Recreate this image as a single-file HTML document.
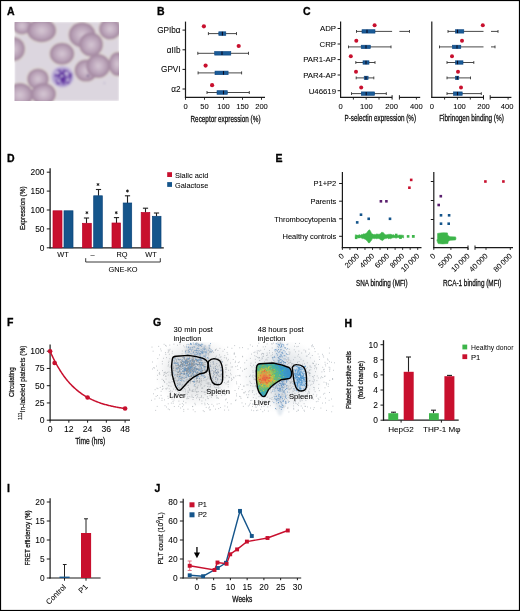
<!DOCTYPE html><html><head><meta charset="utf-8"><style>html,body{margin:0;padding:0;background:#fff;overflow:hidden}svg{display:block;will-change:transform}text{font-family:"Liberation Sans",sans-serif}</style></head><body>
<svg width="520" height="611" viewBox="0 0 520 611">
<rect x="0" y="0" width="520" height="611" fill="#fff"/>
<defs><filter id="bl" x="-10%" y="-10%" width="120%" height="120%"><feGaussianBlur stdDeviation="0.85"/></filter><filter id="bl2"><feGaussianBlur stdDeviation="0.5"/></filter><radialGradient id="rbc" cx="50%" cy="50%" r="50%"><stop offset="0" stop-color="#d4c6d3"/><stop offset="0.35" stop-color="#c6b2c5"/><stop offset="0.7" stop-color="#b39bb2"/><stop offset="0.92" stop-color="#a2869f"/><stop offset="1" stop-color="#aa90a8"/></radialGradient><radialGradient id="plt" cx="50%" cy="50%" r="50%"><stop offset="0" stop-color="#a98ec6"/><stop offset="0.8" stop-color="#9a7dbb"/><stop offset="1" stop-color="#b6a5cc"/></radialGradient><clipPath id="clipA"><rect x="14.5" y="22" width="104.5" height="79"/></clipPath><radialGradient id="heat" gradientUnits="userSpaceOnUse" cx="265" cy="378" r="24"><stop offset="0" stop-color="#e06a4a"/><stop offset="0.15" stop-color="#e0904a"/><stop offset="0.3" stop-color="#b8c050"/><stop offset="0.45" stop-color="#6cbc6c"/><stop offset="0.62" stop-color="#44b0a8"/><stop offset="0.8" stop-color="#3ea0c4"/><stop offset="1" stop-color="#3a90c8"/></radialGradient></defs>
<text x="7.00" y="14.50" font-size="10.5" text-anchor="start" font-weight="bold" fill="#000" stroke="#000" stroke-width="0.3">A</text>
<g clip-path="url(#clipA)"><g filter="url(#bl)">
<rect x="14.50" y="22.00" width="104.50" height="79.00" fill="#dcd6df"/>
<ellipse cx="22" cy="26" rx="10.5" ry="9.5" fill="#e2dbd2"/>
<ellipse cx="41.6" cy="30.5" rx="15.6" ry="12.8" fill="#e2dbd2"/>
<ellipse cx="13.5" cy="49" rx="12.5" ry="13" fill="#e2dbd2"/>
<ellipse cx="62" cy="53.8" rx="13.3" ry="12" fill="#e2dbd2"/>
<ellipse cx="38" cy="79" rx="11.8" ry="11.5" fill="#e2dbd2"/>
<ellipse cx="20" cy="95" rx="14" ry="13" fill="#e2dbd2"/>
<ellipse cx="43.5" cy="94" rx="13.5" ry="12" fill="#e2dbd2"/>
<ellipse cx="82.1" cy="34.8" rx="14.5" ry="13.5" fill="#e2dbd2"/>
<ellipse cx="91" cy="44.5" rx="13" ry="13" fill="#e2dbd2"/>
<ellipse cx="110" cy="29" rx="12" ry="11.5" fill="#e2dbd2"/>
<ellipse cx="86" cy="70.6" rx="12.5" ry="12" fill="#e2dbd2"/>
<ellipse cx="98.2" cy="66" rx="13" ry="13" fill="#e2dbd2"/>
<ellipse cx="117.5" cy="64" rx="10" ry="13" fill="#e2dbd2"/>
<ellipse cx="22" cy="26" rx="9.5" ry="8.5" fill="url(#rbc)" opacity="0.96"/>
<ellipse cx="41.6" cy="30.5" rx="14.6" ry="11.8" fill="url(#rbc)" opacity="0.96"/>
<ellipse cx="13.5" cy="49" rx="11.5" ry="12" fill="url(#rbc)" opacity="0.96"/>
<ellipse cx="62" cy="53.8" rx="12.3" ry="11" fill="url(#rbc)" opacity="0.96"/>
<ellipse cx="38" cy="79" rx="10.8" ry="10.5" fill="url(#rbc)" opacity="0.96"/>
<ellipse cx="20" cy="95" rx="13" ry="12" fill="url(#rbc)" opacity="0.96"/>
<ellipse cx="43.5" cy="94" rx="12.5" ry="11" fill="url(#rbc)" opacity="0.96"/>
<ellipse cx="82.1" cy="34.8" rx="13.5" ry="12.5" fill="url(#rbc)" opacity="0.96"/>
<ellipse cx="91" cy="44.5" rx="12" ry="12" fill="url(#rbc)" opacity="0.96"/>
<ellipse cx="110" cy="29" rx="11" ry="10.5" fill="url(#rbc)" opacity="0.96"/>
<ellipse cx="86" cy="70.6" rx="11.5" ry="11" fill="url(#rbc)" opacity="0.96"/>
<ellipse cx="98.2" cy="66" rx="12" ry="12" fill="url(#rbc)" opacity="0.96"/>
<ellipse cx="117.5" cy="64" rx="9" ry="12" fill="url(#rbc)" opacity="0.96"/>
<ellipse cx="62.5" cy="76.8" rx="11.2" ry="10.6" fill="#bcaed6"/>
<ellipse cx="62.8" cy="77.5" rx="9" ry="8.6" fill="#9a80c4" opacity="0.7"/>
<circle cx="62.0" cy="79.1" r="1.4" fill="#5d2f9e" opacity="0.65"/>
<circle cx="67.4" cy="79.7" r="1.1" fill="#5d2f9e" opacity="0.65"/>
<circle cx="67.4" cy="79.2" r="0.7" fill="#5d2f9e" opacity="0.65"/>
<circle cx="61.9" cy="77.9" r="0.8" fill="#5d2f9e" opacity="0.65"/>
<circle cx="56.3" cy="80.7" r="0.8" fill="#5d2f9e" opacity="0.65"/>
<circle cx="63.8" cy="83.0" r="1.6" fill="#5d2f9e" opacity="0.65"/>
<circle cx="59.2" cy="75.7" r="1.7" fill="#5d2f9e" opacity="0.65"/>
<circle cx="70.0" cy="79.6" r="1.0" fill="#5d2f9e" opacity="0.65"/>
<circle cx="63.7" cy="78.6" r="1.0" fill="#5d2f9e" opacity="0.65"/>
<circle cx="63.7" cy="75.6" r="1.3" fill="#5d2f9e" opacity="0.65"/>
<circle cx="60.3" cy="74.7" r="1.2" fill="#5d2f9e" opacity="0.65"/>
<circle cx="63.6" cy="77.8" r="0.9" fill="#5d2f9e" opacity="0.65"/>
<circle cx="61.0" cy="73.8" r="1.0" fill="#5d2f9e" opacity="0.65"/>
<circle cx="58.9" cy="75.3" r="1.0" fill="#5d2f9e" opacity="0.65"/>
<circle cx="64.6" cy="71.7" r="0.9" fill="#5d2f9e" opacity="0.65"/>
<circle cx="58.3" cy="75.3" r="1.6" fill="#5d2f9e" opacity="0.65"/>
<circle cx="62.4" cy="74.5" r="1.7" fill="#5d2f9e" opacity="0.65"/>
<circle cx="65.9" cy="80.2" r="1.5" fill="#5d2f9e" opacity="0.65"/>
<circle cx="65.6" cy="81.2" r="0.7" fill="#5d2f9e" opacity="0.65"/>
<circle cx="59.4" cy="71.8" r="1.3" fill="#5d2f9e" opacity="0.65"/>
<circle cx="65.2" cy="75.2" r="1.4" fill="#5d2f9e" opacity="0.65"/>
<circle cx="58.2" cy="74.6" r="1.2" fill="#5d2f9e" opacity="0.65"/>
<circle cx="67.1" cy="71.0" r="1.2" fill="#5d2f9e" opacity="0.65"/>
<circle cx="62.3" cy="76.8" r="1.4" fill="#5d2f9e" opacity="0.65"/>
<circle cx="57.7" cy="71.1" r="1.5" fill="#5d2f9e" opacity="0.65"/>
<circle cx="61.9" cy="81.2" r="1.4" fill="#5d2f9e" opacity="0.65"/>
<circle cx="67.3" cy="78.1" r="0.9" fill="#5d2f9e" opacity="0.65"/>
<circle cx="63.5" cy="78.1" r="1.5" fill="#5d2f9e" opacity="0.65"/>
<circle cx="64.7" cy="79.4" r="1.1" fill="#5d2f9e" opacity="0.65"/>
<circle cx="63.6" cy="76.7" r="1.1" fill="#5d2f9e" opacity="0.65"/>
<circle cx="55.5" cy="75.3" r="1.5" fill="#5d2f9e" opacity="0.65"/>
<circle cx="64.8" cy="75.3" r="1.1" fill="#5d2f9e" opacity="0.65"/>
<circle cx="57.9" cy="83.2" r="1.7" fill="#5d2f9e" opacity="0.65"/>
<circle cx="64.0" cy="79.1" r="0.9" fill="#5d2f9e" opacity="0.65"/>
<circle cx="63.3" cy="82.0" r="1.3" fill="#5d2f9e" opacity="0.65"/>
<circle cx="62.8" cy="77.6" r="1.1" fill="#5d2f9e" opacity="0.65"/>
<circle cx="59.1" cy="81.3" r="1.7" fill="#5d2f9e" opacity="0.65"/>
<circle cx="61.0" cy="73.1" r="1.3" fill="#5d2f9e" opacity="0.65"/>
<circle cx="62.4" cy="76.8" r="1.6" fill="#5d2f9e" opacity="0.65"/>
<circle cx="64.2" cy="70.4" r="1.5" fill="#5d2f9e" opacity="0.65"/>
<circle cx="59.6" cy="79.9" r="0.8" fill="#5d2f9e" opacity="0.65"/>
<circle cx="62.2" cy="76.8" r="0.8" fill="#5d2f9e" opacity="0.65"/>
<circle cx="63.3" cy="79.3" r="1.0" fill="#5d2f9e" opacity="0.65"/>
<circle cx="62.8" cy="77.5" r="0.9" fill="#5d2f9e" opacity="0.65"/>
<circle cx="65.8" cy="79.6" r="0.7" fill="#5d2f9e" opacity="0.65"/>
<circle cx="66.9" cy="73.6" r="0.8" fill="#5d2f9e" opacity="0.65"/>
<circle cx="62.7" cy="81.0" r="1.1" fill="#5d2f9e" opacity="0.65"/>
<circle cx="68.1" cy="82.4" r="1.7" fill="#5d2f9e" opacity="0.65"/>
<circle cx="58.2" cy="78.5" r="0.8" fill="#5d2f9e" opacity="0.65"/>
<circle cx="65.7" cy="79.6" r="1.0" fill="#5d2f9e" opacity="0.65"/>
<circle cx="63.7" cy="75.8" r="0.7" fill="#5d2f9e" opacity="0.65"/>
<circle cx="67.7" cy="76.0" r="0.8" fill="#5d2f9e" opacity="0.65"/>
<circle cx="62.3" cy="77.4" r="1.2" fill="#5d2f9e" opacity="0.65"/>
<circle cx="70.3" cy="76.5" r="1.4" fill="#5d2f9e" opacity="0.65"/>
<circle cx="62.5" cy="81.1" r="0.9" fill="#5d2f9e" opacity="0.65"/>
<circle cx="63.5" cy="72.7" r="1.5" fill="#5d2f9e" opacity="0.65"/>
<circle cx="61.6" cy="79.6" r="1.5" fill="#5d2f9e" opacity="0.65"/>
<circle cx="70.2" cy="76.8" r="1.5" fill="#5d2f9e" opacity="0.65"/>
<circle cx="65.6" cy="71.7" r="0.9" fill="#5d2f9e" opacity="0.65"/>
<circle cx="59.1" cy="77.1" r="0.7" fill="#5d2f9e" opacity="0.65"/>
<circle cx="65.8" cy="78.0" r="1.0" fill="#5d2f9e" opacity="0.65"/>
<circle cx="59.9" cy="70.2" r="1.1" fill="#5d2f9e" opacity="0.65"/>
<circle cx="70.6" cy="74.4" r="1.7" fill="#5d2f9e" opacity="0.65"/>
<circle cx="61.1" cy="79.3" r="0.9" fill="#5d2f9e" opacity="0.65"/>
<circle cx="63.6" cy="79.6" r="1.3" fill="#5d2f9e" opacity="0.65"/>
<circle cx="68.8" cy="73.4" r="1.2" fill="#5d2f9e" opacity="0.65"/>
<circle cx="58.7" cy="72.0" r="0.8" fill="#5d2f9e" opacity="0.65"/>
<circle cx="58.6" cy="71.2" r="1.5" fill="#5d2f9e" opacity="0.65"/>
<circle cx="62.8" cy="73.0" r="0.9" fill="#5d2f9e" opacity="0.65"/>
<circle cx="63.7" cy="74.3" r="1.5" fill="#5d2f9e" opacity="0.65"/>
<circle cx="57.5" cy="72.5" r="1.8" fill="#cbbfe0" opacity="0.85"/>
<circle cx="66.5" cy="73.5" r="2.0" fill="#cbbfe0" opacity="0.85"/>
<circle cx="59" cy="81" r="1.5" fill="#cbbfe0" opacity="0.85"/>
<circle cx="67.5" cy="80" r="1.6" fill="#cbbfe0" opacity="0.85"/>
<circle cx="62" cy="76" r="1.2" fill="#cbbfe0" opacity="0.85"/>
<circle cx="87.8" cy="75.7" r="0.9" fill="#3a2a70"/>
<circle cx="104.3" cy="83.1" r="0.5" fill="#7060a0"/>
</g></g>
<text x="157.00" y="14.50" font-size="10.5" text-anchor="start" font-weight="bold" fill="#000" stroke="#000" stroke-width="0.3">B</text>
<line x1="185.50" y1="21.60" x2="185.50" y2="97.80" stroke="#1a1a1a" stroke-width="1.2"/>
<line x1="184.90" y1="97.30" x2="265.00" y2="97.30" stroke="#1a1a1a" stroke-width="1.2"/>
<line x1="185.50" y1="97.30" x2="185.50" y2="99.80" stroke="#1a1a1a" stroke-width="0.9"/>
<text x="185.50" y="108.90" font-size="7.6" text-anchor="middle" stroke="#1a1a1a" stroke-width="0.06">0</text>
<line x1="204.50" y1="97.30" x2="204.50" y2="99.80" stroke="#1a1a1a" stroke-width="0.9"/>
<text x="204.50" y="108.90" font-size="7.6" text-anchor="middle" stroke="#1a1a1a" stroke-width="0.06">50</text>
<line x1="223.50" y1="97.30" x2="223.50" y2="99.80" stroke="#1a1a1a" stroke-width="0.9"/>
<text x="223.50" y="108.90" font-size="7.6" text-anchor="middle" stroke="#1a1a1a" stroke-width="0.06">100</text>
<line x1="242.50" y1="97.30" x2="242.50" y2="99.80" stroke="#1a1a1a" stroke-width="0.9"/>
<text x="242.50" y="108.90" font-size="7.6" text-anchor="middle" stroke="#1a1a1a" stroke-width="0.06">150</text>
<line x1="261.50" y1="97.30" x2="261.50" y2="99.80" stroke="#1a1a1a" stroke-width="0.9"/>
<text x="261.50" y="108.90" font-size="7.6" text-anchor="middle" stroke="#1a1a1a" stroke-width="0.06">200</text>
<text x="225.50" y="121.50" font-size="8.6" text-anchor="middle" textLength="70" lengthAdjust="spacingAndGlyphs" stroke="#1a1a1a" stroke-width="0.26">Receptor expression (%)</text>
<line x1="182.50" y1="30.10" x2="185.50" y2="30.10" stroke="#1a1a1a" stroke-width="1"/>
<text x="180.60" y="33.00" font-size="8.2" text-anchor="end" stroke="#1a1a1a" stroke-width="0.06">GPIb&#945;</text>
<circle cx="203.90" cy="26.30" r="2.1" fill="#c8102e"/>
<line x1="208.40" y1="33.60" x2="236.50" y2="33.60" stroke="#333" stroke-width="0.9"/>
<line x1="208.40" y1="32.10" x2="208.40" y2="35.10" stroke="#333" stroke-width="0.9"/>
<line x1="236.50" y1="32.10" x2="236.50" y2="35.10" stroke="#333" stroke-width="0.9"/>
<rect x="218.80" y="31.80" width="7.00" height="3.60" fill="#1a5b97" stroke="#0b4580" stroke-width="0.6"/>
<line x1="222.40" y1="31.80" x2="222.40" y2="35.40" stroke="#0a0a20" stroke-width="1.1"/>
<line x1="182.50" y1="49.80" x2="185.50" y2="49.80" stroke="#1a1a1a" stroke-width="1"/>
<text x="180.60" y="52.70" font-size="8.2" text-anchor="end" stroke="#1a1a1a" stroke-width="0.06">&#945;IIb</text>
<circle cx="238.70" cy="46.00" r="2.1" fill="#c8102e"/>
<line x1="197.80" y1="53.30" x2="248.50" y2="53.30" stroke="#333" stroke-width="0.9"/>
<line x1="197.80" y1="51.80" x2="197.80" y2="54.80" stroke="#333" stroke-width="0.9"/>
<line x1="248.50" y1="51.80" x2="248.50" y2="54.80" stroke="#333" stroke-width="0.9"/>
<rect x="214.70" y="51.50" width="16.10" height="3.60" fill="#1a5b97" stroke="#0b4580" stroke-width="0.6"/>
<line x1="222.00" y1="51.50" x2="222.00" y2="55.10" stroke="#0a0a20" stroke-width="1.1"/>
<line x1="182.50" y1="69.40" x2="185.50" y2="69.40" stroke="#1a1a1a" stroke-width="1"/>
<text x="180.60" y="72.30" font-size="8.2" text-anchor="end" stroke="#1a1a1a" stroke-width="0.06">GPVI</text>
<circle cx="205.60" cy="65.60" r="2.1" fill="#c8102e"/>
<line x1="198.10" y1="72.90" x2="241.60" y2="72.90" stroke="#333" stroke-width="0.9"/>
<line x1="198.10" y1="71.40" x2="198.10" y2="74.40" stroke="#333" stroke-width="0.9"/>
<line x1="241.60" y1="71.40" x2="241.60" y2="74.40" stroke="#333" stroke-width="0.9"/>
<rect x="215.00" y="71.10" width="13.10" height="3.60" fill="#1a5b97" stroke="#0b4580" stroke-width="0.6"/>
<line x1="223.50" y1="71.10" x2="223.50" y2="74.70" stroke="#0a0a20" stroke-width="1.1"/>
<line x1="182.50" y1="89.00" x2="185.50" y2="89.00" stroke="#1a1a1a" stroke-width="1"/>
<text x="180.60" y="91.90" font-size="8.2" text-anchor="end" stroke="#1a1a1a" stroke-width="0.06">&#945;2</text>
<circle cx="212.10" cy="85.20" r="2.1" fill="#c8102e"/>
<line x1="207.00" y1="92.50" x2="249.30" y2="92.50" stroke="#333" stroke-width="0.9"/>
<line x1="207.00" y1="91.00" x2="207.00" y2="94.00" stroke="#333" stroke-width="0.9"/>
<line x1="249.30" y1="91.00" x2="249.30" y2="94.00" stroke="#333" stroke-width="0.9"/>
<rect x="217.00" y="90.70" width="10.30" height="3.60" fill="#1a5b97" stroke="#0b4580" stroke-width="0.6"/>
<line x1="223.50" y1="90.70" x2="223.50" y2="94.30" stroke="#0a0a20" stroke-width="1.1"/>
<text x="303.00" y="14.50" font-size="10.5" text-anchor="start" font-weight="bold" fill="#000" stroke="#000" stroke-width="0.3">C</text>
<line x1="340.60" y1="21.60" x2="340.60" y2="97.80" stroke="#1a1a1a" stroke-width="1.2"/>
<line x1="340.00" y1="97.40" x2="392.10" y2="97.40" stroke="#1a1a1a" stroke-width="1.2"/>
<line x1="392.10" y1="95.20" x2="392.10" y2="99.60" stroke="#1a1a1a" stroke-width="1"/>
<line x1="399.40" y1="95.20" x2="399.40" y2="99.60" stroke="#1a1a1a" stroke-width="1"/>
<line x1="399.40" y1="97.40" x2="420.20" y2="97.40" stroke="#1a1a1a" stroke-width="1.2"/>
<line x1="353.40" y1="97.40" x2="353.40" y2="99.60" stroke="#1a1a1a" stroke-width="0.9"/>
<line x1="366.20" y1="97.40" x2="366.20" y2="99.60" stroke="#1a1a1a" stroke-width="0.9"/>
<line x1="379.00" y1="97.40" x2="379.00" y2="99.60" stroke="#1a1a1a" stroke-width="0.9"/>
<line x1="416.40" y1="97.40" x2="416.40" y2="99.60" stroke="#1a1a1a" stroke-width="0.9"/>
<text x="340.70" y="108.50" font-size="7.6" text-anchor="middle" stroke="#1a1a1a" stroke-width="0.06">0</text>
<text x="366.30" y="108.50" font-size="7.6" text-anchor="middle" stroke="#1a1a1a" stroke-width="0.06">100</text>
<text x="391.60" y="108.50" font-size="7.6" text-anchor="middle" stroke="#1a1a1a" stroke-width="0.06">200</text>
<text x="416.40" y="108.50" font-size="7.6" text-anchor="middle" stroke="#1a1a1a" stroke-width="0.06">400</text>
<text x="380.30" y="121.40" font-size="8.6" text-anchor="middle" textLength="71.5" lengthAdjust="spacingAndGlyphs" stroke="#1a1a1a" stroke-width="0.26">P-selectin expression (%)</text>
<line x1="337.60" y1="28.50" x2="340.60" y2="28.50" stroke="#1a1a1a" stroke-width="1"/>
<text x="336.00" y="31.30" font-size="7.8" text-anchor="end" stroke="#1a1a1a" stroke-width="0.06">ADP</text>
<circle cx="374.60" cy="25.20" r="2.0" fill="#c8102e"/>
<line x1="356.50" y1="31.40" x2="392.10" y2="31.40" stroke="#333" stroke-width="0.9"/>
<line x1="356.50" y1="30.00" x2="356.50" y2="32.80" stroke="#333" stroke-width="0.9"/>
<line x1="399.40" y1="31.40" x2="409.50" y2="31.40" stroke="#333" stroke-width="0.9"/>
<line x1="409.50" y1="30.00" x2="409.50" y2="32.80" stroke="#333" stroke-width="0.9"/>
<rect x="362.00" y="29.70" width="13.00" height="3.40" fill="#1a5b97" stroke="#0b4580" stroke-width="0.6"/>
<line x1="367.00" y1="29.70" x2="367.00" y2="33.10" stroke="#0a0a20" stroke-width="1.1"/>
<line x1="337.60" y1="44.00" x2="340.60" y2="44.00" stroke="#1a1a1a" stroke-width="1"/>
<text x="336.00" y="46.80" font-size="7.8" text-anchor="end" stroke="#1a1a1a" stroke-width="0.06">CRP</text>
<circle cx="356.30" cy="40.70" r="2.0" fill="#c8102e"/>
<line x1="348.50" y1="46.90" x2="391.00" y2="46.90" stroke="#333" stroke-width="0.9"/>
<line x1="348.50" y1="45.50" x2="348.50" y2="48.30" stroke="#333" stroke-width="0.9"/>
<line x1="391.00" y1="45.50" x2="391.00" y2="48.30" stroke="#333" stroke-width="0.9"/>
<rect x="361.20" y="45.20" width="9.10" height="3.40" fill="#1a5b97" stroke="#0b4580" stroke-width="0.6"/>
<line x1="366.00" y1="45.20" x2="366.00" y2="48.60" stroke="#0a0a20" stroke-width="1.1"/>
<line x1="337.60" y1="59.60" x2="340.60" y2="59.60" stroke="#1a1a1a" stroke-width="1"/>
<text x="336.00" y="62.40" font-size="7.8" text-anchor="end" stroke="#1a1a1a" stroke-width="0.06">PAR1-AP</text>
<circle cx="350.80" cy="56.30" r="2.0" fill="#c8102e"/>
<line x1="355.80" y1="62.50" x2="375.00" y2="62.50" stroke="#333" stroke-width="0.9"/>
<line x1="355.80" y1="61.10" x2="355.80" y2="63.90" stroke="#333" stroke-width="0.9"/>
<line x1="375.00" y1="61.10" x2="375.00" y2="63.90" stroke="#333" stroke-width="0.9"/>
<rect x="363.00" y="60.80" width="6.00" height="3.40" fill="#1a5b97" stroke="#0b4580" stroke-width="0.6"/>
<line x1="366.00" y1="60.80" x2="366.00" y2="64.20" stroke="#0a0a20" stroke-width="1.1"/>
<line x1="337.60" y1="75.00" x2="340.60" y2="75.00" stroke="#1a1a1a" stroke-width="1"/>
<text x="336.00" y="77.80" font-size="7.8" text-anchor="end" stroke="#1a1a1a" stroke-width="0.06">PAR4-AP</text>
<circle cx="356.00" cy="71.70" r="2.0" fill="#c8102e"/>
<line x1="356.20" y1="77.90" x2="373.80" y2="77.90" stroke="#333" stroke-width="0.9"/>
<line x1="356.20" y1="76.50" x2="356.20" y2="79.30" stroke="#333" stroke-width="0.9"/>
<line x1="373.80" y1="76.50" x2="373.80" y2="79.30" stroke="#333" stroke-width="0.9"/>
<rect x="364.20" y="76.20" width="3.90" height="3.40" fill="#1a5b97" stroke="#0b4580" stroke-width="0.6"/>
<line x1="366.00" y1="76.20" x2="366.00" y2="79.60" stroke="#0a0a20" stroke-width="1.1"/>
<line x1="337.60" y1="90.70" x2="340.60" y2="90.70" stroke="#1a1a1a" stroke-width="1"/>
<text x="336.00" y="93.50" font-size="7.8" text-anchor="end" stroke="#1a1a1a" stroke-width="0.06">U46619</text>
<circle cx="361.20" cy="87.40" r="2.0" fill="#c8102e"/>
<line x1="351.50" y1="93.60" x2="386.30" y2="93.60" stroke="#333" stroke-width="0.9"/>
<line x1="351.50" y1="92.20" x2="351.50" y2="95.00" stroke="#333" stroke-width="0.9"/>
<line x1="386.30" y1="92.20" x2="386.30" y2="95.00" stroke="#333" stroke-width="0.9"/>
<rect x="361.30" y="91.90" width="13.30" height="3.40" fill="#1a5b97" stroke="#0b4580" stroke-width="0.6"/>
<line x1="366.20" y1="91.90" x2="366.20" y2="95.30" stroke="#0a0a20" stroke-width="1.1"/>
<line x1="431.80" y1="21.60" x2="431.80" y2="97.80" stroke="#1a1a1a" stroke-width="1.2"/>
<line x1="431.20" y1="97.40" x2="483.50" y2="97.40" stroke="#1a1a1a" stroke-width="1.2"/>
<line x1="483.50" y1="95.20" x2="483.50" y2="99.60" stroke="#1a1a1a" stroke-width="1"/>
<line x1="490.20" y1="95.20" x2="490.20" y2="99.60" stroke="#1a1a1a" stroke-width="1"/>
<line x1="490.20" y1="97.40" x2="511.40" y2="97.40" stroke="#1a1a1a" stroke-width="1.2"/>
<line x1="444.60" y1="97.40" x2="444.60" y2="99.60" stroke="#1a1a1a" stroke-width="0.9"/>
<line x1="457.40" y1="97.40" x2="457.40" y2="99.60" stroke="#1a1a1a" stroke-width="0.9"/>
<line x1="470.30" y1="97.40" x2="470.30" y2="99.60" stroke="#1a1a1a" stroke-width="0.9"/>
<line x1="508.10" y1="97.40" x2="508.10" y2="99.60" stroke="#1a1a1a" stroke-width="0.9"/>
<text x="431.80" y="108.50" font-size="7.6" text-anchor="middle" stroke="#1a1a1a" stroke-width="0.06">0</text>
<text x="459.50" y="108.50" font-size="7.6" text-anchor="middle" stroke="#1a1a1a" stroke-width="0.06">100</text>
<text x="483.50" y="108.50" font-size="7.6" text-anchor="middle" stroke="#1a1a1a" stroke-width="0.06">200</text>
<text x="507.20" y="108.50" font-size="7.6" text-anchor="middle" stroke="#1a1a1a" stroke-width="0.06">400</text>
<text x="471.50" y="121.10" font-size="8.6" text-anchor="middle" textLength="64.7" lengthAdjust="spacingAndGlyphs" stroke="#1a1a1a" stroke-width="0.26">Fibrinogen binding (%)</text>
<circle cx="482.80" cy="25.20" r="2.0" fill="#c8102e"/>
<line x1="448.00" y1="31.40" x2="483.50" y2="31.40" stroke="#333" stroke-width="0.9"/>
<line x1="448.00" y1="30.00" x2="448.00" y2="32.80" stroke="#333" stroke-width="0.9"/>
<line x1="491.00" y1="31.40" x2="498.00" y2="31.40" stroke="#333" stroke-width="0.9"/>
<line x1="498.00" y1="30.00" x2="498.00" y2="32.80" stroke="#333" stroke-width="0.9"/>
<rect x="455.50" y="29.70" width="8.30" height="3.40" fill="#1a5b97" stroke="#0b4580" stroke-width="0.6"/>
<line x1="457.50" y1="29.70" x2="457.50" y2="33.10" stroke="#0a0a20" stroke-width="1.1"/>
<circle cx="462.00" cy="40.70" r="2.0" fill="#c8102e"/>
<line x1="439.50" y1="46.90" x2="483.50" y2="46.90" stroke="#333" stroke-width="0.9"/>
<line x1="439.50" y1="45.50" x2="439.50" y2="48.30" stroke="#333" stroke-width="0.9"/>
<line x1="491.00" y1="46.90" x2="495.00" y2="46.90" stroke="#333" stroke-width="0.9"/>
<line x1="495.00" y1="45.50" x2="495.00" y2="48.30" stroke="#333" stroke-width="0.9"/>
<rect x="452.50" y="45.20" width="8.30" height="3.40" fill="#1a5b97" stroke="#0b4580" stroke-width="0.6"/>
<line x1="457.00" y1="45.20" x2="457.00" y2="48.60" stroke="#0a0a20" stroke-width="1.1"/>
<circle cx="452.00" cy="56.30" r="2.0" fill="#c8102e"/>
<line x1="447.00" y1="62.50" x2="473.80" y2="62.50" stroke="#333" stroke-width="0.9"/>
<line x1="447.00" y1="61.10" x2="447.00" y2="63.90" stroke="#333" stroke-width="0.9"/>
<line x1="473.80" y1="61.10" x2="473.80" y2="63.90" stroke="#333" stroke-width="0.9"/>
<rect x="455.50" y="60.80" width="7.50" height="3.40" fill="#1a5b97" stroke="#0b4580" stroke-width="0.6"/>
<line x1="457.50" y1="60.80" x2="457.50" y2="64.20" stroke="#0a0a20" stroke-width="1.1"/>
<circle cx="458.00" cy="71.70" r="2.0" fill="#c8102e"/>
<line x1="447.00" y1="77.90" x2="470.50" y2="77.90" stroke="#333" stroke-width="0.9"/>
<line x1="447.00" y1="76.50" x2="447.00" y2="79.30" stroke="#333" stroke-width="0.9"/>
<line x1="470.50" y1="76.50" x2="470.50" y2="79.30" stroke="#333" stroke-width="0.9"/>
<rect x="455.50" y="76.20" width="3.30" height="3.40" fill="#1a5b97" stroke="#0b4580" stroke-width="0.6"/>
<line x1="457.30" y1="76.20" x2="457.30" y2="79.60" stroke="#0a0a20" stroke-width="1.1"/>
<circle cx="461.00" cy="87.40" r="2.0" fill="#c8102e"/>
<line x1="447.00" y1="93.60" x2="481.30" y2="93.60" stroke="#333" stroke-width="0.9"/>
<line x1="447.00" y1="92.20" x2="447.00" y2="95.00" stroke="#333" stroke-width="0.9"/>
<line x1="481.30" y1="92.20" x2="481.30" y2="95.00" stroke="#333" stroke-width="0.9"/>
<rect x="453.50" y="91.90" width="8.70" height="3.40" fill="#1a5b97" stroke="#0b4580" stroke-width="0.6"/>
<line x1="457.50" y1="91.90" x2="457.50" y2="95.30" stroke="#0a0a20" stroke-width="1.1"/>
<text x="7.00" y="162.00" font-size="10.5" text-anchor="start" font-weight="bold" fill="#000" stroke="#000" stroke-width="0.3">D</text>
<line x1="50.10" y1="168.20" x2="50.10" y2="248.30" stroke="#1a1a1a" stroke-width="1.3"/>
<line x1="49.50" y1="247.80" x2="163.80" y2="247.80" stroke="#1a1a1a" stroke-width="1.2"/>
<line x1="46.80" y1="247.80" x2="50.10" y2="247.80" stroke="#1a1a1a" stroke-width="1"/>
<text x="44.50" y="250.80" font-size="8.4" text-anchor="end" stroke="#1a1a1a" stroke-width="0.06">0</text>
<line x1="46.80" y1="228.90" x2="50.10" y2="228.90" stroke="#1a1a1a" stroke-width="1"/>
<text x="44.50" y="231.90" font-size="8.4" text-anchor="end" stroke="#1a1a1a" stroke-width="0.06">50</text>
<line x1="46.80" y1="210.00" x2="50.10" y2="210.00" stroke="#1a1a1a" stroke-width="1"/>
<text x="44.50" y="213.00" font-size="8.4" text-anchor="end" stroke="#1a1a1a" stroke-width="0.06">100</text>
<line x1="46.80" y1="191.10" x2="50.10" y2="191.10" stroke="#1a1a1a" stroke-width="1"/>
<text x="44.50" y="194.10" font-size="8.4" text-anchor="end" stroke="#1a1a1a" stroke-width="0.06">150</text>
<line x1="46.80" y1="172.20" x2="50.10" y2="172.20" stroke="#1a1a1a" stroke-width="1"/>
<text x="44.50" y="175.20" font-size="8.4" text-anchor="end" stroke="#1a1a1a" stroke-width="0.06">200</text>
<text x="24.80" y="208.20" font-size="7.6" text-anchor="middle" textLength="43.5" lengthAdjust="spacingAndGlyphs" stroke="#1a1a1a" stroke-width="0.26" transform="rotate(-90 24.80 208.20)">Expression (%)</text>
<rect x="53.00" y="210.80" width="9.00" height="37.00" fill="#c8102e" stroke="#b8002a" stroke-width="0.7"/>
<rect x="64.00" y="210.80" width="9.00" height="37.00" fill="#15558b" stroke="#0a437a" stroke-width="0.7"/>
<line x1="86.50" y1="223.30" x2="86.50" y2="218.00" stroke="#222" stroke-width="1.1"/>
<line x1="83.90" y1="218.00" x2="89.10" y2="218.00" stroke="#222" stroke-width="1.1"/>
<rect x="82.50" y="223.30" width="8.80" height="24.50" fill="#c8102e" stroke="#b8002a" stroke-width="0.7"/>
<path d="M86.90 211.20V214.20M85.60 211.95L88.20 213.45M85.60 213.45L88.20 211.95" stroke="#1a1a1a" stroke-width="0.9"/>
<line x1="98.50" y1="195.80" x2="98.50" y2="189.50" stroke="#222" stroke-width="1.1"/>
<line x1="95.90" y1="189.50" x2="101.10" y2="189.50" stroke="#222" stroke-width="1.1"/>
<rect x="93.70" y="195.80" width="8.60" height="52.00" fill="#15558b" stroke="#0a437a" stroke-width="0.7"/>
<path d="M98.00 183.00V186.00M96.70 183.75L99.30 185.25M96.70 185.25L99.30 183.75" stroke="#1a1a1a" stroke-width="0.9"/>
<line x1="116.50" y1="223.00" x2="116.50" y2="217.60" stroke="#222" stroke-width="1.1"/>
<line x1="113.90" y1="217.60" x2="119.10" y2="217.60" stroke="#222" stroke-width="1.1"/>
<rect x="112.00" y="223.00" width="8.50" height="24.80" fill="#c8102e" stroke="#b8002a" stroke-width="0.7"/>
<path d="M116.25 211.20V214.20M114.95 211.95L117.55 213.45M114.95 213.45L117.55 211.95" stroke="#1a1a1a" stroke-width="0.9"/>
<line x1="127.50" y1="203.00" x2="127.50" y2="195.80" stroke="#222" stroke-width="1.1"/>
<line x1="124.90" y1="195.80" x2="130.10" y2="195.80" stroke="#222" stroke-width="1.1"/>
<rect x="123.20" y="203.00" width="8.50" height="44.80" fill="#15558b" stroke="#0a437a" stroke-width="0.7"/>
<path d="M127.45 189.50V192.50M126.15 190.25L128.75 191.75M126.15 191.75L128.75 190.25" stroke="#1a1a1a" stroke-width="0.9"/>
<line x1="145.50" y1="212.50" x2="145.50" y2="208.20" stroke="#222" stroke-width="1.1"/>
<line x1="142.90" y1="208.20" x2="148.10" y2="208.20" stroke="#222" stroke-width="1.1"/>
<rect x="141.20" y="212.50" width="8.60" height="35.30" fill="#c8102e" stroke="#b8002a" stroke-width="0.7"/>
<line x1="156.50" y1="216.30" x2="156.50" y2="213.00" stroke="#222" stroke-width="1.1"/>
<line x1="153.90" y1="213.00" x2="159.10" y2="213.00" stroke="#222" stroke-width="1.1"/>
<rect x="152.40" y="216.30" width="8.60" height="31.50" fill="#15558b" stroke="#0a437a" stroke-width="0.7"/>
<text x="63.00" y="257.20" font-size="7.4" text-anchor="middle" stroke="#1a1a1a" stroke-width="0.06">WT</text>
<text x="92.50" y="257.20" font-size="7.4" text-anchor="middle" stroke="#1a1a1a" stroke-width="0.06">&#8211;</text>
<text x="122.00" y="257.20" font-size="7.4" text-anchor="middle" stroke="#1a1a1a" stroke-width="0.06">RQ</text>
<text x="151.00" y="257.20" font-size="7.4" text-anchor="middle" stroke="#1a1a1a" stroke-width="0.06">WT</text>
<path d="M85.7 258.2 V262 H160.3 V258.2" fill="none" stroke="#222" stroke-width="0.9"/>
<text x="123.00" y="272.00" font-size="7.4" text-anchor="middle" stroke="#1a1a1a" stroke-width="0.06">GNE-KO</text>
<rect x="167.20" y="172.20" width="4.80" height="4.80" fill="#c8102e"/>
<rect x="167.20" y="182.10" width="4.80" height="4.80" fill="#15558b"/>
<text x="175.00" y="177.50" font-size="7.4" text-anchor="start" stroke="#1a1a1a" stroke-width="0.06">Sialic acid</text>
<text x="175.00" y="187.50" font-size="7.4" text-anchor="start" stroke="#1a1a1a" stroke-width="0.06">Galactose</text>
<text x="275.50" y="162.00" font-size="10.5" text-anchor="start" font-weight="bold" fill="#000" stroke="#000" stroke-width="0.3">E</text>
<line x1="342.40" y1="172.10" x2="342.40" y2="248.20" stroke="#1a1a1a" stroke-width="1.2"/>
<line x1="341.80" y1="247.70" x2="421.50" y2="247.70" stroke="#1a1a1a" stroke-width="1.2"/>
<line x1="342.40" y1="247.70" x2="342.40" y2="249.90" stroke="#1a1a1a" stroke-width="0.9"/>
<line x1="349.93" y1="247.70" x2="349.93" y2="249.90" stroke="#1a1a1a" stroke-width="0.9"/>
<line x1="357.46" y1="247.70" x2="357.46" y2="249.90" stroke="#1a1a1a" stroke-width="0.9"/>
<line x1="364.99" y1="247.70" x2="364.99" y2="249.90" stroke="#1a1a1a" stroke-width="0.9"/>
<line x1="372.52" y1="247.70" x2="372.52" y2="249.90" stroke="#1a1a1a" stroke-width="0.9"/>
<line x1="380.05" y1="247.70" x2="380.05" y2="249.90" stroke="#1a1a1a" stroke-width="0.9"/>
<line x1="387.58" y1="247.70" x2="387.58" y2="249.90" stroke="#1a1a1a" stroke-width="0.9"/>
<line x1="395.11" y1="247.70" x2="395.11" y2="249.90" stroke="#1a1a1a" stroke-width="0.9"/>
<line x1="402.64" y1="247.70" x2="402.64" y2="249.90" stroke="#1a1a1a" stroke-width="0.9"/>
<line x1="410.17" y1="247.70" x2="410.17" y2="249.90" stroke="#1a1a1a" stroke-width="0.9"/>
<line x1="417.70" y1="247.70" x2="417.70" y2="249.90" stroke="#1a1a1a" stroke-width="0.9"/>
<line x1="339.10" y1="183.50" x2="342.40" y2="183.50" stroke="#1a1a1a" stroke-width="1"/>
<text x="336.30" y="186.20" font-size="7.5" text-anchor="end" stroke="#1a1a1a" stroke-width="0.06">P1+P2</text>
<line x1="339.10" y1="201.20" x2="342.40" y2="201.20" stroke="#1a1a1a" stroke-width="1"/>
<text x="336.30" y="203.90" font-size="7.5" text-anchor="end" stroke="#1a1a1a" stroke-width="0.06">Parents</text>
<line x1="339.10" y1="218.80" x2="342.40" y2="218.80" stroke="#1a1a1a" stroke-width="1"/>
<text x="336.30" y="221.50" font-size="7.5" text-anchor="end" stroke="#1a1a1a" stroke-width="0.06">Thrombocytopenia</text>
<line x1="339.10" y1="236.30" x2="342.40" y2="236.30" stroke="#1a1a1a" stroke-width="1"/>
<text x="336.30" y="239.00" font-size="7.5" text-anchor="end" stroke="#1a1a1a" stroke-width="0.06">Healthy controls</text>
<text x="344.60" y="256.50" font-size="7.6" text-anchor="end" stroke="#1a1a1a" stroke-width="0.06" transform="rotate(-45 344.60 256.50)">0</text>
<text x="359.66" y="256.50" font-size="7.6" text-anchor="end" stroke="#1a1a1a" stroke-width="0.06" transform="rotate(-45 359.66 256.50)">2000</text>
<text x="374.72" y="256.50" font-size="7.6" text-anchor="end" stroke="#1a1a1a" stroke-width="0.06" transform="rotate(-45 374.72 256.50)">4000</text>
<text x="389.78" y="256.50" font-size="7.6" text-anchor="end" stroke="#1a1a1a" stroke-width="0.06" transform="rotate(-45 389.78 256.50)">6000</text>
<text x="404.84" y="256.50" font-size="7.6" text-anchor="end" stroke="#1a1a1a" stroke-width="0.06" transform="rotate(-45 404.84 256.50)">8000</text>
<text x="419.90" y="256.50" font-size="7.6" text-anchor="end" stroke="#1a1a1a" stroke-width="0.06" transform="rotate(-45 419.90 256.50)">10&#8201;000</text>
<text x="381.90" y="285.60" font-size="8.6" text-anchor="middle" textLength="51.6" lengthAdjust="spacingAndGlyphs" stroke="#1a1a1a" stroke-width="0.26">SNA binding (MFI)</text>
<rect x="409.90" y="178.60" width="2.60" height="2.60" fill="#c8102e"/>
<rect x="408.10" y="186.40" width="2.60" height="2.60" fill="#c8102e"/>
<rect x="379.60" y="200.00" width="2.60" height="2.60" fill="#5a1f6e"/>
<rect x="385.10" y="200.00" width="2.60" height="2.60" fill="#5a1f6e"/>
<rect x="355.90" y="221.10" width="2.60" height="2.60" fill="#15558b"/>
<rect x="359.70" y="213.40" width="2.60" height="2.60" fill="#15558b"/>
<rect x="367.40" y="217.50" width="2.60" height="2.60" fill="#15558b"/>
<rect x="388.70" y="217.50" width="2.60" height="2.60" fill="#15558b"/>
<path d="M355.3 234.7 L356.0 235.1 L356.7 234.9 L357.4 235.3 L358.1 234.7 L358.8 235.3 L359.5 234.6 L360.2 235.1 L360.9 235.2 L361.6 234.3 L362.3 234.5 L363.0 234.3 L363.7 233.7 L364.4 233.9 L365.1 233.7 L365.8 233.4 L366.5 233.1 L367.2 232.2 L367.9 231.1 L368.6 230.3 L369.3 229.8 L370.0 230.2 L370.7 231.4 L371.4 233.0 L372.1 233.9 L372.8 234.1 L373.5 234.6 L374.2 234.3 L374.9 234.6 L375.6 234.4 L376.3 233.9 L377.0 234.2 L377.7 234.0 L378.4 234.2 L379.1 234.2 L379.8 233.9 L380.5 233.4 L381.2 232.7 L381.9 232.1 L382.6 232.4 L383.3 232.5 L384.0 233.6 L384.7 234.2 L385.4 234.7 L386.1 234.4 L386.8 234.9 L387.5 234.5 L388.2 234.2 L388.9 234.6 L389.6 234.3 L390.3 233.9 L391.0 234.6 L391.7 234.5 L392.4 234.9 L393.1 234.6 L393.8 234.8 L394.5 235.4 L395.2 234.9 L395.9 235.4 L396.6 234.8 L397.3 235.4 L398.0 235.4 L398.7 235.2 L399.4 235.1 L400.1 234.8 L400.8 235.3 L401.5 235.0 L402.2 235.4 L402.9 234.9 L403.6 235.4 L403.6 238.1 L402.9 237.7 L402.2 237.4 L401.5 237.9 L400.8 238.1 L400.1 237.6 L399.4 238.1 L398.7 237.5 L398.0 238.0 L397.3 237.6 L396.6 238.1 L395.9 238.2 L395.2 237.8 L394.5 237.7 L393.8 237.9 L393.1 237.6 L392.4 238.0 L391.7 238.2 L391.0 238.4 L390.3 238.8 L389.6 238.5 L388.9 238.8 L388.2 238.7 L387.5 237.9 L386.8 238.3 L386.1 238.5 L385.4 238.6 L384.7 238.7 L384.0 239.4 L383.3 239.7 L382.6 240.7 L381.9 240.1 L381.2 240.3 L380.5 239.8 L379.8 239.0 L379.1 238.8 L378.4 238.5 L377.7 238.5 L377.0 238.8 L376.3 238.7 L375.6 238.5 L374.9 238.6 L374.2 238.7 L373.5 238.4 L372.8 238.6 L372.1 239.1 L371.4 240.4 L370.7 241.2 L370.0 242.2 L369.3 243.0 L368.6 242.9 L367.9 242.0 L367.2 240.7 L366.5 240.4 L365.8 239.6 L365.1 239.4 L364.4 238.9 L363.7 238.6 L363.0 238.8 L362.3 238.6 L361.6 238.2 L360.9 237.6 L360.2 237.9 L359.5 237.9 L358.8 238.0 L358.1 238.0 L357.4 237.5 L356.7 237.5 L356.0 238.1 L355.3 237.7 Z" fill="#3db54a" stroke="#3db54a" stroke-width="0.5" stroke-linejoin="round"/>
<rect x="354.90" y="236.50" width="2.60" height="2.60" fill="#3db54a"/>
<rect x="399.20" y="236.30" width="2.60" height="2.60" fill="#3db54a"/>
<rect x="394.90" y="233.70" width="2.60" height="2.60" fill="#3db54a"/>
<rect x="406.80" y="235.10" width="2.60" height="2.60" fill="#3db54a"/>
<rect x="411.90" y="235.00" width="2.80" height="2.80" fill="#3db54a"/>
<line x1="433.80" y1="172.10" x2="433.80" y2="248.20" stroke="#1a1a1a" stroke-width="1.2"/>
<line x1="433.20" y1="247.70" x2="468.00" y2="247.70" stroke="#1a1a1a" stroke-width="1.2"/>
<line x1="468.00" y1="245.50" x2="468.00" y2="249.80" stroke="#1a1a1a" stroke-width="1"/>
<line x1="475.00" y1="245.50" x2="475.00" y2="249.80" stroke="#1a1a1a" stroke-width="1"/>
<line x1="475.00" y1="247.70" x2="513.00" y2="247.70" stroke="#1a1a1a" stroke-width="1.2"/>
<line x1="433.80" y1="247.70" x2="433.80" y2="249.90" stroke="#1a1a1a" stroke-width="0.9"/>
<line x1="450.90" y1="247.70" x2="450.90" y2="249.90" stroke="#1a1a1a" stroke-width="0.9"/>
<line x1="468.00" y1="247.70" x2="468.00" y2="249.90" stroke="#1a1a1a" stroke-width="0.9"/>
<line x1="486.00" y1="247.70" x2="486.00" y2="249.90" stroke="#1a1a1a" stroke-width="0.9"/>
<line x1="510.30" y1="247.70" x2="510.30" y2="249.90" stroke="#1a1a1a" stroke-width="0.9"/>
<line x1="430.80" y1="181.50" x2="433.80" y2="181.50" stroke="#1a1a1a" stroke-width="1"/>
<line x1="430.80" y1="200.50" x2="433.80" y2="200.50" stroke="#1a1a1a" stroke-width="1"/>
<line x1="430.80" y1="219.50" x2="433.80" y2="219.50" stroke="#1a1a1a" stroke-width="1"/>
<line x1="430.80" y1="238.30" x2="433.80" y2="238.30" stroke="#1a1a1a" stroke-width="1"/>
<text x="436.00" y="256.50" font-size="7.6" text-anchor="end" stroke="#1a1a1a" stroke-width="0.06" transform="rotate(-45 436.00 256.50)">0</text>
<text x="453.10" y="256.50" font-size="7.6" text-anchor="end" stroke="#1a1a1a" stroke-width="0.06" transform="rotate(-45 453.10 256.50)">5000</text>
<text x="470.20" y="256.50" font-size="7.6" text-anchor="end" stroke="#1a1a1a" stroke-width="0.06" transform="rotate(-45 470.20 256.50)">10&#8201;000</text>
<text x="488.20" y="256.50" font-size="7.6" text-anchor="end" stroke="#1a1a1a" stroke-width="0.06" transform="rotate(-45 488.20 256.50)">40&#8201;000</text>
<text x="512.50" y="256.50" font-size="7.6" text-anchor="end" stroke="#1a1a1a" stroke-width="0.06" transform="rotate(-45 512.50 256.50)">80&#8201;000</text>
<text x="472.20" y="285.60" font-size="8.6" text-anchor="middle" textLength="58.5" lengthAdjust="spacingAndGlyphs" stroke="#1a1a1a" stroke-width="0.26">RCA-1 binding (MFI)</text>
<rect x="484.10" y="180.20" width="2.60" height="2.60" fill="#c8102e"/>
<rect x="502.10" y="180.20" width="2.60" height="2.60" fill="#c8102e"/>
<rect x="439.50" y="194.90" width="2.60" height="2.60" fill="#5a1f6e"/>
<rect x="437.40" y="203.70" width="2.60" height="2.60" fill="#5a1f6e"/>
<rect x="439.70" y="214.00" width="2.60" height="2.60" fill="#15558b"/>
<rect x="447.80" y="214.00" width="2.60" height="2.60" fill="#15558b"/>
<rect x="439.70" y="222.40" width="2.60" height="2.60" fill="#15558b"/>
<rect x="447.40" y="222.40" width="2.60" height="2.60" fill="#15558b"/>
<path d="M437.6 233.4 Q442 232.4 447.4 232.9 L447.9 235.4 L450 236.7 L455.6 236.9 Q456.3 238.4 455.6 239.9 L450 240.3 L448.2 241.4 L447.9 243.5 Q443 244.2 438.2 243.6 L437.4 241.8 L436.9 240.2 L437.6 238.5 Z" fill="#3db54a" stroke="#3db54a" stroke-width="0.6" stroke-linejoin="round"/>
<text x="7.00" y="326.00" font-size="10.5" text-anchor="start" font-weight="bold" fill="#000" stroke="#000" stroke-width="0.3">F</text>
<line x1="50.10" y1="344.50" x2="50.10" y2="420.70" stroke="#1a1a1a" stroke-width="1.2"/>
<line x1="49.50" y1="420.20" x2="130.00" y2="420.20" stroke="#1a1a1a" stroke-width="1.2"/>
<line x1="46.80" y1="420.20" x2="50.10" y2="420.20" stroke="#1a1a1a" stroke-width="1"/>
<text x="44.60" y="423.20" font-size="8.6" text-anchor="end" stroke="#1a1a1a" stroke-width="0.06">0</text>
<line x1="46.80" y1="402.95" x2="50.10" y2="402.95" stroke="#1a1a1a" stroke-width="1"/>
<text x="44.60" y="405.95" font-size="8.6" text-anchor="end" stroke="#1a1a1a" stroke-width="0.06">25</text>
<line x1="46.80" y1="385.70" x2="50.10" y2="385.70" stroke="#1a1a1a" stroke-width="1"/>
<text x="44.60" y="388.70" font-size="8.6" text-anchor="end" stroke="#1a1a1a" stroke-width="0.06">50</text>
<line x1="46.80" y1="368.45" x2="50.10" y2="368.45" stroke="#1a1a1a" stroke-width="1"/>
<text x="44.60" y="371.45" font-size="8.6" text-anchor="end" stroke="#1a1a1a" stroke-width="0.06">75</text>
<line x1="46.80" y1="351.20" x2="50.10" y2="351.20" stroke="#1a1a1a" stroke-width="1"/>
<text x="44.60" y="354.20" font-size="8.6" text-anchor="end" stroke="#1a1a1a" stroke-width="0.06">100</text>
<line x1="50.10" y1="420.20" x2="50.10" y2="422.70" stroke="#1a1a1a" stroke-width="1"/>
<text x="50.10" y="432.00" font-size="8.7" text-anchor="middle" stroke="#1a1a1a" stroke-width="0.06">0</text>
<line x1="68.85" y1="420.20" x2="68.85" y2="422.70" stroke="#1a1a1a" stroke-width="1"/>
<text x="68.85" y="432.00" font-size="8.7" text-anchor="middle" stroke="#1a1a1a" stroke-width="0.06">12</text>
<line x1="87.60" y1="420.20" x2="87.60" y2="422.70" stroke="#1a1a1a" stroke-width="1"/>
<text x="87.60" y="432.00" font-size="8.7" text-anchor="middle" stroke="#1a1a1a" stroke-width="0.06">24</text>
<line x1="106.35" y1="420.20" x2="106.35" y2="422.70" stroke="#1a1a1a" stroke-width="1"/>
<text x="106.35" y="432.00" font-size="8.7" text-anchor="middle" stroke="#1a1a1a" stroke-width="0.06">36</text>
<line x1="125.10" y1="420.20" x2="125.10" y2="422.70" stroke="#1a1a1a" stroke-width="1"/>
<text x="125.10" y="432.00" font-size="8.7" text-anchor="middle" stroke="#1a1a1a" stroke-width="0.06">48</text>
<text x="90.20" y="443.60" font-size="8.4" text-anchor="middle" textLength="30" lengthAdjust="spacingAndGlyphs" stroke="#1a1a1a" stroke-width="0.26">Time (hrs)</text>
<text x="13.60" y="382.10" font-size="7.8" text-anchor="middle" textLength="30" lengthAdjust="spacingAndGlyphs" stroke="#1a1a1a" stroke-width="0.26" transform="rotate(-90 13.60 382.10)">Circulating</text>
<text x="25.2" y="382.8" font-size="8" text-anchor="middle" transform="rotate(-90 25.2 382.8)" textLength="74.5" lengthAdjust="spacingAndGlyphs" stroke="#1a1a1a" stroke-width="0.2"><tspan font-size="6.2" dy="-2.9">111</tspan><tspan dy="2.9">In-labeled platelets (%)</tspan></text>
<polyline points="50.10,351.20 50.88,352.99 51.66,354.72 52.44,356.40 53.23,358.03 54.01,359.62 54.79,361.16 55.57,362.65 56.35,364.10 57.13,365.50 57.91,366.87 58.69,368.19 59.48,369.48 60.26,370.73 61.04,371.94 61.82,373.12 62.60,374.26 63.38,375.36 64.16,376.44 64.94,377.48 65.72,378.50 66.51,379.48 67.29,380.43 68.07,381.36 68.85,382.26 69.63,383.13 70.41,383.98 71.19,384.80 71.97,385.60 72.76,386.37 73.54,387.12 74.32,387.85 75.10,388.56 75.88,389.25 76.66,389.91 77.44,390.56 78.22,391.19 79.01,391.80 79.79,392.39 80.57,392.96 81.35,393.52 82.13,394.06 82.91,394.59 83.69,395.10 84.47,395.59 85.26,396.07 86.04,396.54 86.82,396.99 87.60,397.43 88.38,397.86 89.16,398.27 89.94,398.67 90.72,399.06 91.51,399.44 92.29,399.81 93.07,400.16 93.85,400.51 94.63,400.84 95.41,401.17 96.19,401.49 96.97,401.79 97.76,402.09 98.54,402.38 99.32,402.66 100.10,402.93 100.88,403.20 101.66,403.45 102.44,403.70 103.22,403.94 104.01,404.18 104.79,404.41 105.57,404.63 106.35,404.84 107.13,405.05 107.91,405.25 108.69,405.45 109.47,405.64 110.26,405.82 111.04,406.00 111.82,406.18 112.60,406.35 113.38,406.51 114.16,406.67 114.94,406.82 115.72,406.97 116.51,407.12 117.29,407.26 118.07,407.40 118.85,407.53 119.63,407.66 120.41,407.78 121.19,407.91 121.97,408.02 122.76,408.14 123.54,408.25 124.32,408.36 125.10,408.46" fill="none" stroke="#c8102e" stroke-width="1.5"/>
<circle cx="50.10" cy="351.20" r="2.3" fill="#c8102e"/>
<circle cx="54.63" cy="362.93" r="2.3" fill="#c8102e"/>
<circle cx="87.60" cy="397.43" r="2.3" fill="#c8102e"/>
<circle cx="125.10" cy="408.47" r="2.3" fill="#c8102e"/>
<text x="153.00" y="326.00" font-size="10.5" text-anchor="start" font-weight="bold" fill="#000" stroke="#000" stroke-width="0.3">G</text>
<text x="173.60" y="331.50" font-size="7.6" text-anchor="start" stroke="#1a1a1a" stroke-width="0.06">30 min post</text>
<text x="173.60" y="340.80" font-size="7.6" text-anchor="start" stroke="#1a1a1a" stroke-width="0.06">injection</text>
<text x="257.70" y="331.50" font-size="7.6" text-anchor="start" stroke="#1a1a1a" stroke-width="0.06">48 hours post</text>
<text x="257.70" y="340.80" font-size="7.6" text-anchor="start" stroke="#1a1a1a" stroke-width="0.06">injection</text>
<defs><radialGradient id="cl1" gradientUnits="userSpaceOnUse" cx="196" cy="372" r="42" gradientTransform="translate(196 372) scale(1 0.85) translate(-196 -372)"><stop offset="0" stop-color="#c4c8cc" stop-opacity="0.75"/><stop offset="0.6" stop-color="#cfd2d5" stop-opacity="0.45"/><stop offset="1" stop-color="#e0e2e4" stop-opacity="0"/></radialGradient><radialGradient id="cl2" gradientUnits="userSpaceOnUse" cx="282" cy="376" r="44" gradientTransform="translate(282 376) scale(1 0.85) translate(-282 -376)"><stop offset="0" stop-color="#c0c8d0" stop-opacity="0.7"/><stop offset="0.6" stop-color="#ccd3d9" stop-opacity="0.4"/><stop offset="1" stop-color="#e0e3e6" stop-opacity="0"/></radialGradient></defs>
<rect x="150" y="342" width="98" height="70" fill="url(#cl1)"/>
<rect x="240" y="342" width="96" height="70" fill="url(#cl2)"/>
<ellipse cx="280" cy="378" rx="6.5" ry="38" fill="#b4c6d8" opacity="0.35" filter="url(#bl)"/>
<path d="M172.3 359.5 Q172.5 356.5 176 356.3 L188.5 355.4 Q197 356.5 203 358.3 Q207.5 360 208 364 L207.6 369 Q207.2 372.5 204 373 L200 373.7 Q193 377 188.5 381.3 L181.5 389 Q179.5 391.5 177.5 389.5 Q175 386 174.5 383 Q171.5 375 171.5 366 Z" fill="#d3d7db"/>
<path d="M208.3 361.5 Q211 358.6 214 358.6 Q218 358.8 220 361 Q222.5 365 222.7 372 L222.6 380 Q222 384.8 218.3 384.8 Q214.5 385 212.5 382.5 Q210.5 379 210 375 Q209 369 208.3 365 Z" fill="#dadde0"/>
<ellipse cx="198" cy="351" rx="13" ry="7" fill="#c4cad0" opacity="0.6" filter="url(#bl)"/>
<path d="M165.0 345.4h0.8M240.3 396.8h0.8M243.3 392.8h0.8M173.3 380.7h0.8M194.5 386.5h0.8M177.1 372.3h0.8M207.9 383.3h0.8M212.6 379.6h0.8M187.6 392.4h0.8M197.3 356.8h0.8M179.7 375.0h0.8M193.2 378.5h0.8M196.0 378.9h0.8M192.5 347.3h0.8M207.0 398.2h0.8M207.3 370.8h0.8M207.6 353.8h0.8M171.8 391.3h0.8M169.0 409.7h0.8M186.1 344.9h0.8M176.2 386.5h0.8M208.9 378.9h0.8M234.6 390.5h0.8M195.5 388.1h0.8M239.0 396.4h0.8M222.6 351.2h0.8M192.1 391.1h0.8M188.3 398.5h0.8M211.5 395.0h0.8M228.2 370.3h0.8M187.1 394.2h0.8M221.5 375.1h0.8M165.7 379.1h0.8M205.3 399.9h0.8M216.4 375.5h0.8M218.2 386.9h0.8M201.4 376.2h0.8M189.7 390.1h0.8M168.6 361.2h0.8M178.2 387.5h0.8M210.7 373.8h0.8M190.0 343.8h0.8M243.5 386.4h0.8M224.4 355.6h0.8M216.3 395.6h0.8M179.6 344.1h0.8M196.8 380.5h0.8M212.5 390.4h0.8M235.1 400.6h0.8M161.9 363.9h0.8M168.4 351.3h0.8M193.9 375.1h0.8M163.8 374.5h0.8M190.8 368.2h0.8M194.4 358.3h0.8M214.2 382.8h0.8M193.7 360.2h0.8M170.5 375.8h0.8M156.9 379.4h0.8M199.8 344.7h0.8M189.5 368.1h0.8M208.0 388.5h0.8M195.1 356.3h0.8M192.2 373.6h0.8M215.1 381.5h0.8M177.2 345.2h0.8M186.3 358.7h0.8M167.1 372.4h0.8M183.2 377.3h0.8M209.6 365.9h0.8M224.6 377.7h0.8M176.5 380.4h0.8M204.4 403.2h0.8M215.9 395.8h0.8M209.3 371.6h0.8M209.2 351.3h0.8M226.7 352.6h0.8M190.2 375.4h0.8M226.2 375.6h0.8M175.0 380.7h0.8M211.1 390.6h0.8M239.3 375.4h0.8M203.0 365.6h0.8M232.8 359.5h0.8M213.5 364.4h0.8M178.0 390.8h0.8M230.7 374.8h0.8M178.4 392.9h0.8M194.7 381.8h0.8M235.6 399.9h0.8M196.1 392.3h0.8M179.2 374.0h0.8M231.5 348.3h0.8M226.6 364.9h0.8M194.4 368.1h0.8M192.8 351.1h0.8M196.6 343.4h0.8M194.1 381.8h0.8M208.2 369.9h0.8M172.5 378.5h0.8M183.4 409.4h0.8M216.0 372.5h0.8M183.8 359.5h0.8M171.6 367.2h0.8M203.7 386.3h0.8M177.7 375.3h0.8M182.4 378.7h0.8M200.0 384.0h0.8M189.8 383.1h0.8M197.4 392.0h0.8M195.9 352.3h0.8M168.8 388.8h0.8M179.1 389.0h0.8M215.4 381.7h0.8M209.2 372.7h0.8M159.4 374.3h0.8M207.8 363.4h0.8M193.4 391.5h0.8M173.2 389.1h0.8M244.4 362.8h0.8M199.8 371.7h0.8M236.0 382.0h0.8M219.3 359.8h0.8M195.6 374.8h0.8M215.4 372.1h0.8M207.7 383.1h0.8M157.0 370.3h0.8M234.8 362.4h0.8M169.4 345.1h0.8M164.3 382.4h0.8M240.0 384.4h0.8M182.5 360.2h0.8M209.7 387.1h0.8M169.6 349.3h0.8M203.6 380.4h0.8M162.0 370.6h0.8M181.9 385.1h0.8M193.0 373.1h0.8M186.8 398.2h0.8M232.2 366.9h0.8M218.0 358.3h0.8M197.9 391.5h0.8M235.4 366.6h0.8M194.1 379.3h0.8M157.0 375.3h0.8M178.4 383.2h0.8M197.0 380.7h0.8M181.7 394.6h0.8M188.9 361.7h0.8M178.4 374.5h0.8M218.1 371.4h0.8M204.0 360.6h0.8M203.8 411.6h0.8M179.3 375.4h0.8M200.5 397.5h0.8M211.8 392.5h0.8M201.3 380.6h0.8M220.2 383.1h0.8M239.3 347.8h0.8M217.1 366.8h0.8M195.8 369.4h0.8M183.0 356.6h0.8M179.6 389.1h0.8M197.0 376.5h0.8M191.5 395.1h0.8M208.8 371.9h0.8M213.3 371.7h0.8M166.0 407.0h0.8M208.1 353.9h0.8M224.0 382.6h0.8M155.3 410.4h0.8M204.7 394.6h0.8M201.1 371.7h0.8M155.7 396.4h0.8M196.8 368.7h0.8M205.1 376.7h0.8M213.6 366.8h0.8M185.0 389.9h0.8M230.8 367.0h0.8M192.8 409.8h0.8M187.5 391.1h0.8M239.6 375.9h0.8M227.9 359.4h0.8M201.4 373.3h0.8M199.0 399.9h0.8M181.0 385.9h0.8M168.6 385.9h0.8M210.9 368.9h0.8M177.9 362.8h0.8M185.6 393.9h0.8M198.1 366.3h0.8M210.1 409.8h0.8M196.2 383.0h0.8M228.2 380.9h0.8M195.0 384.2h0.8M221.1 389.7h0.8M188.9 351.8h0.8M198.7 397.7h0.8M167.7 352.4h0.8M189.2 365.4h0.8M207.7 359.6h0.8M173.1 366.3h0.8M194.7 360.4h0.8M196.3 391.5h0.8M175.6 365.8h0.8M177.2 374.3h0.8M209.6 345.1h0.8M208.1 374.4h0.8M217.0 379.6h0.8M208.3 384.7h0.8M229.9 370.1h0.8M218.7 366.0h0.8M214.9 357.1h0.8M207.6 371.5h0.8M166.2 357.6h0.8M201.0 395.7h0.8M207.1 386.5h0.8M194.9 404.7h0.8M185.8 362.9h0.8M219.1 376.4h0.8M188.8 362.3h0.8M189.3 388.7h0.8M205.2 348.4h0.8M207.1 378.9h0.8M170.0 392.0h0.8M188.7 367.6h0.8M216.7 404.1h0.8M178.1 384.6h0.8M183.2 401.3h0.8M179.2 392.8h0.8M184.7 386.0h0.8M193.6 360.3h0.8M153.2 393.8h0.8M151.2 400.3h0.8M181.0 378.2h0.8M228.8 377.6h0.8M226.7 391.3h0.8M174.8 393.9h0.8M208.9 389.2h0.8M219.4 391.1h0.8M200.4 385.8h0.8M187.4 375.8h0.8M219.0 365.2h0.8M225.8 357.7h0.8M202.9 363.4h0.8M200.1 359.8h0.8M154.5 399.0h0.8M203.9 362.7h0.8M201.2 396.8h0.8M170.6 372.6h0.8M210.0 386.6h0.8M228.3 382.2h0.8M196.3 368.9h0.8M202.8 365.6h0.8M169.4 358.7h0.8M180.5 361.5h0.8M165.9 389.0h0.8M161.9 389.5h0.8M169.6 382.8h0.8M231.7 379.5h0.8M177.0 376.1h0.8M180.2 378.6h0.8M183.8 376.8h0.8M215.1 391.9h0.8M219.5 387.9h0.8M188.5 374.6h0.8M188.9 368.1h0.8M187.3 374.5h0.8M170.7 374.5h0.8M209.4 371.4h0.8M209.5 368.3h0.8M218.2 383.2h0.8M196.6 362.1h0.8M212.6 364.3h0.8M201.8 363.8h0.8M201.3 391.6h0.8M173.2 374.3h0.8M212.0 378.2h0.8M218.3 408.6h0.8M220.0 392.9h0.8M179.9 359.3h0.8M219.1 354.9h0.8M178.2 359.0h0.8M202.0 358.5h0.8M230.1 373.3h0.8M167.8 403.8h0.8M180.8 379.9h0.8M195.7 368.1h0.8M204.4 359.8h0.8M163.1 358.3h0.8M195.4 376.2h0.8M210.5 377.6h0.8M175.4 359.4h0.8M208.6 386.7h0.8M192.8 371.2h0.8M220.3 375.3h0.8M215.2 387.8h0.8M201.5 403.7h0.8M181.1 367.1h0.8M175.0 357.5h0.8M196.6 387.5h0.8M226.6 392.8h0.8M227.3 347.2h0.8M179.4 385.0h0.8M233.3 377.3h0.8M173.7 367.2h0.8M178.8 356.1h0.8M235.0 361.2h0.8M226.8 382.4h0.8M180.1 384.0h0.8M238.2 388.7h0.8M228.8 377.2h0.8M209.4 370.6h0.8M207.1 403.6h0.8M158.8 373.6h0.8M202.2 362.4h0.8M188.0 392.3h0.8M195.1 350.4h0.8M194.5 350.9h0.8M197.8 385.3h0.8M196.8 381.2h0.8M173.9 406.5h0.8M191.1 358.2h0.8M169.7 367.2h0.8M203.6 349.0h0.8M192.4 406.4h0.8M213.8 371.7h0.8M199.3 372.4h0.8M194.8 391.1h0.8M195.4 355.4h0.8M212.9 361.6h0.8M168.8 350.3h0.8M157.5 388.6h0.8M175.8 366.9h0.8M204.6 404.8h0.8M199.7 379.1h0.8M242.9 406.4h0.8M187.9 385.1h0.8M203.5 376.2h0.8M183.0 345.8h0.8M227.8 386.8h0.8M164.6 405.7h0.8M243.9 392.8h0.8M209.8 384.3h0.8M201.2 378.8h0.8M163.7 344.3h0.8M181.5 361.7h0.8M205.6 380.9h0.8M196.8 360.1h0.8M184.5 396.0h0.8M215.9 377.2h0.8M187.6 409.2h0.8M180.6 389.3h0.8M226.0 369.2h0.8M217.5 350.5h0.8M222.3 379.4h0.8M154.7 389.7h0.8M172.8 403.2h0.8M178.3 371.4h0.8M203.4 367.7h0.8M202.7 362.8h0.8M213.5 375.1h0.8M226.2 375.7h0.8M208.1 398.6h0.8M167.8 409.0h0.8M192.2 390.0h0.8M186.5 350.5h0.8M224.5 394.9h0.8M236.0 393.9h0.8M179.1 360.1h0.8M174.8 387.8h0.8M204.5 369.1h0.8M200.5 371.8h0.8M201.5 391.5h0.8M220.9 359.9h0.8M156.8 406.4h0.8M199.0 399.3h0.8M153.3 367.7h0.8M196.7 343.3h0.8M182.6 390.9h0.8M224.0 410.1h0.8M173.5 344.2h0.8M209.5 395.7h0.8M201.0 346.4h0.8M216.3 392.4h0.8M210.4 364.3h0.8M203.9 392.4h0.8M204.5 385.6h0.8M196.4 394.6h0.8M180.7 373.2h0.8M188.1 387.6h0.8M237.5 369.5h0.8M216.6 387.9h0.8M242.0 371.0h0.8M193.1 351.6h0.8M208.3 404.6h0.8M209.8 384.3h0.8M190.8 378.7h0.8M158.9 398.1h0.8M185.3 350.7h0.8M176.5 356.9h0.8M218.2 398.3h0.8M160.7 395.4h0.8M219.1 362.3h0.8M157.4 358.6h0.8M179.5 382.5h0.8M219.5 348.4h0.8M178.0 356.2h0.8M181.9 403.6h0.8M218.2 388.2h0.8M182.5 362.9h0.8M170.6 386.2h0.8M176.7 359.4h0.8M211.5 404.3h0.8M200.5 353.5h0.8M227.6 381.5h0.8M220.1 407.5h0.8M225.3 365.3h0.8M223.4 392.1h0.8M156.0 366.1h0.8M159.0 372.6h0.8M211.0 351.5h0.8M205.8 407.4h0.8M161.6 398.3h0.8M190.5 380.9h0.8M192.0 397.0h0.8M223.0 376.9h0.8M160.7 391.3h0.8M183.8 388.8h0.8M202.8 410.7h0.8M225.6 365.1h0.8M182.0 384.5h0.8M227.0 402.7h0.8M209.5 346.0h0.8M163.2 380.4h0.8M173.6 400.0h0.8M174.7 378.7h0.8M183.2 371.6h0.8M208.2 357.2h0.8M208.1 361.0h0.8M181.8 386.8h0.8M181.1 381.3h0.8M237.6 375.6h0.8M192.2 391.2h0.8M186.5 398.8h0.8M162.6 388.6h0.8M182.7 357.4h0.8M242.0 356.3h0.8M241.7 389.5h0.8M233.8 353.5h0.8M227.2 407.0h0.8M193.0 372.2h0.8M185.0 361.1h0.8M207.6 382.3h0.8M187.5 385.4h0.8M233.9 352.9h0.8M160.8 350.9h0.8M209.0 407.0h0.8M154.0 368.0h0.8M176.8 369.2h0.8M197.4 387.0h0.8M187.0 375.3h0.8M181.8 377.5h0.8M165.5 376.4h0.8M245.8 376.8h0.8M163.2 380.7h0.8M176.9 391.2h0.8M206.0 372.9h0.8M171.9 351.3h0.8M231.1 380.4h0.8M166.1 373.3h0.8M201.5 371.5h0.8M188.8 344.8h0.8M176.3 393.6h0.8M152.0 369.0h0.8M202.8 397.8h0.8M166.8 388.1h0.8M206.0 358.8h0.8M208.4 355.2h0.8M175.3 374.6h0.8M184.9 391.8h0.8M185.5 402.8h0.8M165.9 346.1h0.8M236.3 383.8h0.8M220.6 356.8h0.8M216.9 380.7h0.8M212.9 375.6h0.8M227.4 360.7h0.8M226.2 358.8h0.8M168.9 354.3h0.8M184.4 347.0h0.8M188.4 361.2h0.8M181.7 353.9h0.8M197.0 364.9h0.8M199.0 380.5h0.8M182.1 357.5h0.8M177.4 368.5h0.8M187.3 396.8h0.8M184.5 396.2h0.8M227.7 384.6h0.8M208.7 377.7h0.8M208.6 348.3h0.8M220.7 363.3h0.8M221.6 376.9h0.8M225.3 372.0h0.8M185.7 380.3h0.8M184.9 363.0h0.8M198.7 378.2h0.8M235.4 376.0h0.8M240.6 398.4h0.8M199.4 378.0h0.8M192.3 358.9h0.8M194.3 360.9h0.8M238.6 386.8h0.8M194.6 365.8h0.8M167.8 350.0h0.8M195.2 371.7h0.8M233.5 377.9h0.8M200.4 366.8h0.8M180.3 408.0h0.8M186.9 375.7h0.8M173.1 396.3h0.8M159.8 387.4h0.8M224.5 406.0h0.8M171.6 399.0h0.8M177.4 358.3h0.8M161.6 400.4h0.8M238.9 361.9h0.8M176.3 367.5h0.8M178.5 401.1h0.8M244.6 369.1h0.8M178.0 363.8h0.8M167.8 398.4h0.8M151.6 347.1h0.8M203.5 358.2h0.8M216.3 375.2h0.8M165.5 388.7h0.8M243.5 385.9h0.8M177.3 367.3h0.8M189.7 382.6h0.8M152.2 362.0h0.8M209.3 409.9h0.8M213.3 368.3h0.8M165.4 354.4h0.8M178.7 378.2h0.8M194.7 411.7h0.8M203.5 351.4h0.8M236.2 395.9h0.8M198.6 359.1h0.8M219.7 357.3h0.8M161.7 379.3h0.8M202.3 388.3h0.8M213.0 406.0h0.8M174.2 396.5h0.8M170.3 390.3h0.8M200.7 380.4h0.8M221.2 374.6h0.8M224.9 394.3h0.8M199.5 362.5h0.8M176.4 363.4h0.8M190.7 374.5h0.8M216.0 356.1h0.8M177.5 368.0h0.8M201.0 352.2h0.8M237.9 362.6h0.8M195.8 381.1h0.8M201.0 388.2h0.8M203.3 378.6h0.8M204.0 370.7h0.8M174.6 362.2h0.8M194.5 403.3h0.8M183.4 355.8h0.8M181.5 379.1h0.8M197.3 381.1h0.8M195.1 395.5h0.8M242.2 347.6h0.8M200.2 369.2h0.8M209.7 379.2h0.8M186.3 358.4h0.8M159.2 354.9h0.8M214.1 387.0h0.8M195.4 386.3h0.8M180.3 376.6h0.8M197.0 387.2h0.8M194.2 371.9h0.8M192.5 360.8h0.8M214.1 393.4h0.8M245.0 403.9h0.8M216.0 349.1h0.8M173.4 380.9h0.8M209.1 352.5h0.8M186.0 366.2h0.8M197.6 382.4h0.8M188.5 347.8h0.8M228.3 410.1h0.8M193.2 397.5h0.8M207.5 389.5h0.8M208.5 358.2h0.8M210.9 397.2h0.8M187.2 361.8h0.8M174.9 377.6h0.8M195.1 389.7h0.8M213.6 385.5h0.8M203.1 370.4h0.8M192.8 356.9h0.8M200.6 374.5h0.8M204.3 356.2h0.8M197.0 376.1h0.8M211.7 351.6h0.8M206.9 396.6h0.8M211.5 366.9h0.8M183.2 369.8h0.8M215.0 409.2h0.8M191.9 360.9h0.8M205.8 379.5h0.8M172.4 358.8h0.8M193.4 389.8h0.8M165.0 352.6h0.8M209.0 348.1h0.8M198.8 382.7h0.8M193.1 352.6h0.8M194.4 367.7h0.8M204.7 356.5h0.8M191.4 375.2h0.8M221.0 361.6h0.8M210.2 362.5h0.8M185.6 384.7h0.8M171.9 396.4h0.8M227.5 375.8h0.8M166.5 383.9h0.8M225.9 399.0h0.8M178.3 406.3h0.8M164.1 399.9h0.8M244.9 391.8h0.8M225.1 367.7h0.8M164.1 372.7h0.8M190.8 374.0h0.8M214.1 371.8h0.8M201.0 384.3h0.8M207.5 376.9h0.8M190.6 361.2h0.8M231.0 378.3h0.8M168.0 362.6h0.8M192.4 365.2h0.8M224.2 349.4h0.8M208.8 378.2h0.8M165.4 376.0h0.8M193.5 386.0h0.8M184.3 381.7h0.8M152.7 351.2h0.8M216.4 397.9h0.8M195.7 361.8h0.8M175.2 389.8h0.8M213.0 352.3h0.8M200.0 355.3h0.8M197.4 394.8h0.8M225.6 383.8h0.8M196.1 398.0h0.8M179.4 359.5h0.8M186.3 373.4h0.8M167.9 385.7h0.8M210.1 376.6h0.8M240.2 367.8h0.8M230.0 363.0h0.8M201.1 371.1h0.8M183.1 361.6h0.8M187.0 359.2h0.8M181.7 363.5h0.8M168.5 372.0h0.8M216.4 369.5h0.8M183.2 404.9h0.8M221.4 395.3h0.8M226.0 367.8h0.8M192.6 399.5h0.8M181.6 372.4h0.8M205.8 383.2h0.8M188.8 396.6h0.8M191.4 391.0h0.8M223.8 389.5h0.8M215.1 349.5h0.8M161.9 361.4h0.8M208.4 408.0h0.8M164.2 381.7h0.8M173.8 358.9h0.8M188.8 390.2h0.8M201.5 401.0h0.8M170.4 394.6h0.8M220.2 376.5h0.8M208.4 362.6h0.8M167.7 366.1h0.8M183.4 411.3h0.8M201.3 381.9h0.8M215.3 357.9h0.8M219.8 383.3h0.8M156.6 388.2h0.8M210.4 385.0h0.8M237.2 365.9h0.8M209.3 391.5h0.8M172.6 401.4h0.8M158.3 346.4h0.8M209.6 351.0h0.8M197.8 350.1h0.8M207.7 369.1h0.8M197.7 373.5h0.8M199.4 345.9h0.8M171.7 365.0h0.8M176.2 361.6h0.8M168.5 382.2h0.8M192.4 356.9h0.8M170.4 392.8h0.8M178.9 387.9h0.8M167.8 375.1h0.8M204.9 392.2h0.8M216.9 397.8h0.8M186.3 370.4h0.8M216.2 365.6h0.8M213.0 371.2h0.8M204.1 375.5h0.8M168.0 364.8h0.8M235.3 356.8h0.8M164.8 372.1h0.8M185.8 354.9h0.8M174.1 398.1h0.8M181.9 351.0h0.8M216.5 387.4h0.8M168.9 391.5h0.8M225.3 369.4h0.8M162.1 386.3h0.8M219.8 374.5h0.8M206.9 391.9h0.8M244.2 369.4h0.8M183.5 374.2h0.8M227.4 354.3h0.8M216.7 360.1h0.8M207.9 390.1h0.8M165.3 373.1h0.8M202.3 387.9h0.8M171.8 353.2h0.8M191.0 370.1h0.8M157.1 395.5h0.8M182.1 406.6h0.8M218.1 375.5h0.8M214.9 350.5h0.8M187.5 362.3h0.8M163.0 375.4h0.8M192.2 406.6h0.8M172.1 364.8h0.8M207.0 383.9h0.8M196.7 364.6h0.8M208.9 382.9h0.8M160.3 349.0h0.8M199.8 376.3h0.8M199.0 355.7h0.8M190.8 354.9h0.8M205.9 390.2h0.8M241.6 402.9h0.8M175.1 364.9h0.8M171.6 381.7h0.8M162.4 386.3h0.8M196.0 381.6h0.8M242.3 356.8h0.8M204.9 357.9h0.8M197.1 396.8h0.8M192.4 359.7h0.8M196.7 388.6h0.8M185.5 386.0h0.8M217.2 371.8h0.8M184.1 370.9h0.8M170.9 370.4h0.8M188.1 379.6h0.8M230.7 403.8h0.8M184.4 388.3h0.8M203.7 391.8h0.8M196.6 380.8h0.8M183.8 357.7h0.8M218.7 403.6h0.8M213.2 384.6h0.8M202.9 365.1h0.8M201.2 362.8h0.8M170.9 403.1h0.8M177.3 374.5h0.8M182.8 378.4h0.8M190.5 358.5h0.8M223.9 357.7h0.8M182.8 387.2h0.8M182.0 365.4h0.8M205.3 366.9h0.8M163.6 372.8h0.8M167.5 396.3h0.8M175.6 367.2h0.8M187.5 381.0h0.8M179.5 404.3h0.8M221.9 392.9h0.8M176.3 394.8h0.8M193.2 382.8h0.8M189.0 389.6h0.8M225.0 399.9h0.8M190.7 396.9h0.8M233.8 354.4h0.8M234.3 345.6h0.8" stroke="#a8adb2" stroke-width="0.8" opacity="1" fill="none"/>
<path d="M193.9 371.2h0.9M202.3 369.0h0.9M184.7 361.4h0.9M177.7 372.4h0.9M186.9 362.0h0.9M193.8 361.6h0.9M185.1 363.8h0.9M203.9 377.2h0.9M191.5 367.5h0.9M192.1 371.0h0.9M186.1 373.5h0.9M196.5 368.5h0.9M185.3 363.6h0.9M195.2 359.3h0.9M187.6 361.8h0.9M176.5 371.2h0.9M188.8 367.3h0.9M188.4 369.0h0.9M196.5 359.4h0.9M195.4 368.5h0.9M201.2 375.0h0.9M193.9 382.0h0.9M189.0 364.0h0.9M185.9 360.4h0.9M188.2 370.0h0.9M197.9 364.6h0.9M201.5 362.4h0.9M182.1 361.5h0.9M202.1 370.6h0.9M179.3 370.6h0.9M193.2 365.4h0.9M189.2 364.9h0.9M188.2 375.8h0.9M201.6 365.1h0.9M182.4 365.6h0.9M196.9 369.4h0.9M183.9 369.5h0.9M187.2 370.5h0.9M189.5 372.2h0.9M179.3 366.3h0.9M196.7 364.4h0.9M183.3 380.9h0.9M196.3 374.0h0.9M180.7 378.1h0.9M174.5 363.5h0.9M195.5 376.1h0.9M180.9 362.5h0.9M194.6 370.8h0.9M185.1 370.7h0.9M195.8 369.1h0.9M193.6 377.3h0.9M184.8 368.1h0.9M184.4 374.0h0.9M185.4 370.2h0.9M190.2 367.5h0.9M204.0 366.4h0.9M201.4 372.6h0.9M200.5 365.9h0.9M197.1 372.1h0.9M183.7 368.8h0.9M187.9 366.8h0.9M200.3 362.1h0.9M185.1 362.6h0.9M189.1 370.8h0.9M204.3 369.1h0.9M193.0 362.0h0.9M194.0 376.2h0.9M196.7 377.7h0.9M186.3 371.0h0.9M192.6 361.5h0.9M181.3 373.5h0.9M177.4 376.7h0.9M189.2 369.0h0.9M177.4 363.0h0.9M195.0 357.1h0.9M206.9 357.5h0.9M178.4 367.3h0.9M193.2 371.9h0.9M185.8 365.6h0.9M187.0 363.1h0.9M191.2 368.1h0.9M183.6 368.7h0.9M188.9 366.5h0.9M191.2 359.8h0.9M186.3 377.1h0.9M179.6 366.3h0.9M183.9 373.4h0.9M193.4 364.6h0.9M186.2 374.3h0.9M181.3 364.5h0.9M190.3 369.8h0.9M184.5 374.0h0.9M201.2 364.7h0.9M190.2 364.7h0.9M183.5 358.4h0.9M185.6 375.7h0.9M198.9 364.7h0.9M184.4 362.3h0.9M178.6 379.1h0.9M194.7 367.8h0.9M184.8 360.1h0.9M200.4 372.2h0.9M180.8 373.6h0.9M179.4 371.3h0.9M180.7 364.2h0.9M193.3 369.9h0.9M197.7 361.4h0.9M202.6 376.0h0.9M188.9 370.1h0.9M182.3 366.0h0.9M177.6 367.6h0.9M190.7 376.0h0.9M197.2 372.5h0.9M185.9 365.5h0.9M186.1 368.5h0.9M172.3 372.2h0.9M175.5 363.5h0.9M189.2 363.5h0.9M203.4 366.3h0.9M202.6 374.9h0.9M184.7 369.7h0.9M200.2 364.8h0.9M189.8 363.2h0.9M189.5 364.6h0.9M189.7 373.7h0.9M201.0 367.9h0.9M190.7 372.8h0.9M186.5 359.9h0.9M198.6 360.7h0.9M197.0 360.5h0.9M204.8 360.0h0.9M196.3 377.1h0.9M180.7 377.0h0.9M195.2 371.7h0.9M188.5 364.9h0.9M185.7 365.1h0.9M173.5 363.2h0.9M204.6 377.4h0.9M185.9 362.2h0.9M192.4 374.1h0.9M195.2 359.1h0.9M190.4 367.9h0.9M201.4 375.0h0.9M193.5 375.2h0.9M185.6 377.3h0.9M185.3 369.7h0.9M196.9 360.9h0.9M190.4 366.6h0.9M186.2 370.3h0.9M189.8 365.2h0.9M195.9 378.8h0.9M185.1 360.7h0.9M183.8 367.6h0.9M194.1 361.2h0.9M197.6 360.1h0.9M196.1 369.9h0.9M193.0 381.5h0.9M186.7 365.9h0.9M193.1 372.8h0.9M177.4 368.8h0.9M182.6 371.2h0.9M200.8 367.3h0.9M188.1 368.2h0.9M193.8 368.1h0.9M185.6 362.1h0.9M187.5 375.2h0.9M188.1 376.1h0.9M191.4 366.9h0.9M174.7 362.5h0.9M199.8 358.3h0.9M180.4 359.6h0.9M184.2 371.3h0.9M201.6 363.0h0.9M183.9 378.2h0.9M188.3 358.7h0.9M183.5 362.1h0.9M180.3 364.8h0.9M196.6 369.4h0.9M177.1 385.7h0.9M180.4 367.8h0.9M189.3 372.1h0.9M186.2 370.1h0.9M179.6 369.2h0.9M182.1 364.5h0.9M190.6 369.3h0.9M186.5 372.7h0.9M187.3 358.2h0.9M196.6 364.6h0.9M199.5 362.6h0.9M193.9 369.1h0.9M179.3 376.5h0.9M172.7 373.1h0.9M198.4 370.3h0.9M194.8 363.7h0.9M188.9 368.5h0.9M192.6 371.8h0.9M187.2 362.3h0.9M184.1 369.8h0.9M174.6 358.6h0.9M185.4 363.3h0.9M186.1 365.3h0.9M186.4 370.2h0.9M193.2 375.0h0.9M198.1 359.9h0.9M194.5 364.7h0.9M182.1 377.3h0.9M183.6 361.3h0.9M185.5 361.3h0.9M197.7 369.6h0.9M201.1 369.8h0.9M183.7 374.0h0.9M183.3 363.9h0.9M187.5 367.3h0.9M199.3 362.9h0.9M192.0 366.8h0.9M178.1 359.6h0.9M187.1 369.7h0.9M191.8 370.2h0.9M189.4 364.0h0.9M192.7 360.2h0.9M177.4 364.8h0.9M176.6 363.5h0.9M182.5 363.3h0.9M188.6 361.6h0.9M190.3 361.1h0.9M182.0 368.6h0.9M189.8 367.7h0.9M176.0 368.5h0.9M190.3 360.4h0.9M195.5 366.7h0.9M189.2 364.0h0.9M193.8 367.7h0.9M198.9 370.1h0.9M183.6 365.5h0.9M197.0 364.5h0.9M192.3 370.5h0.9M190.1 368.4h0.9M190.2 361.9h0.9M199.5 366.1h0.9M183.6 362.1h0.9M192.1 359.6h0.9M180.3 380.5h0.9M200.4 374.1h0.9M200.9 371.0h0.9M174.3 375.1h0.9M199.8 370.3h0.9M200.9 363.7h0.9M190.1 372.3h0.9M188.3 374.4h0.9M189.7 371.7h0.9M191.4 375.9h0.9M198.9 378.6h0.9M193.8 363.0h0.9M187.4 373.2h0.9M196.2 376.0h0.9M180.9 362.6h0.9M172.6 360.1h0.9M193.7 381.1h0.9M179.0 376.4h0.9M192.7 363.6h0.9M188.4 368.5h0.9M197.6 376.3h0.9M193.5 369.4h0.9M187.4 364.2h0.9M178.3 380.3h0.9M191.3 366.8h0.9M190.5 379.3h0.9M188.1 365.2h0.9M182.5 366.8h0.9M185.2 368.4h0.9M181.5 380.1h0.9M196.6 372.6h0.9M195.3 372.6h0.9M194.9 376.6h0.9M197.8 376.2h0.9M184.6 367.0h0.9M182.6 373.5h0.9M196.3 363.8h0.9M194.1 384.9h0.9M199.8 359.4h0.9M188.2 371.3h0.9M188.7 369.6h0.9M199.3 369.2h0.9M179.4 371.9h0.9M188.1 367.8h0.9M184.0 357.6h0.9M178.1 364.6h0.9M199.1 359.1h0.9M182.6 370.6h0.9M182.3 371.5h0.9M184.8 369.1h0.9M189.9 367.0h0.9M188.6 376.6h0.9M184.2 370.6h0.9M190.4 370.3h0.9M191.4 365.8h0.9M186.3 361.2h0.9M182.1 360.0h0.9M179.4 384.1h0.9M203.9 367.1h0.9" stroke="#5a8cbc" stroke-width="0.9" opacity="0.9" fill="none"/>
<path d="M195.5 360.3h0.9M190.2 376.8h0.9M188.6 360.2h0.9M186.9 360.2h0.9M176.8 365.4h0.9M185.5 361.5h0.9M181.2 360.7h0.9M191.1 376.5h0.9M187.2 382.3h0.9M174.8 368.9h0.9M178.9 365.9h0.9M189.9 370.8h0.9M198.9 363.2h0.9M178.1 365.7h0.9M191.6 362.2h0.9M196.8 378.5h0.9M176.5 369.5h0.9M190.8 365.5h0.9M176.5 376.0h0.9M190.9 363.7h0.9M192.9 371.4h0.9M195.7 371.0h0.9M192.6 359.0h0.9M185.3 367.9h0.9M185.7 359.8h0.9M173.0 368.7h0.9M189.3 363.0h0.9M185.3 360.9h0.9M182.4 366.3h0.9M183.4 371.6h0.9M187.7 367.9h0.9M192.6 375.7h0.9M194.3 368.6h0.9M187.6 361.5h0.9M186.0 371.7h0.9M191.0 364.4h0.9M191.8 374.0h0.9M192.3 357.6h0.9M187.1 368.5h0.9M180.9 369.4h0.9M187.2 361.3h0.9M178.1 372.5h0.9M192.1 360.9h0.9M180.1 373.1h0.9M194.2 364.9h0.9M203.0 365.0h0.9M179.7 374.4h0.9M187.3 369.4h0.9M189.3 360.2h0.9M178.6 365.7h0.9M201.3 360.2h0.9M200.9 368.5h0.9M179.3 368.8h0.9M194.0 360.9h0.9M179.3 370.0h0.9M172.3 366.0h0.9M186.9 368.2h0.9M184.1 359.0h0.9M193.7 370.3h0.9M203.7 373.0h0.9M192.1 368.8h0.9M189.2 358.0h0.9M201.8 370.6h0.9M186.5 359.2h0.9M202.0 370.6h0.9M178.6 371.6h0.9M205.6 366.8h0.9M192.5 364.2h0.9M183.5 374.3h0.9M187.9 372.4h0.9M186.3 372.0h0.9M196.2 360.1h0.9M179.6 366.5h0.9M196.3 368.9h0.9M199.8 357.6h0.9M193.3 362.8h0.9M189.9 369.2h0.9M180.5 365.4h0.9M178.8 368.8h0.9M181.6 363.6h0.9M190.9 362.6h0.9M199.0 362.7h0.9M196.4 368.9h0.9M180.0 365.5h0.9M181.7 364.5h0.9M186.6 379.3h0.9M185.3 377.6h0.9M192.9 358.1h0.9M198.0 369.6h0.9M187.2 365.3h0.9M191.3 364.9h0.9M184.3 364.5h0.9M199.2 362.8h0.9M192.3 359.2h0.9M182.8 357.7h0.9M187.3 371.6h0.9M191.7 363.7h0.9M194.3 364.6h0.9M192.2 368.9h0.9M177.7 372.2h0.9M188.1 382.2h0.9M187.0 363.3h0.9M202.0 370.8h0.9M205.5 370.5h0.9M187.2 371.9h0.9M182.1 364.0h0.9M184.2 365.5h0.9M195.8 363.7h0.9M191.8 363.6h0.9M187.2 368.1h0.9M179.6 373.9h0.9M190.9 375.7h0.9M197.4 371.3h0.9M187.7 359.6h0.9M187.1 363.9h0.9M191.2 363.9h0.9M199.2 363.8h0.9M186.9 373.3h0.9M189.0 358.8h0.9M192.6 365.7h0.9M179.8 362.0h0.9M193.2 369.0h0.9M186.5 381.7h0.9M192.6 362.9h0.9M191.1 366.2h0.9M176.9 381.0h0.9M187.4 365.1h0.9M184.1 373.6h0.9M189.2 378.5h0.9M195.8 378.1h0.9M188.0 369.5h0.9M185.2 365.9h0.9M174.0 363.1h0.9M180.7 362.6h0.9M199.6 368.8h0.9M199.6 372.8h0.9M197.0 373.8h0.9M183.7 372.4h0.9M186.2 363.4h0.9M199.4 381.6h0.9M180.5 378.7h0.9M196.2 361.3h0.9M191.4 369.5h0.9M192.3 364.6h0.9M177.9 367.2h0.9M196.5 372.3h0.9M194.7 374.4h0.9M180.4 366.7h0.9M192.0 373.7h0.9M190.4 370.5h0.9M190.2 381.2h0.9M173.1 367.9h0.9M176.6 362.4h0.9M190.9 378.6h0.9M193.0 371.5h0.9M197.8 368.4h0.9M181.6 366.3h0.9M191.9 365.1h0.9M183.2 364.6h0.9M176.0 360.1h0.9M188.2 364.6h0.9M189.3 376.5h0.9M191.6 366.8h0.9M178.8 359.7h0.9M192.3 361.1h0.9M192.7 359.8h0.9M190.2 366.5h0.9M197.6 364.4h0.9M185.8 368.7h0.9M189.5 378.4h0.9M186.8 363.4h0.9M186.2 370.2h0.9M191.0 371.7h0.9M177.0 383.7h0.9M204.9 366.8h0.9M178.5 368.0h0.9M189.1 357.0h0.9M193.0 376.3h0.9M201.0 373.1h0.9M185.9 370.4h0.9M202.1 364.8h0.9M188.9 363.2h0.9M201.3 360.5h0.9M180.9 363.0h0.9M194.2 362.7h0.9M199.8 364.9h0.9M193.2 365.8h0.9M204.5 364.6h0.9M188.8 380.4h0.9M189.7 371.6h0.9M182.6 368.3h0.9M176.7 374.7h0.9M204.7 362.3h0.9M185.8 368.7h0.9M182.5 375.0h0.9M199.4 367.2h0.9M193.3 367.3h0.9M192.6 360.3h0.9M181.1 362.3h0.9M185.8 371.2h0.9M178.5 377.7h0.9M183.5 363.0h0.9M195.1 369.9h0.9M186.1 359.8h0.9M198.9 374.3h0.9M205.2 370.4h0.9M191.9 372.1h0.9M197.2 365.3h0.9M192.1 381.5h0.9M174.3 357.5h0.9M180.7 372.1h0.9M199.3 364.7h0.9M194.8 366.7h0.9M191.6 363.4h0.9M188.8 367.0h0.9M198.8 382.0h0.9M173.3 370.6h0.9M189.0 373.5h0.9M198.2 372.3h0.9M196.0 360.6h0.9M174.2 378.3h0.9M199.5 360.6h0.9M200.2 371.5h0.9M180.4 374.9h0.9M183.1 362.0h0.9M175.6 365.5h0.9M197.8 362.5h0.9M172.9 381.5h0.9M205.0 371.7h0.9M184.3 358.8h0.9M174.8 370.8h0.9M200.3 359.9h0.9M189.0 365.1h0.9M186.8 370.4h0.9M196.4 374.3h0.9M186.5 366.0h0.9M177.4 374.3h0.9M184.4 362.6h0.9M189.6 361.2h0.9M180.0 365.0h0.9M201.9 365.6h0.9M193.6 357.1h0.9M172.1 379.3h0.9M188.1 371.1h0.9M174.0 361.0h0.9M191.3 360.8h0.9M195.9 373.5h0.9M192.8 364.1h0.9M188.6 362.7h0.9M187.9 369.1h0.9" stroke="#8a9096" stroke-width="0.9" opacity="0.9" fill="none"/>
<path d="M196.0 354.7h0.9M200.3 354.0h0.9M202.4 348.9h0.9M194.8 354.8h0.9M202.2 352.4h0.9M192.6 353.0h0.9M203.4 349.1h0.9M185.3 352.9h0.9M190.1 343.4h0.9M196.4 352.6h0.9M198.4 344.4h0.9M188.3 347.3h0.9M198.1 346.0h0.9M187.8 358.5h0.9M192.3 349.2h0.9M194.3 347.2h0.9M198.3 348.6h0.9M202.2 344.3h0.9M187.9 359.4h0.9M197.5 353.7h0.9M206.0 352.7h0.9M187.2 354.7h0.9M202.6 352.8h0.9M190.8 344.3h0.9M199.1 345.1h0.9M208.7 347.0h0.9M194.2 354.2h0.9M200.2 345.6h0.9M203.6 359.3h0.9M189.7 348.8h0.9M202.3 353.4h0.9M204.6 352.1h0.9M193.5 344.3h0.9M190.5 353.7h0.9M196.0 359.5h0.9M204.1 356.1h0.9M198.2 344.1h0.9M210.0 343.6h0.9M205.4 355.7h0.9M195.2 343.4h0.9M197.6 351.8h0.9M187.6 344.4h0.9M197.3 353.4h0.9M198.5 352.2h0.9M200.1 345.5h0.9M197.2 348.2h0.9M201.3 346.2h0.9M207.9 350.2h0.9M201.6 353.1h0.9M205.1 352.0h0.9M186.0 346.9h0.9M210.7 352.3h0.9M201.8 352.3h0.9M193.6 346.7h0.9M193.6 355.7h0.9M200.5 358.7h0.9M201.4 359.2h0.9M201.1 344.2h0.9M209.9 351.7h0.9M206.2 351.1h0.9M195.8 350.8h0.9M190.3 344.1h0.9M191.9 347.4h0.9M188.7 349.5h0.9M200.1 359.9h0.9M210.6 349.8h0.9M204.1 348.9h0.9M200.7 349.8h0.9M194.3 350.4h0.9M187.8 352.2h0.9M196.0 344.7h0.9M195.5 352.7h0.9M193.3 352.3h0.9M201.9 357.7h0.9M190.5 349.5h0.9M201.5 357.4h0.9M199.8 353.7h0.9M187.9 347.1h0.9M209.4 348.6h0.9M202.4 351.3h0.9M211.9 350.8h0.9M196.3 343.1h0.9M197.4 354.7h0.9M203.1 356.1h0.9M204.0 349.8h0.9M202.2 350.9h0.9M188.8 358.4h0.9M200.6 344.8h0.9M200.7 351.4h0.9M204.9 357.1h0.9M208.6 345.3h0.9M185.1 351.4h0.9M200.3 351.7h0.9M190.3 347.7h0.9M199.3 353.7h0.9M205.4 349.3h0.9M197.2 345.1h0.9M198.8 350.6h0.9M200.1 356.5h0.9M197.3 350.5h0.9M196.0 350.3h0.9M204.6 346.0h0.9M203.6 351.9h0.9M188.0 350.7h0.9M199.4 353.6h0.9M203.7 347.3h0.9M205.4 354.1h0.9M201.3 352.4h0.9M189.1 351.8h0.9M190.8 344.1h0.9M195.6 350.7h0.9M197.6 348.4h0.9M191.0 350.9h0.9M192.8 343.0h0.9M198.6 357.2h0.9M195.2 344.7h0.9M207.6 358.5h0.9M196.0 349.0h0.9M198.9 354.9h0.9M190.3 343.9h0.9" stroke="#6a94c0" stroke-width="0.9" opacity="0.9" fill="none"/>
<path d="M216.7 372.7h0.8M216.2 372.5h0.8M216.1 382.3h0.8M220.2 367.8h0.8M217.7 369.3h0.8M215.4 373.1h0.8M215.1 368.7h0.8M221.2 370.2h0.8M217.8 383.7h0.8M217.5 379.2h0.8M220.5 379.6h0.8M221.9 362.0h0.8M209.4 371.8h0.8M209.1 365.0h0.8M216.2 373.1h0.8M211.8 370.4h0.8M214.6 372.5h0.8M215.0 370.5h0.8M213.0 372.9h0.8M213.4 368.1h0.8M213.3 373.5h0.8M220.0 370.7h0.8M213.9 374.5h0.8M216.1 369.4h0.8M212.7 376.4h0.8M215.2 368.1h0.8M215.1 371.2h0.8M216.8 373.6h0.8M213.1 363.2h0.8M210.6 371.0h0.8M210.4 377.3h0.8M221.5 365.1h0.8M214.8 370.3h0.8M209.2 375.9h0.8M214.9 377.9h0.8M212.9 377.0h0.8M218.6 376.2h0.8M220.8 370.8h0.8M221.2 367.1h0.8M215.1 366.4h0.8M215.0 379.2h0.8M217.9 372.7h0.8M221.8 361.7h0.8M211.7 382.6h0.8M216.4 363.7h0.8M220.9 380.0h0.8M212.8 381.1h0.8M211.7 378.4h0.8M217.3 371.1h0.8M209.3 370.0h0.8M217.3 374.6h0.8M218.1 372.5h0.8M216.9 378.7h0.8M212.6 362.1h0.8M215.0 377.4h0.8M221.0 373.9h0.8M215.8 377.2h0.8M220.6 369.8h0.8M210.1 366.5h0.8M210.0 365.8h0.8" stroke="#7a8ea8" stroke-width="0.8" opacity="0.9" fill="none"/>
<path d="M278.6 385.5h0.8M286.4 379.5h0.8M272.0 387.3h0.8M306.8 394.7h0.8M323.9 371.6h0.8M287.6 387.1h0.8M272.6 399.3h0.8M270.7 355.8h0.8M280.3 368.3h0.8M305.4 369.7h0.8M285.5 373.2h0.8M291.5 364.1h0.8M312.9 346.7h0.8M271.2 362.4h0.8M300.1 378.9h0.8M295.6 370.7h0.8M261.9 353.4h0.8M272.6 366.2h0.8M289.8 385.8h0.8M309.4 375.7h0.8M261.0 354.7h0.8M283.7 385.9h0.8M252.6 404.6h0.8M313.8 407.6h0.8M281.7 399.0h0.8M268.5 376.5h0.8M276.0 399.0h0.8M283.9 362.4h0.8M288.8 392.5h0.8M262.1 392.0h0.8M262.1 358.7h0.8M288.2 372.8h0.8M282.7 383.3h0.8M269.1 382.1h0.8M293.7 384.1h0.8M264.8 379.7h0.8M285.6 401.5h0.8M289.7 383.6h0.8M261.7 397.0h0.8M314.8 367.1h0.8M299.9 384.8h0.8M280.7 349.7h0.8M290.5 369.7h0.8M314.0 368.7h0.8M283.1 391.4h0.8M294.8 366.6h0.8M301.1 386.6h0.8M309.7 366.8h0.8M280.7 369.4h0.8M258.6 383.6h0.8M293.4 409.2h0.8M272.9 386.5h0.8M313.9 375.5h0.8M283.8 380.9h0.8M262.7 356.3h0.8M313.2 381.8h0.8M279.9 350.7h0.8M285.3 403.7h0.8M249.9 358.4h0.8M313.0 409.4h0.8M325.3 365.9h0.8M298.7 361.5h0.8M296.5 370.0h0.8M287.5 407.4h0.8M291.4 372.7h0.8M283.6 383.8h0.8M267.7 382.5h0.8M247.5 397.2h0.8M285.4 402.9h0.8M267.8 367.4h0.8M291.5 365.2h0.8M312.9 377.9h0.8M269.5 398.2h0.8M259.0 405.3h0.8M308.8 381.1h0.8M320.3 378.0h0.8M280.5 402.2h0.8M295.5 390.4h0.8M291.0 387.6h0.8M289.3 373.1h0.8M283.7 391.3h0.8M255.6 365.6h0.8M303.4 373.3h0.8M308.8 370.0h0.8M286.2 380.5h0.8M276.3 395.6h0.8M251.9 391.0h0.8M311.5 345.5h0.8M262.9 356.3h0.8M297.6 389.0h0.8M261.7 353.5h0.8M299.8 374.6h0.8M266.0 372.0h0.8M274.3 362.2h0.8M284.3 398.9h0.8M323.2 394.1h0.8M259.5 360.5h0.8M258.4 343.2h0.8M313.7 379.5h0.8M262.8 346.9h0.8M271.4 366.9h0.8M329.5 368.0h0.8M285.2 401.2h0.8M300.4 374.1h0.8M298.5 368.6h0.8M279.6 357.3h0.8M257.2 345.9h0.8M295.8 389.2h0.8M286.8 394.9h0.8M296.8 380.6h0.8M257.7 390.8h0.8M314.7 391.7h0.8M316.3 367.8h0.8M255.1 405.1h0.8M265.9 383.3h0.8M276.8 378.5h0.8M274.6 366.4h0.8M257.1 353.7h0.8M275.2 394.1h0.8M298.5 351.1h0.8M266.2 370.3h0.8M316.5 380.6h0.8M278.6 360.7h0.8M284.5 378.9h0.8M302.0 408.1h0.8M302.2 378.4h0.8M287.5 377.7h0.8M331.3 411.8h0.8M297.6 375.7h0.8M264.6 401.0h0.8M269.6 398.7h0.8M260.5 380.3h0.8M293.0 381.1h0.8M288.4 386.2h0.8M251.2 354.1h0.8M278.6 358.1h0.8M263.9 378.7h0.8M314.4 365.8h0.8M297.4 382.0h0.8M272.3 357.7h0.8M277.8 362.5h0.8M312.9 394.3h0.8M297.8 410.2h0.8M283.5 387.7h0.8M263.3 353.7h0.8M293.8 389.0h0.8M270.4 372.8h0.8M268.1 365.8h0.8M280.4 401.1h0.8M326.1 384.8h0.8M286.2 395.9h0.8M254.6 352.0h0.8M288.8 396.2h0.8M270.6 363.4h0.8M293.0 391.2h0.8M288.6 359.8h0.8M264.1 410.2h0.8M318.1 388.3h0.8M289.5 381.7h0.8M266.0 376.9h0.8M263.9 381.5h0.8M306.3 395.9h0.8M255.7 375.2h0.8M274.8 351.6h0.8M284.1 367.7h0.8M307.1 387.3h0.8M260.7 379.7h0.8M272.3 364.4h0.8M268.7 400.8h0.8M260.9 395.3h0.8M272.3 371.0h0.8M280.6 384.0h0.8M303.6 395.8h0.8M264.7 365.3h0.8M324.4 393.3h0.8M285.9 354.6h0.8M306.1 389.3h0.8M303.9 383.7h0.8M283.7 366.2h0.8M290.4 383.2h0.8M299.8 401.2h0.8M290.5 366.4h0.8M304.0 411.2h0.8M259.3 387.0h0.8M296.9 389.5h0.8M295.7 376.1h0.8M329.2 348.0h0.8M263.7 367.0h0.8M280.5 366.5h0.8M322.1 403.1h0.8M270.8 392.1h0.8M281.0 402.7h0.8M297.9 377.3h0.8M297.0 362.7h0.8M303.6 410.2h0.8M272.2 389.9h0.8M305.9 356.2h0.8M329.4 380.4h0.8M305.8 372.2h0.8M312.0 344.9h0.8M279.3 398.9h0.8M263.6 392.5h0.8M272.2 385.4h0.8M248.3 394.7h0.8M317.7 354.0h0.8M290.3 362.5h0.8M266.7 360.1h0.8M290.0 368.0h0.8M257.4 373.2h0.8M293.1 359.7h0.8M293.1 369.7h0.8M324.8 364.3h0.8M264.0 349.3h0.8M252.5 370.8h0.8M256.0 410.6h0.8M287.7 397.6h0.8M282.1 388.1h0.8M279.0 382.5h0.8M287.8 362.9h0.8M291.5 381.5h0.8M281.0 363.4h0.8M254.4 383.3h0.8M267.4 406.9h0.8M306.9 362.8h0.8M318.8 356.9h0.8M270.1 373.4h0.8M250.0 375.1h0.8M272.3 365.0h0.8M264.7 393.9h0.8M323.8 369.3h0.8M318.5 384.4h0.8M270.9 382.2h0.8M288.4 358.0h0.8M288.3 363.3h0.8M257.0 386.7h0.8M289.1 395.8h0.8M260.3 409.4h0.8M295.6 403.5h0.8M317.9 378.0h0.8M287.0 364.6h0.8M312.0 363.1h0.8M283.6 382.6h0.8M267.5 373.5h0.8M247.7 348.9h0.8M248.3 391.8h0.8M280.7 395.7h0.8M252.5 390.7h0.8M269.9 379.9h0.8M307.5 378.7h0.8M283.7 394.8h0.8M264.7 376.6h0.8M293.0 405.9h0.8M271.6 344.3h0.8M290.2 374.7h0.8M310.4 369.8h0.8M291.1 382.3h0.8M294.2 346.3h0.8M301.5 397.0h0.8M257.4 410.2h0.8M282.6 392.6h0.8M297.2 397.2h0.8M264.5 365.4h0.8M292.3 391.1h0.8M297.8 385.3h0.8M268.7 401.9h0.8M295.0 401.0h0.8M263.7 380.6h0.8M268.9 371.3h0.8M287.3 385.5h0.8M260.5 389.7h0.8M258.7 387.3h0.8M271.8 357.6h0.8M279.1 376.9h0.8M308.5 349.2h0.8M257.9 402.6h0.8M306.9 367.3h0.8M260.5 385.6h0.8M298.3 394.6h0.8M311.5 346.7h0.8M246.4 360.3h0.8M254.9 371.2h0.8M287.7 387.9h0.8M322.2 354.3h0.8M306.4 381.3h0.8M249.5 381.3h0.8M261.7 399.9h0.8M318.1 364.5h0.8M257.1 380.9h0.8M252.9 397.6h0.8M286.9 361.3h0.8M263.0 393.8h0.8M260.2 373.7h0.8M304.9 406.5h0.8M300.2 380.0h0.8M329.2 392.5h0.8M294.2 390.6h0.8M302.5 384.1h0.8M277.4 343.1h0.8M265.2 383.8h0.8M272.7 384.4h0.8M314.7 351.6h0.8M291.2 379.8h0.8M286.2 381.2h0.8M271.8 348.0h0.8M294.7 386.5h0.8M298.1 405.4h0.8M256.4 386.8h0.8M281.6 394.0h0.8M277.2 364.9h0.8M288.9 389.4h0.8M254.9 407.0h0.8M314.1 387.8h0.8M278.9 372.8h0.8M254.7 367.0h0.8M309.9 357.8h0.8M267.4 396.9h0.8M334.0 362.8h0.8M312.9 363.6h0.8M292.9 388.6h0.8M250.1 400.6h0.8M332.4 379.1h0.8M289.5 352.2h0.8M332.1 379.4h0.8M246.3 394.8h0.8M263.7 365.3h0.8M266.2 390.2h0.8M322.8 355.8h0.8M324.7 376.1h0.8M262.4 411.7h0.8M279.0 408.1h0.8M259.6 379.2h0.8M292.3 373.7h0.8M324.6 362.3h0.8M310.1 408.0h0.8M256.7 366.0h0.8M292.9 374.2h0.8M284.2 367.9h0.8M279.7 388.7h0.8M302.9 360.8h0.8M278.8 361.2h0.8M277.0 346.4h0.8M308.7 392.8h0.8M278.6 363.0h0.8M269.2 363.4h0.8M249.3 390.7h0.8M299.0 343.4h0.8M268.1 379.9h0.8M281.9 365.7h0.8M278.0 371.4h0.8M316.8 376.0h0.8M281.1 366.4h0.8M264.2 361.8h0.8M313.2 383.2h0.8M328.7 400.3h0.8M287.8 374.4h0.8M251.3 383.5h0.8M273.2 343.1h0.8M288.0 389.0h0.8M287.6 367.8h0.8M294.9 401.8h0.8M273.4 389.3h0.8M310.7 367.4h0.8M286.7 361.7h0.8M298.9 369.9h0.8M314.1 361.2h0.8M329.3 371.2h0.8M258.5 358.1h0.8M300.6 359.2h0.8M332.5 406.2h0.8M296.5 346.7h0.8M281.3 362.0h0.8M304.7 406.2h0.8M255.1 370.5h0.8M289.5 388.4h0.8M249.9 382.8h0.8M279.0 398.9h0.8M267.9 371.0h0.8M302.2 364.2h0.8M305.5 400.4h0.8M309.0 373.5h0.8M258.8 372.4h0.8M300.6 380.7h0.8M298.3 390.6h0.8M257.3 357.4h0.8M322.4 367.3h0.8M258.7 357.5h0.8M309.1 353.1h0.8M257.6 401.1h0.8M285.6 379.2h0.8M264.0 373.1h0.8M268.0 377.5h0.8M303.6 350.0h0.8M324.1 376.4h0.8M281.6 376.7h0.8M310.1 385.1h0.8M305.8 374.3h0.8M278.6 376.8h0.8M300.8 379.2h0.8M257.4 376.1h0.8M309.9 373.3h0.8M278.6 370.2h0.8M317.6 401.3h0.8M280.0 390.3h0.8M254.9 402.4h0.8M321.1 376.8h0.8M272.5 367.3h0.8M276.7 350.5h0.8M281.5 390.2h0.8M290.7 388.5h0.8M299.7 400.0h0.8M250.0 365.3h0.8M252.1 392.4h0.8M291.6 378.7h0.8M263.8 385.6h0.8M282.9 361.6h0.8M291.3 363.4h0.8M308.7 391.8h0.8M262.7 390.9h0.8M283.9 362.5h0.8M250.3 385.6h0.8M315.8 364.2h0.8M286.5 385.6h0.8M303.9 387.7h0.8M316.4 394.9h0.8M260.7 386.7h0.8M282.6 390.7h0.8M273.6 396.3h0.8M319.0 359.5h0.8M266.8 383.7h0.8M295.7 381.2h0.8M305.3 352.0h0.8M303.7 403.7h0.8M313.1 387.4h0.8M275.3 386.8h0.8M279.9 343.1h0.8M265.1 377.1h0.8M267.6 357.5h0.8M275.5 369.8h0.8M283.9 376.9h0.8M286.8 399.9h0.8M285.8 386.9h0.8M270.8 392.9h0.8M272.5 364.3h0.8M247.3 397.6h0.8M267.2 383.4h0.8M313.7 389.8h0.8M308.8 393.3h0.8M263.7 379.0h0.8M266.2 355.5h0.8M290.4 361.0h0.8M329.0 361.7h0.8M266.8 380.0h0.8M267.5 379.2h0.8M265.0 346.7h0.8M324.6 387.8h0.8M286.3 367.8h0.8M277.9 384.6h0.8M257.1 405.7h0.8M252.4 403.8h0.8M279.8 378.7h0.8M319.8 397.2h0.8M308.3 354.5h0.8M279.1 367.4h0.8M251.4 400.4h0.8M290.2 378.1h0.8M306.5 377.6h0.8M323.3 357.1h0.8M306.7 356.0h0.8M321.5 371.9h0.8M316.2 368.9h0.8M293.2 403.1h0.8M256.7 380.1h0.8M258.5 396.7h0.8M265.1 369.8h0.8M276.3 403.6h0.8M252.8 377.4h0.8M272.8 365.9h0.8M260.0 374.5h0.8M287.5 344.0h0.8M288.5 351.9h0.8M254.9 376.5h0.8M274.9 399.6h0.8M289.1 401.5h0.8M267.0 392.7h0.8M252.2 406.5h0.8M280.0 363.1h0.8M258.3 350.7h0.8M253.6 352.6h0.8M280.6 385.7h0.8M277.4 382.3h0.8M315.2 371.7h0.8M288.8 363.0h0.8M275.0 387.0h0.8M295.0 343.5h0.8M255.2 379.6h0.8M278.0 403.2h0.8M254.8 386.6h0.8M288.7 389.8h0.8M297.1 362.2h0.8M265.6 384.3h0.8M285.9 356.9h0.8M326.2 410.4h0.8M255.8 386.2h0.8M264.2 368.5h0.8M309.6 380.8h0.8M279.0 380.3h0.8M249.2 404.9h0.8M261.0 406.8h0.8M269.2 368.0h0.8M323.6 382.2h0.8M264.1 366.2h0.8M299.2 369.3h0.8M250.6 363.2h0.8M278.7 383.4h0.8M263.6 406.2h0.8M255.2 362.3h0.8M295.9 388.6h0.8M271.1 399.2h0.8M283.5 407.2h0.8M276.4 382.3h0.8M307.8 385.2h0.8M287.4 408.5h0.8M255.6 371.5h0.8M286.0 368.2h0.8M308.2 391.2h0.8M282.4 379.4h0.8M292.2 383.3h0.8M261.7 395.2h0.8M258.9 377.1h0.8M272.0 352.7h0.8M298.9 376.5h0.8M249.4 376.3h0.8M266.1 393.5h0.8M254.9 359.3h0.8M279.5 387.0h0.8M307.8 372.1h0.8M312.8 399.2h0.8M257.6 374.1h0.8M266.6 397.4h0.8M307.5 372.4h0.8M268.4 385.6h0.8M260.4 350.3h0.8M255.0 385.4h0.8M249.8 403.3h0.8M301.4 380.8h0.8M323.1 369.8h0.8M267.2 355.0h0.8M263.7 380.5h0.8M300.8 406.0h0.8M274.5 362.0h0.8M272.7 368.6h0.8M269.0 369.2h0.8M257.7 376.9h0.8M267.7 374.3h0.8M297.9 392.2h0.8M266.7 353.1h0.8M264.1 371.2h0.8M261.9 396.1h0.8M333.1 370.3h0.8M274.4 369.4h0.8M276.4 374.3h0.8M279.0 360.8h0.8M291.9 366.7h0.8M298.0 354.4h0.8M269.0 352.9h0.8M294.2 366.7h0.8M302.5 366.1h0.8M307.0 381.2h0.8M291.9 381.4h0.8M271.9 370.1h0.8M294.5 393.4h0.8M328.9 353.1h0.8M312.1 376.5h0.8M288.5 360.9h0.8M327.7 360.1h0.8M279.7 362.3h0.8M292.1 368.7h0.8M272.2 354.7h0.8M288.9 354.3h0.8M292.3 363.5h0.8M272.5 357.2h0.8M285.2 393.2h0.8M307.7 372.0h0.8M249.0 376.4h0.8M328.2 384.1h0.8M270.0 389.8h0.8M255.9 407.2h0.8M266.4 359.2h0.8M266.0 376.0h0.8M309.6 365.8h0.8M296.4 411.4h0.8M251.0 410.1h0.8M300.7 387.9h0.8M260.8 359.0h0.8M255.7 398.2h0.8M288.0 401.1h0.8M332.1 378.5h0.8M246.0 368.4h0.8M271.8 369.9h0.8M286.0 360.0h0.8M314.0 348.7h0.8M299.3 373.8h0.8M305.3 391.4h0.8M266.1 377.2h0.8M269.9 386.1h0.8M297.0 404.4h0.8M293.7 401.2h0.8M252.7 372.4h0.8M284.5 383.8h0.8M286.0 349.6h0.8M262.9 374.4h0.8M286.6 359.5h0.8M279.1 362.3h0.8M259.8 396.2h0.8M318.9 390.6h0.8M276.2 366.2h0.8M325.1 402.9h0.8M288.2 372.8h0.8M282.1 387.2h0.8M281.8 387.3h0.8M260.8 379.1h0.8M272.4 401.3h0.8M247.9 406.0h0.8M279.6 367.3h0.8M282.6 380.8h0.8M275.6 387.2h0.8M301.2 377.6h0.8M327.8 386.4h0.8M263.1 389.9h0.8M251.9 376.2h0.8M297.5 356.1h0.8M294.5 398.2h0.8M304.2 363.8h0.8M263.0 354.1h0.8M246.5 384.9h0.8M283.1 406.1h0.8M289.5 371.3h0.8M286.5 377.5h0.8M254.4 355.7h0.8M299.4 357.3h0.8M298.1 391.6h0.8M271.5 343.5h0.8M293.3 408.3h0.8M259.3 351.2h0.8M311.9 381.3h0.8M264.9 404.4h0.8M274.4 387.9h0.8M271.0 362.1h0.8M288.0 359.8h0.8M315.9 401.7h0.8M326.4 383.6h0.8M270.0 388.2h0.8M255.9 393.9h0.8M269.7 383.7h0.8M258.6 375.3h0.8M308.9 373.6h0.8M263.5 384.3h0.8M306.2 374.2h0.8M249.9 344.9h0.8M279.6 388.4h0.8M311.5 384.3h0.8M295.2 367.4h0.8M279.4 390.5h0.8M252.7 375.2h0.8M284.7 406.1h0.8M275.6 380.9h0.8M269.9 405.6h0.8M279.5 370.3h0.8M294.0 373.1h0.8M267.9 411.1h0.8M309.0 380.6h0.8M304.2 395.8h0.8M297.9 379.2h0.8M284.0 386.9h0.8M297.5 385.8h0.8M266.9 376.7h0.8M294.6 357.4h0.8M281.8 394.3h0.8M286.6 372.2h0.8M281.4 368.0h0.8M309.0 370.3h0.8M290.2 382.7h0.8M269.1 350.5h0.8M277.9 360.5h0.8M264.0 378.3h0.8M261.0 384.9h0.8M261.7 368.5h0.8M275.8 409.2h0.8M325.2 398.2h0.8M261.8 378.4h0.8M307.1 395.3h0.8M261.7 394.2h0.8M299.5 367.0h0.8M267.6 368.4h0.8M322.4 377.5h0.8M295.1 351.8h0.8M331.0 399.0h0.8M291.8 393.2h0.8M268.3 368.4h0.8M315.9 396.3h0.8M307.2 393.3h0.8M256.8 350.9h0.8M299.6 381.8h0.8M309.0 372.6h0.8M257.8 387.7h0.8M266.7 343.9h0.8M265.3 359.9h0.8M251.5 366.8h0.8M329.4 369.6h0.8M313.3 376.8h0.8M293.0 364.2h0.8M280.0 343.2h0.8M331.1 362.3h0.8M298.0 366.1h0.8M289.4 353.7h0.8M271.7 397.5h0.8M305.3 350.9h0.8M289.8 389.2h0.8M264.4 371.7h0.8M275.3 386.8h0.8M307.1 406.9h0.8M274.8 394.4h0.8M278.6 380.1h0.8M256.8 386.5h0.8M281.4 378.5h0.8M301.5 374.1h0.8M281.9 382.9h0.8M317.7 398.3h0.8M253.1 365.2h0.8M282.6 396.1h0.8M308.5 374.0h0.8M320.5 408.1h0.8M325.7 382.6h0.8M297.8 346.4h0.8M301.7 400.6h0.8M279.2 400.1h0.8M297.8 410.2h0.8M255.8 356.5h0.8M327.2 359.0h0.8M259.3 370.0h0.8M306.2 368.7h0.8M302.2 389.9h0.8M256.8 352.3h0.8M326.9 363.4h0.8M252.6 386.2h0.8M283.5 358.8h0.8M312.0 397.5h0.8M289.7 362.5h0.8M292.5 386.5h0.8M256.8 378.9h0.8M270.3 368.0h0.8M299.1 375.6h0.8M309.3 389.1h0.8M313.9 380.8h0.8M288.9 349.3h0.8M283.8 396.7h0.8M254.0 379.2h0.8M261.7 357.3h0.8M265.1 405.0h0.8M300.8 377.7h0.8M279.8 380.9h0.8M289.9 382.1h0.8M301.3 353.0h0.8M278.1 376.3h0.8M265.8 389.5h0.8M274.5 372.4h0.8M255.8 372.4h0.8M253.5 379.1h0.8M318.4 399.4h0.8M293.8 349.8h0.8M310.3 397.8h0.8M282.5 371.3h0.8M311.9 355.5h0.8M282.6 406.9h0.8M265.0 390.7h0.8M284.7 347.6h0.8M264.8 402.0h0.8M314.6 365.6h0.8M313.0 363.3h0.8M288.8 377.7h0.8M247.6 384.9h0.8M259.2 360.5h0.8M259.0 357.7h0.8M306.5 379.7h0.8M289.0 372.6h0.8M283.8 372.7h0.8M252.0 346.3h0.8M284.1 399.5h0.8M288.5 412.0h0.8M265.0 404.0h0.8M328.7 367.2h0.8M302.1 373.1h0.8M254.5 375.8h0.8M253.3 410.7h0.8M298.3 403.1h0.8M304.1 380.0h0.8M253.8 394.7h0.8M291.2 374.5h0.8M274.2 389.2h0.8M297.9 391.9h0.8" stroke="#a8b0b8" stroke-width="0.8" opacity="1" fill="none"/>
<path d="M278.4 352.4h0.9M285.2 397.4h0.9M277.8 374.5h0.9M283.2 344.8h0.9M281.1 362.9h0.9M280.8 367.8h0.9M280.7 344.2h0.9M275.0 349.7h0.9M283.5 373.5h0.9M277.6 400.2h0.9M277.1 369.1h0.9M279.9 397.5h0.9M285.2 401.8h0.9M282.3 366.4h0.9M278.1 349.5h0.9M285.0 396.7h0.9M280.4 359.7h0.9M282.7 383.5h0.9M280.6 355.0h0.9M280.9 365.3h0.9M282.9 385.3h0.9M281.7 367.7h0.9M286.0 388.4h0.9M285.0 389.5h0.9M282.6 381.8h0.9M275.8 343.7h0.9M276.3 385.6h0.9M283.6 378.2h0.9M280.4 406.7h0.9M278.4 344.3h0.9M273.9 369.5h0.9M282.8 387.7h0.9M279.1 389.1h0.9M279.8 362.5h0.9M278.5 388.1h0.9M283.7 355.6h0.9M276.1 377.1h0.9M275.1 382.2h0.9M282.0 364.5h0.9M279.9 383.4h0.9M273.2 374.6h0.9M282.4 390.9h0.9M284.6 373.8h0.9M274.3 398.2h0.9M283.0 364.0h0.9M284.1 392.9h0.9M278.2 362.0h0.9M276.7 373.6h0.9M275.8 381.7h0.9M287.4 354.5h0.9M284.1 365.8h0.9M282.1 372.8h0.9M285.0 362.8h0.9M282.9 361.6h0.9M280.9 374.8h0.9M284.3 347.8h0.9M274.7 399.0h0.9M281.5 404.3h0.9M276.0 378.6h0.9M282.4 405.5h0.9M279.8 367.3h0.9M282.8 373.2h0.9M277.1 388.2h0.9M272.5 357.5h0.9M285.3 366.4h0.9M278.7 381.4h0.9M284.4 384.1h0.9M276.2 365.2h0.9M284.1 373.0h0.9M277.5 390.1h0.9M275.8 362.8h0.9M277.3 381.1h0.9M278.1 394.2h0.9M277.5 370.3h0.9M282.2 378.5h0.9M276.0 400.9h0.9M282.3 366.5h0.9M280.8 355.9h0.9M275.2 369.8h0.9M281.4 376.8h0.9M277.0 351.1h0.9M273.4 402.6h0.9M281.4 361.2h0.9M284.6 384.3h0.9M278.4 364.4h0.9M284.4 380.7h0.9M286.4 381.3h0.9M277.7 364.7h0.9M277.3 379.4h0.9M281.0 385.5h0.9M281.8 356.9h0.9M279.2 358.8h0.9M281.9 352.3h0.9M277.7 360.2h0.9M277.6 370.6h0.9M285.9 370.6h0.9M274.4 369.8h0.9M282.9 384.6h0.9M280.9 409.4h0.9M284.3 376.6h0.9M284.7 351.9h0.9M279.3 360.0h0.9M280.7 402.9h0.9M278.1 402.5h0.9M276.0 399.6h0.9M273.4 360.3h0.9M283.9 373.4h0.9M280.6 374.8h0.9M280.7 371.9h0.9M276.2 370.0h0.9M280.4 359.5h0.9M281.8 405.4h0.9M273.6 365.6h0.9M278.9 375.3h0.9M280.4 362.5h0.9M279.9 375.1h0.9M279.7 401.6h0.9M280.5 349.5h0.9M273.9 385.2h0.9M278.7 364.3h0.9M274.7 369.7h0.9M279.6 363.2h0.9M278.6 390.3h0.9M283.1 384.4h0.9M279.3 351.6h0.9M283.0 400.8h0.9M285.0 395.1h0.9M281.1 381.5h0.9M279.9 396.7h0.9M283.0 369.5h0.9M280.0 347.2h0.9M277.2 369.8h0.9M283.6 376.3h0.9M278.9 385.8h0.9M272.3 391.3h0.9M287.5 380.1h0.9M279.8 377.8h0.9M282.6 366.5h0.9M280.5 383.7h0.9M278.6 381.7h0.9M281.3 387.3h0.9M276.2 365.8h0.9M278.3 395.7h0.9M281.0 346.4h0.9M275.0 408.5h0.9M281.3 352.7h0.9M276.5 377.5h0.9M285.5 403.0h0.9M278.6 369.8h0.9M287.5 358.0h0.9M286.1 380.9h0.9M280.4 397.2h0.9M281.9 360.6h0.9M274.1 375.3h0.9M282.0 398.6h0.9M282.4 401.2h0.9M283.1 378.7h0.9M281.7 381.9h0.9M277.6 373.0h0.9M280.5 367.2h0.9M274.3 350.0h0.9M282.0 384.0h0.9M280.4 354.8h0.9M283.3 368.2h0.9M282.1 367.4h0.9M285.8 398.5h0.9M281.0 345.4h0.9M278.5 370.1h0.9M281.8 372.8h0.9M281.3 346.8h0.9M277.5 399.9h0.9M274.4 391.0h0.9M274.6 396.5h0.9M272.8 380.8h0.9M278.4 396.4h0.9M284.6 378.3h0.9M287.0 392.0h0.9M278.1 358.0h0.9M281.6 373.0h0.9M278.2 347.2h0.9M279.4 373.0h0.9M283.8 366.1h0.9M273.9 356.4h0.9M279.8 379.3h0.9M282.8 368.4h0.9M282.1 377.5h0.9M286.6 374.0h0.9M280.6 384.8h0.9M284.7 359.0h0.9M278.2 370.2h0.9M284.2 375.4h0.9M287.9 402.2h0.9M283.5 350.5h0.9M286.0 382.3h0.9M275.4 375.9h0.9M282.9 392.1h0.9M280.7 365.9h0.9M283.0 361.8h0.9M279.7 388.2h0.9M274.4 381.5h0.9M272.4 358.9h0.9M275.2 373.4h0.9M282.8 374.1h0.9M283.6 376.7h0.9M279.2 383.5h0.9M279.1 377.4h0.9M284.0 365.1h0.9M284.5 355.8h0.9M279.1 344.9h0.9M277.9 402.6h0.9M281.4 397.0h0.9M274.3 357.5h0.9M281.8 389.4h0.9M283.3 346.0h0.9M282.0 373.8h0.9M280.5 383.3h0.9M278.9 345.6h0.9M275.8 349.9h0.9M274.9 372.7h0.9M285.1 362.6h0.9M277.0 355.1h0.9M273.3 376.2h0.9M278.1 370.8h0.9M276.3 383.5h0.9M275.3 384.5h0.9M277.4 388.7h0.9M276.5 382.7h0.9M281.7 373.6h0.9M286.4 378.1h0.9M276.5 387.0h0.9M276.8 365.6h0.9M280.0 378.2h0.9M286.6 344.7h0.9M279.0 394.6h0.9M279.4 380.6h0.9M285.9 353.6h0.9M280.2 388.8h0.9M277.7 344.6h0.9M276.1 378.4h0.9M280.7 407.0h0.9M285.2 348.1h0.9M284.0 390.9h0.9M286.3 372.4h0.9M277.8 377.6h0.9M286.0 385.8h0.9M286.6 388.7h0.9M277.7 357.4h0.9M287.2 348.7h0.9M278.6 369.5h0.9M276.4 365.1h0.9M279.7 365.9h0.9M280.5 391.3h0.9M276.8 367.9h0.9M273.2 387.2h0.9M282.7 401.1h0.9M283.4 370.2h0.9M278.5 369.6h0.9M275.3 388.4h0.9M277.6 362.4h0.9M282.0 377.0h0.9M277.7 370.9h0.9M278.1 398.4h0.9M283.9 362.3h0.9M279.8 398.9h0.9M278.9 406.0h0.9M281.7 386.7h0.9M281.3 385.1h0.9M281.9 384.2h0.9M278.0 390.7h0.9M280.2 356.7h0.9M276.0 377.8h0.9M274.0 370.7h0.9M277.7 384.7h0.9M285.5 403.1h0.9M276.1 396.5h0.9M275.3 380.4h0.9M280.7 385.8h0.9M276.9 398.3h0.9M279.7 374.7h0.9M279.0 356.4h0.9M282.8 380.9h0.9M281.8 407.5h0.9M276.6 370.0h0.9M280.0 389.9h0.9M279.3 391.3h0.9M281.8 344.3h0.9M278.9 367.7h0.9M282.3 378.0h0.9M279.8 397.0h0.9M282.3 353.5h0.9M277.3 380.7h0.9M286.6 371.5h0.9M279.3 379.6h0.9M283.1 373.4h0.9M281.2 367.6h0.9M277.9 361.1h0.9M282.6 365.3h0.9M282.1 382.1h0.9M276.2 353.7h0.9M279.4 389.1h0.9" stroke="#5e90c4" stroke-width="0.9" opacity="0.9" fill="none"/>
<path d="M293.5 367 Q296 364.6 299 364.6 Q304 365 305.5 370 L306.5 386 Q306 391 301.5 391 Q297 391 295.5 386 Q293.8 380 293.5 374 Z" fill="#cddbe7"/>
<path d="M304.3 380.6h0.9M297.5 381.6h0.9M299.0 382.2h0.9M295.0 370.6h0.9M296.5 377.7h0.9M300.4 375.6h0.9M300.4 382.6h0.9M294.5 377.3h0.9M302.5 373.1h0.9M302.5 378.7h0.9M302.4 385.4h0.9M299.4 374.4h0.9M298.3 374.9h0.9M296.2 366.5h0.9M297.0 380.2h0.9M297.1 372.8h0.9M300.6 381.1h0.9M297.3 380.1h0.9M295.2 383.9h0.9M295.1 375.7h0.9M299.5 375.1h0.9M304.9 366.1h0.9M299.5 369.4h0.9M300.2 369.1h0.9M301.3 381.6h0.9M305.7 386.2h0.9M297.2 384.4h0.9M297.2 377.2h0.9M297.0 366.0h0.9M298.1 381.6h0.9M299.4 367.3h0.9M296.5 382.6h0.9M303.3 388.9h0.9M297.1 383.2h0.9M301.8 373.6h0.9M297.6 371.3h0.9M303.4 369.0h0.9M295.4 375.7h0.9M300.1 372.3h0.9M301.3 380.3h0.9M300.1 377.6h0.9M300.8 370.0h0.9M294.3 375.1h0.9M294.7 382.8h0.9M300.7 380.3h0.9M296.3 369.1h0.9M301.1 367.9h0.9M300.2 377.0h0.9M301.9 378.3h0.9M299.4 374.0h0.9M301.7 385.1h0.9M304.4 371.2h0.9M295.3 382.8h0.9M300.2 367.6h0.9M296.8 388.7h0.9M293.6 388.9h0.9M297.3 371.0h0.9M298.0 370.1h0.9M300.3 374.8h0.9M295.7 387.4h0.9M300.7 371.9h0.9M304.8 377.6h0.9M301.0 379.0h0.9M303.6 382.2h0.9M297.6 382.9h0.9M297.5 378.9h0.9M305.4 370.8h0.9M295.0 375.3h0.9M297.0 386.9h0.9M305.2 374.9h0.9M299.7 375.5h0.9M301.6 382.5h0.9M301.9 383.2h0.9M301.7 376.7h0.9M299.2 379.5h0.9M298.8 380.4h0.9M295.7 377.0h0.9M296.6 370.0h0.9M296.2 374.6h0.9M298.4 367.3h0.9M298.0 370.3h0.9M295.8 379.3h0.9M303.3 380.0h0.9M297.1 375.0h0.9M304.2 366.9h0.9M303.5 367.8h0.9M296.5 378.3h0.9M298.1 389.4h0.9M300.9 377.7h0.9M302.7 378.3h0.9M295.8 385.7h0.9M304.9 386.7h0.9M297.4 383.2h0.9M303.6 381.4h0.9M300.7 376.7h0.9M299.0 379.6h0.9M302.0 376.2h0.9M295.5 375.5h0.9M298.7 391.0h0.9M303.1 378.8h0.9M301.9 376.2h0.9M295.5 384.8h0.9M299.5 389.0h0.9M298.0 375.4h0.9M300.4 376.7h0.9M297.8 371.9h0.9M300.0 380.2h0.9M295.9 376.9h0.9M298.3 367.7h0.9M301.3 372.0h0.9M303.9 379.3h0.9M297.0 376.2h0.9M302.8 374.5h0.9M300.6 384.6h0.9M295.4 374.0h0.9M300.8 378.1h0.9M298.5 374.4h0.9M298.8 390.7h0.9M304.3 367.0h0.9M299.2 378.6h0.9M299.1 368.5h0.9M298.5 379.0h0.9M296.3 380.1h0.9M299.4 380.7h0.9M298.3 374.9h0.9M299.7 385.4h0.9M302.5 377.5h0.9M297.2 385.3h0.9M301.1 384.1h0.9M297.9 372.1h0.9M299.7 373.7h0.9M303.5 383.9h0.9M304.2 385.1h0.9M297.1 372.1h0.9M302.8 384.9h0.9M299.2 370.1h0.9M293.0 379.8h0.9M295.8 373.3h0.9M300.7 385.2h0.9M304.1 377.7h0.9M297.7 382.4h0.9M294.5 369.6h0.9M299.1 388.7h0.9M303.0 378.0h0.9M303.0 375.2h0.9M294.4 366.5h0.9M300.1 384.2h0.9M300.5 377.7h0.9M297.4 385.5h0.9M298.8 368.1h0.9M304.4 373.6h0.9M300.5 378.0h0.9M303.1 379.7h0.9M303.8 379.4h0.9M297.2 374.5h0.9M301.6 372.3h0.9M302.6 376.4h0.9M295.4 372.0h0.9M298.4 390.1h0.9M302.0 378.1h0.9M297.9 378.0h0.9M297.3 387.1h0.9M299.7 374.9h0.9M299.7 371.2h0.9M294.9 376.9h0.9M298.4 367.2h0.9M299.7 379.5h0.9M301.9 368.9h0.9M296.6 373.6h0.9M298.2 377.7h0.9M297.0 383.5h0.9M305.0 370.6h0.9M303.2 378.2h0.9M303.9 385.3h0.9M301.6 366.5h0.9M299.5 374.6h0.9M300.8 378.3h0.9M303.1 367.0h0.9M296.1 377.5h0.9M300.3 375.2h0.9M298.9 378.4h0.9M303.1 377.2h0.9M300.0 365.5h0.9M300.6 377.3h0.9M299.0 373.0h0.9M297.3 383.7h0.9M300.4 377.8h0.9M297.1 379.5h0.9M303.7 377.9h0.9M297.6 369.9h0.9M299.4 371.7h0.9M293.3 384.0h0.9M296.2 390.7h0.9M298.6 368.9h0.9M294.7 382.9h0.9M300.6 379.5h0.9M298.2 381.3h0.9M305.1 381.4h0.9M298.4 368.4h0.9M300.8 388.8h0.9M301.5 369.4h0.9M299.7 386.9h0.9M296.5 381.4h0.9M303.8 389.3h0.9M300.5 382.8h0.9M297.6 377.9h0.9M297.4 386.3h0.9M294.0 373.3h0.9M298.9 378.2h0.9M300.4 380.4h0.9M300.0 388.1h0.9M299.5 379.0h0.9M298.6 378.0h0.9M298.8 384.9h0.9M299.1 378.5h0.9M298.8 383.2h0.9M297.1 384.5h0.9M296.7 382.8h0.9M298.7 369.9h0.9M301.9 378.1h0.9M302.6 373.5h0.9M301.1 390.5h0.9M300.6 375.7h0.9M293.9 377.9h0.9M301.6 382.1h0.9M294.6 370.9h0.9M295.2 371.0h0.9M297.9 379.8h0.9M304.7 366.6h0.9M305.1 383.5h0.9M300.7 383.7h0.9M302.2 366.0h0.9M298.7 387.1h0.9M297.6 373.5h0.9M297.6 380.2h0.9M299.7 373.7h0.9M301.1 382.3h0.9M295.4 370.3h0.9M299.0 373.2h0.9M296.6 377.1h0.9M299.1 381.9h0.9M302.3 381.0h0.9M303.4 371.3h0.9M301.4 380.6h0.9M294.9 373.3h0.9M300.8 378.5h0.9M294.0 374.2h0.9M305.0 383.8h0.9M299.3 387.3h0.9M295.4 376.8h0.9M302.8 375.7h0.9M294.6 382.1h0.9M299.6 369.4h0.9M297.8 368.2h0.9M299.2 373.1h0.9M295.1 374.9h0.9M299.8 390.1h0.9M300.1 388.8h0.9M294.8 378.5h0.9M297.3 367.2h0.9" stroke="#4a92cc" stroke-width="0.9" opacity="0.9" fill="none"/>
<clipPath id="liv2"><path d="M256.5 367.5 Q257 364 260 363.8 L273 363 Q282 364.5 289 367.5 Q292 370 291.5 375 Q291 378.7 288 378.8 L281 379.8 Q273 384 268.5 389.6 L265.5 395.5 Q264 397.5 262 396 Q258.5 393 257.5 388 Q256 380 256.3 372 Z"/></clipPath>
<g clip-path="url(#liv2)">
<rect x="255" y="362" width="38" height="36" fill="url(#heat)"/>
<rect x="291.6" y="397.5" width="1" height="1" fill="#3a94cc"/>
<rect x="280.1" y="379.8" width="1" height="1" fill="#68c068"/>
<rect x="289.9" y="378.1" width="1" height="1" fill="#3a94cc"/>
<rect x="272.9" y="381.1" width="1" height="1" fill="#d0c840"/>
<rect x="267.1" y="366.2" width="1" height="1" fill="#68c068"/>
<rect x="262.2" y="378.0" width="1" height="1" fill="#e85a3c"/>
<rect x="268.5" y="380.0" width="1" height="1" fill="#e85a3c"/>
<rect x="260.8" y="363.1" width="1" height="1" fill="#40b0b0"/>
<rect x="276.1" y="396.5" width="1" height="1" fill="#3a94cc"/>
<rect x="267.5" y="388.5" width="1" height="1" fill="#40b0b0"/>
<rect x="273.8" y="390.4" width="1" height="1" fill="#3a94cc"/>
<rect x="263.4" y="375.4" width="1" height="1" fill="#e85a3c"/>
<rect x="270.4" y="376.0" width="1" height="1" fill="#d0c840"/>
<rect x="276.7" y="396.2" width="1" height="1" fill="#3a94cc"/>
<rect x="279.1" y="383.3" width="1" height="1" fill="#3a94cc"/>
<rect x="257.3" y="396.0" width="1" height="1" fill="#3a94cc"/>
<rect x="275.2" y="382.9" width="1" height="1" fill="#3a94cc"/>
<rect x="269.5" y="385.0" width="1" height="1" fill="#68c068"/>
<rect x="266.2" y="394.6" width="1" height="1" fill="#3a94cc"/>
<rect x="288.2" y="370.3" width="1" height="1" fill="#3a94cc"/>
<rect x="265.8" y="379.5" width="1" height="1" fill="#f0963c"/>
<rect x="263.6" y="390.4" width="1" height="1" fill="#40b0b0"/>
<rect x="258.7" y="377.0" width="1" height="1" fill="#d0c840"/>
<rect x="284.6" y="366.6" width="1" height="1" fill="#3a94cc"/>
<rect x="288.0" y="375.0" width="1" height="1" fill="#3a94cc"/>
<rect x="288.1" y="379.2" width="1" height="1" fill="#3a94cc"/>
<rect x="265.3" y="367.8" width="1" height="1" fill="#d0c840"/>
<rect x="261.9" y="393.1" width="1" height="1" fill="#3a94cc"/>
<rect x="276.7" y="392.7" width="1" height="1" fill="#3a94cc"/>
<rect x="272.9" y="366.3" width="1" height="1" fill="#3a94cc"/>
<rect x="265.5" y="394.8" width="1" height="1" fill="#3a94cc"/>
<rect x="277.9" y="392.6" width="1" height="1" fill="#3a94cc"/>
<rect x="290.3" y="383.3" width="1" height="1" fill="#3a94cc"/>
<rect x="261.9" y="370.9" width="1" height="1" fill="#d0c840"/>
<rect x="260.9" y="380.4" width="1" height="1" fill="#e85a3c"/>
<rect x="272.9" y="367.4" width="1" height="1" fill="#68c068"/>
<rect x="281.9" y="381.3" width="1" height="1" fill="#40b0b0"/>
<rect x="289.8" y="394.8" width="1" height="1" fill="#3a94cc"/>
<rect x="291.5" y="364.9" width="1" height="1" fill="#3a94cc"/>
<rect x="265.2" y="388.5" width="1" height="1" fill="#40b0b0"/>
<rect x="288.6" y="367.4" width="1" height="1" fill="#40b0b0"/>
<rect x="288.0" y="378.3" width="1" height="1" fill="#3a94cc"/>
<rect x="259.8" y="378.5" width="1" height="1" fill="#e85a3c"/>
<rect x="262.7" y="372.3" width="1" height="1" fill="#f0963c"/>
<rect x="291.4" y="362.9" width="1" height="1" fill="#3a94cc"/>
<rect x="283.0" y="377.3" width="1" height="1" fill="#40b0b0"/>
<rect x="289.3" y="370.3" width="1" height="1" fill="#3a94cc"/>
<rect x="257.7" y="365.5" width="1" height="1" fill="#68c068"/>
<rect x="258.7" y="376.1" width="1" height="1" fill="#d0c840"/>
<rect x="281.8" y="363.7" width="1" height="1" fill="#3a94cc"/>
<rect x="274.6" y="381.4" width="1" height="1" fill="#40b0b0"/>
<rect x="272.1" y="374.0" width="1" height="1" fill="#68c068"/>
<rect x="285.9" y="386.7" width="1" height="1" fill="#3a94cc"/>
<rect x="257.9" y="371.7" width="1" height="1" fill="#d0c840"/>
<rect x="278.9" y="396.4" width="1" height="1" fill="#3a94cc"/>
<rect x="260.5" y="390.2" width="1" height="1" fill="#40b0b0"/>
<rect x="283.4" y="379.0" width="1" height="1" fill="#3a94cc"/>
<rect x="260.3" y="370.1" width="1" height="1" fill="#d0c840"/>
<rect x="260.7" y="383.9" width="1" height="1" fill="#f0963c"/>
<rect x="256.4" y="362.8" width="1" height="1" fill="#68c068"/>
<rect x="291.0" y="371.7" width="1" height="1" fill="#3a94cc"/>
<rect x="260.0" y="390.3" width="1" height="1" fill="#3a94cc"/>
<rect x="288.3" y="382.2" width="1" height="1" fill="#3a94cc"/>
<rect x="277.8" y="384.0" width="1" height="1" fill="#40b0b0"/>
<rect x="283.8" y="380.6" width="1" height="1" fill="#3a94cc"/>
<rect x="279.5" y="365.3" width="1" height="1" fill="#3a94cc"/>
<rect x="259.8" y="371.3" width="1" height="1" fill="#d0c840"/>
<rect x="268.8" y="396.2" width="1" height="1" fill="#3a94cc"/>
<rect x="276.9" y="370.9" width="1" height="1" fill="#d0c840"/>
<rect x="269.3" y="377.7" width="1" height="1" fill="#e85a3c"/>
<rect x="276.8" y="397.1" width="1" height="1" fill="#3a94cc"/>
<rect x="277.0" y="373.7" width="1" height="1" fill="#68c068"/>
<rect x="273.0" y="387.5" width="1" height="1" fill="#3a94cc"/>
<rect x="267.3" y="383.5" width="1" height="1" fill="#d0c840"/>
<rect x="285.5" y="378.9" width="1" height="1" fill="#3a94cc"/>
<rect x="265.2" y="380.4" width="1" height="1" fill="#e85a3c"/>
<rect x="275.2" y="370.3" width="1" height="1" fill="#68c068"/>
<rect x="268.8" y="371.4" width="1" height="1" fill="#e85a3c"/>
<rect x="286.1" y="394.1" width="1" height="1" fill="#3a94cc"/>
<rect x="258.6" y="384.6" width="1" height="1" fill="#d0c840"/>
<rect x="256.9" y="392.5" width="1" height="1" fill="#3a94cc"/>
<rect x="271.9" y="386.4" width="1" height="1" fill="#d0c840"/>
<rect x="261.8" y="375.3" width="1" height="1" fill="#f0963c"/>
<rect x="277.1" y="366.1" width="1" height="1" fill="#68c068"/>
<rect x="263.8" y="371.5" width="1" height="1" fill="#68c068"/>
<rect x="276.6" y="394.8" width="1" height="1" fill="#3a94cc"/>
<rect x="276.0" y="394.6" width="1" height="1" fill="#3a94cc"/>
<rect x="266.1" y="378.7" width="1" height="1" fill="#e85a3c"/>
<rect x="289.7" y="379.6" width="1" height="1" fill="#3a94cc"/>
<rect x="263.1" y="384.3" width="1" height="1" fill="#d0c840"/>
<rect x="274.3" y="379.1" width="1" height="1" fill="#40b0b0"/>
<rect x="259.1" y="363.6" width="1" height="1" fill="#68c068"/>
<rect x="281.2" y="383.4" width="1" height="1" fill="#40b0b0"/>
<rect x="257.3" y="378.3" width="1" height="1" fill="#f0963c"/>
<rect x="286.1" y="383.6" width="1" height="1" fill="#3a94cc"/>
<rect x="288.6" y="381.6" width="1" height="1" fill="#3a94cc"/>
<rect x="261.9" y="387.2" width="1" height="1" fill="#3a94cc"/>
<rect x="279.2" y="390.8" width="1" height="1" fill="#3a94cc"/>
<rect x="259.2" y="378.7" width="1" height="1" fill="#d0c840"/>
<rect x="261.2" y="392.8" width="1" height="1" fill="#40b0b0"/>
<rect x="281.4" y="362.8" width="1" height="1" fill="#3a94cc"/>
<rect x="290.3" y="384.1" width="1" height="1" fill="#3a94cc"/>
<rect x="287.5" y="366.2" width="1" height="1" fill="#3a94cc"/>
<rect x="267.9" y="367.7" width="1" height="1" fill="#d0c840"/>
<rect x="272.7" y="364.1" width="1" height="1" fill="#68c068"/>
<rect x="288.6" y="389.4" width="1" height="1" fill="#3a94cc"/>
<rect x="258.7" y="392.9" width="1" height="1" fill="#68c068"/>
<rect x="273.7" y="365.3" width="1" height="1" fill="#68c068"/>
<rect x="281.3" y="368.6" width="1" height="1" fill="#3a94cc"/>
<rect x="288.5" y="379.7" width="1" height="1" fill="#3a94cc"/>
<rect x="267.8" y="385.7" width="1" height="1" fill="#d0c840"/>
<rect x="265.9" y="377.2" width="1" height="1" fill="#e85a3c"/>
<rect x="281.7" y="370.5" width="1" height="1" fill="#3a94cc"/>
<rect x="279.7" y="364.8" width="1" height="1" fill="#3a94cc"/>
<rect x="265.8" y="396.5" width="1" height="1" fill="#3a94cc"/>
<rect x="267.0" y="365.5" width="1" height="1" fill="#3a94cc"/>
<rect x="273.5" y="392.9" width="1" height="1" fill="#3a94cc"/>
<rect x="281.3" y="384.2" width="1" height="1" fill="#40b0b0"/>
<rect x="273.4" y="385.8" width="1" height="1" fill="#68c068"/>
<rect x="281.0" y="367.0" width="1" height="1" fill="#3a94cc"/>
<rect x="267.2" y="392.3" width="1" height="1" fill="#68c068"/>
<rect x="281.6" y="379.7" width="1" height="1" fill="#40b0b0"/>
<rect x="269.8" y="381.8" width="1" height="1" fill="#68c068"/>
<rect x="257.4" y="397.4" width="1" height="1" fill="#3a94cc"/>
<rect x="288.7" y="385.4" width="1" height="1" fill="#3a94cc"/>
<rect x="266.2" y="390.7" width="1" height="1" fill="#3a94cc"/>
<rect x="279.4" y="383.7" width="1" height="1" fill="#40b0b0"/>
<rect x="286.0" y="381.5" width="1" height="1" fill="#3a94cc"/>
<rect x="283.3" y="391.9" width="1" height="1" fill="#3a94cc"/>
<rect x="269.0" y="365.2" width="1" height="1" fill="#40b0b0"/>
<rect x="287.5" y="386.5" width="1" height="1" fill="#3a94cc"/>
<rect x="287.7" y="364.9" width="1" height="1" fill="#3a94cc"/>
<rect x="268.9" y="386.5" width="1" height="1" fill="#d0c840"/>
<rect x="265.3" y="370.3" width="1" height="1" fill="#f0963c"/>
<rect x="280.1" y="374.4" width="1" height="1" fill="#3a94cc"/>
<rect x="290.9" y="372.2" width="1" height="1" fill="#3a94cc"/>
<rect x="274.5" y="366.2" width="1" height="1" fill="#40b0b0"/>
<rect x="274.1" y="396.0" width="1" height="1" fill="#3a94cc"/>
<rect x="283.4" y="375.2" width="1" height="1" fill="#3a94cc"/>
<rect x="257.9" y="392.1" width="1" height="1" fill="#3a94cc"/>
<rect x="286.8" y="364.9" width="1" height="1" fill="#3a94cc"/>
<rect x="270.0" y="377.4" width="1" height="1" fill="#f0963c"/>
<rect x="277.9" y="380.9" width="1" height="1" fill="#3a94cc"/>
<rect x="267.8" y="362.8" width="1" height="1" fill="#68c068"/>
<rect x="284.0" y="385.2" width="1" height="1" fill="#3a94cc"/>
<rect x="258.7" y="394.0" width="1" height="1" fill="#3a94cc"/>
<rect x="269.1" y="379.0" width="1" height="1" fill="#d0c840"/>
<rect x="278.9" y="364.7" width="1" height="1" fill="#3a94cc"/>
<rect x="276.2" y="388.4" width="1" height="1" fill="#3a94cc"/>
<rect x="290.9" y="391.4" width="1" height="1" fill="#3a94cc"/>
<rect x="284.5" y="395.7" width="1" height="1" fill="#3a94cc"/>
<rect x="285.7" y="390.7" width="1" height="1" fill="#3a94cc"/>
<rect x="278.6" y="385.9" width="1" height="1" fill="#3a94cc"/>
<rect x="267.7" y="392.6" width="1" height="1" fill="#3a94cc"/>
<rect x="284.1" y="372.7" width="1" height="1" fill="#3a94cc"/>
<rect x="258.2" y="374.0" width="1" height="1" fill="#d0c840"/>
<rect x="258.8" y="395.7" width="1" height="1" fill="#3a94cc"/>
<rect x="286.8" y="381.2" width="1" height="1" fill="#3a94cc"/>
<rect x="278.7" y="377.9" width="1" height="1" fill="#f0963c"/>
<rect x="266.0" y="380.9" width="1" height="1" fill="#f0963c"/>
<rect x="273.2" y="367.4" width="1" height="1" fill="#40b0b0"/>
<rect x="284.8" y="377.6" width="1" height="1" fill="#3a94cc"/>
<rect x="258.1" y="395.2" width="1" height="1" fill="#3a94cc"/>
<rect x="257.6" y="385.2" width="1" height="1" fill="#40b0b0"/>
<rect x="261.3" y="371.6" width="1" height="1" fill="#e85a3c"/>
<rect x="271.7" y="377.1" width="1" height="1" fill="#d0c840"/>
<rect x="270.5" y="380.7" width="1" height="1" fill="#f0963c"/>
<rect x="262.9" y="367.1" width="1" height="1" fill="#3a94cc"/>
<rect x="275.7" y="374.8" width="1" height="1" fill="#68c068"/>
<rect x="280.4" y="375.3" width="1" height="1" fill="#40b0b0"/>
<rect x="289.4" y="373.0" width="1" height="1" fill="#3a94cc"/>
<rect x="275.2" y="372.3" width="1" height="1" fill="#68c068"/>
<rect x="280.1" y="376.9" width="1" height="1" fill="#40b0b0"/>
<rect x="272.4" y="382.0" width="1" height="1" fill="#f0963c"/>
<rect x="281.9" y="385.3" width="1" height="1" fill="#3a94cc"/>
<rect x="260.0" y="367.6" width="1" height="1" fill="#68c068"/>
<rect x="262.6" y="368.9" width="1" height="1" fill="#d0c840"/>
<rect x="288.7" y="370.7" width="1" height="1" fill="#3a94cc"/>
<rect x="264.8" y="368.9" width="1" height="1" fill="#68c068"/>
<rect x="276.8" y="371.3" width="1" height="1" fill="#3a94cc"/>
<rect x="285.2" y="386.1" width="1" height="1" fill="#3a94cc"/>
<rect x="279.6" y="377.9" width="1" height="1" fill="#40b0b0"/>
<rect x="259.3" y="375.3" width="1" height="1" fill="#d0c840"/>
<rect x="279.0" y="365.6" width="1" height="1" fill="#3a94cc"/>
<rect x="283.9" y="392.7" width="1" height="1" fill="#3a94cc"/>
<rect x="274.5" y="371.3" width="1" height="1" fill="#68c068"/>
<rect x="263.6" y="367.0" width="1" height="1" fill="#d0c840"/>
<rect x="290.4" y="396.2" width="1" height="1" fill="#3a94cc"/>
<rect x="287.5" y="395.6" width="1" height="1" fill="#3a94cc"/>
<rect x="260.7" y="396.7" width="1" height="1" fill="#3a94cc"/>
<rect x="287.5" y="384.1" width="1" height="1" fill="#3a94cc"/>
<rect x="271.3" y="367.6" width="1" height="1" fill="#d0c840"/>
<rect x="275.7" y="372.1" width="1" height="1" fill="#40b0b0"/>
<rect x="276.7" y="393.2" width="1" height="1" fill="#3a94cc"/>
<rect x="266.6" y="382.7" width="1" height="1" fill="#f0963c"/>
<rect x="263.5" y="385.2" width="1" height="1" fill="#40b0b0"/>
<rect x="276.0" y="373.9" width="1" height="1" fill="#40b0b0"/>
<rect x="274.8" y="391.1" width="1" height="1" fill="#3a94cc"/>
<rect x="263.3" y="369.0" width="1" height="1" fill="#f0963c"/>
<rect x="264.4" y="384.7" width="1" height="1" fill="#40b0b0"/>
<rect x="257.2" y="365.4" width="1" height="1" fill="#40b0b0"/>
<rect x="260.1" y="379.1" width="1" height="1" fill="#e85a3c"/>
<rect x="289.9" y="376.2" width="1" height="1" fill="#3a94cc"/>
<rect x="274.2" y="364.0" width="1" height="1" fill="#40b0b0"/>
<rect x="287.8" y="382.8" width="1" height="1" fill="#3a94cc"/>
<rect x="262.7" y="395.2" width="1" height="1" fill="#3a94cc"/>
<rect x="286.3" y="375.7" width="1" height="1" fill="#3a94cc"/>
<rect x="263.2" y="363.7" width="1" height="1" fill="#68c068"/>
<rect x="282.5" y="368.2" width="1" height="1" fill="#3a94cc"/>
<rect x="256.8" y="368.2" width="1" height="1" fill="#68c068"/>
<rect x="279.5" y="383.9" width="1" height="1" fill="#3a94cc"/>
<rect x="274.8" y="363.0" width="1" height="1" fill="#3a94cc"/>
<rect x="290.5" y="379.6" width="1" height="1" fill="#3a94cc"/>
<rect x="286.1" y="379.2" width="1" height="1" fill="#3a94cc"/>
<rect x="263.8" y="376.7" width="1" height="1" fill="#f0963c"/>
<rect x="263.9" y="387.1" width="1" height="1" fill="#68c068"/>
<rect x="262.3" y="386.6" width="1" height="1" fill="#d0c840"/>
<rect x="290.2" y="372.8" width="1" height="1" fill="#3a94cc"/>
<rect x="280.6" y="376.4" width="1" height="1" fill="#3a94cc"/>
<rect x="283.5" y="383.5" width="1" height="1" fill="#40b0b0"/>
<rect x="265.4" y="394.3" width="1" height="1" fill="#3a94cc"/>
<rect x="268.2" y="391.3" width="1" height="1" fill="#40b0b0"/>
<rect x="280.4" y="391.9" width="1" height="1" fill="#3a94cc"/>
<rect x="270.2" y="390.3" width="1" height="1" fill="#68c068"/>
<rect x="279.6" y="381.4" width="1" height="1" fill="#40b0b0"/>
<rect x="256.5" y="378.8" width="1" height="1" fill="#d0c840"/>
<rect x="259.5" y="392.0" width="1" height="1" fill="#3a94cc"/>
<rect x="264.1" y="367.2" width="1" height="1" fill="#40b0b0"/>
<rect x="283.1" y="386.2" width="1" height="1" fill="#40b0b0"/>
<rect x="275.9" y="395.7" width="1" height="1" fill="#3a94cc"/>
<rect x="274.3" y="381.4" width="1" height="1" fill="#d0c840"/>
<rect x="280.8" y="366.4" width="1" height="1" fill="#3a94cc"/>
<rect x="280.9" y="395.0" width="1" height="1" fill="#3a94cc"/>
<rect x="268.7" y="365.9" width="1" height="1" fill="#d0c840"/>
<rect x="259.3" y="381.4" width="1" height="1" fill="#68c068"/>
<rect x="262.6" y="388.7" width="1" height="1" fill="#d0c840"/>
<rect x="285.1" y="379.3" width="1" height="1" fill="#3a94cc"/>
<rect x="268.1" y="380.5" width="1" height="1" fill="#e85a3c"/>
<rect x="282.2" y="378.2" width="1" height="1" fill="#40b0b0"/>
<rect x="270.1" y="377.2" width="1" height="1" fill="#68c068"/>
<rect x="264.1" y="379.4" width="1" height="1" fill="#e85a3c"/>
<rect x="279.8" y="379.8" width="1" height="1" fill="#68c068"/>
<rect x="256.4" y="396.2" width="1" height="1" fill="#3a94cc"/>
<rect x="290.5" y="369.7" width="1" height="1" fill="#3a94cc"/>
<rect x="258.3" y="369.7" width="1" height="1" fill="#40b0b0"/>
<rect x="274.6" y="364.0" width="1" height="1" fill="#3a94cc"/>
<rect x="265.8" y="380.4" width="1" height="1" fill="#f0963c"/>
<rect x="288.6" y="378.1" width="1" height="1" fill="#3a94cc"/>
<rect x="264.4" y="383.4" width="1" height="1" fill="#d0c840"/>
<rect x="279.3" y="365.6" width="1" height="1" fill="#3a94cc"/>
<rect x="275.7" y="373.3" width="1" height="1" fill="#68c068"/>
<rect x="288.7" y="383.8" width="1" height="1" fill="#3a94cc"/>
<rect x="262.6" y="369.0" width="1" height="1" fill="#d0c840"/>
<rect x="258.3" y="377.1" width="1" height="1" fill="#e85a3c"/>
<rect x="266.2" y="378.9" width="1" height="1" fill="#f0963c"/>
<rect x="282.8" y="389.3" width="1" height="1" fill="#3a94cc"/>
<rect x="266.0" y="384.2" width="1" height="1" fill="#f0963c"/>
<rect x="275.1" y="385.8" width="1" height="1" fill="#40b0b0"/>
<rect x="262.1" y="391.8" width="1" height="1" fill="#3a94cc"/>
<rect x="286.6" y="397.0" width="1" height="1" fill="#3a94cc"/>
<rect x="269.2" y="395.8" width="1" height="1" fill="#3a94cc"/>
<rect x="263.2" y="363.7" width="1" height="1" fill="#40b0b0"/>
<rect x="283.4" y="368.1" width="1" height="1" fill="#3a94cc"/>
<rect x="260.5" y="375.0" width="1" height="1" fill="#f0963c"/>
<rect x="259.0" y="379.0" width="1" height="1" fill="#e85a3c"/>
<rect x="273.7" y="396.3" width="1" height="1" fill="#3a94cc"/>
<rect x="286.4" y="368.5" width="1" height="1" fill="#3a94cc"/>
<rect x="276.3" y="380.9" width="1" height="1" fill="#d0c840"/>
<rect x="262.1" y="373.7" width="1" height="1" fill="#f0963c"/>
<rect x="278.1" y="373.9" width="1" height="1" fill="#40b0b0"/>
<rect x="283.6" y="382.6" width="1" height="1" fill="#3a94cc"/>
<rect x="286.5" y="380.3" width="1" height="1" fill="#3a94cc"/>
<rect x="278.8" y="370.8" width="1" height="1" fill="#40b0b0"/>
<rect x="282.0" y="382.9" width="1" height="1" fill="#40b0b0"/>
<rect x="261.0" y="373.0" width="1" height="1" fill="#f0963c"/>
<rect x="278.7" y="381.6" width="1" height="1" fill="#40b0b0"/>
<rect x="281.7" y="374.0" width="1" height="1" fill="#68c068"/>
<rect x="283.0" y="365.1" width="1" height="1" fill="#3a94cc"/>
<rect x="274.4" y="371.6" width="1" height="1" fill="#d0c840"/>
<rect x="263.4" y="370.6" width="1" height="1" fill="#f0963c"/>
<rect x="288.2" y="375.2" width="1" height="1" fill="#3a94cc"/>
<rect x="265.7" y="381.9" width="1" height="1" fill="#e85a3c"/>
<rect x="256.3" y="395.2" width="1" height="1" fill="#3a94cc"/>
<rect x="274.7" y="379.8" width="1" height="1" fill="#d0c840"/>
<rect x="280.1" y="372.6" width="1" height="1" fill="#3a94cc"/>
<rect x="258.6" y="391.2" width="1" height="1" fill="#40b0b0"/>
<rect x="287.8" y="373.2" width="1" height="1" fill="#3a94cc"/>
<rect x="287.7" y="365.0" width="1" height="1" fill="#3a94cc"/>
<rect x="286.1" y="371.2" width="1" height="1" fill="#3a94cc"/>
<rect x="272.8" y="394.1" width="1" height="1" fill="#40b0b0"/>
<rect x="284.9" y="397.3" width="1" height="1" fill="#3a94cc"/>
<rect x="282.5" y="386.0" width="1" height="1" fill="#3a94cc"/>
<rect x="270.4" y="380.0" width="1" height="1" fill="#f0963c"/>
<rect x="265.4" y="392.1" width="1" height="1" fill="#40b0b0"/>
<rect x="286.5" y="386.9" width="1" height="1" fill="#3a94cc"/>
<rect x="276.6" y="385.8" width="1" height="1" fill="#68c068"/>
<rect x="256.3" y="378.0" width="1" height="1" fill="#68c068"/>
<rect x="272.8" y="365.2" width="1" height="1" fill="#40b0b0"/>
<rect x="265.2" y="391.3" width="1" height="1" fill="#3a94cc"/>
<rect x="284.7" y="392.9" width="1" height="1" fill="#3a94cc"/>
<rect x="265.3" y="395.1" width="1" height="1" fill="#3a94cc"/>
<rect x="290.2" y="381.6" width="1" height="1" fill="#3a94cc"/>
<rect x="280.5" y="366.4" width="1" height="1" fill="#3a94cc"/>
<rect x="259.8" y="391.3" width="1" height="1" fill="#40b0b0"/>
<rect x="265.0" y="396.0" width="1" height="1" fill="#3a94cc"/>
<rect x="281.6" y="373.6" width="1" height="1" fill="#40b0b0"/>
<rect x="275.0" y="365.2" width="1" height="1" fill="#3a94cc"/>
<rect x="276.9" y="386.7" width="1" height="1" fill="#68c068"/>
<rect x="268.2" y="367.0" width="1" height="1" fill="#d0c840"/>
<rect x="276.3" y="367.2" width="1" height="1" fill="#3a94cc"/>
<rect x="264.7" y="379.1" width="1" height="1" fill="#e85a3c"/>
<rect x="272.2" y="367.2" width="1" height="1" fill="#68c068"/>
<rect x="288.0" y="367.0" width="1" height="1" fill="#3a94cc"/>
<rect x="267.4" y="381.5" width="1" height="1" fill="#e85a3c"/>
<rect x="291.7" y="384.1" width="1" height="1" fill="#3a94cc"/>
<rect x="265.3" y="395.9" width="1" height="1" fill="#3a94cc"/>
<rect x="267.2" y="377.3" width="1" height="1" fill="#e85a3c"/>
<rect x="287.8" y="386.6" width="1" height="1" fill="#3a94cc"/>
<rect x="262.6" y="397.2" width="1" height="1" fill="#3a94cc"/>
<rect x="286.6" y="366.3" width="1" height="1" fill="#3a94cc"/>
<rect x="277.5" y="390.0" width="1" height="1" fill="#3a94cc"/>
<rect x="258.3" y="379.2" width="1" height="1" fill="#e85a3c"/>
<rect x="265.7" y="383.8" width="1" height="1" fill="#f0963c"/>
<rect x="275.4" y="383.1" width="1" height="1" fill="#40b0b0"/>
<rect x="288.1" y="372.4" width="1" height="1" fill="#3a94cc"/>
<rect x="260.1" y="392.2" width="1" height="1" fill="#3a94cc"/>
<rect x="289.1" y="366.9" width="1" height="1" fill="#3a94cc"/>
<rect x="287.1" y="396.7" width="1" height="1" fill="#3a94cc"/>
<rect x="291.7" y="373.1" width="1" height="1" fill="#3a94cc"/>
<rect x="274.1" y="363.0" width="1" height="1" fill="#3a94cc"/>
<rect x="265.1" y="379.1" width="1" height="1" fill="#e85a3c"/>
<rect x="260.4" y="374.1" width="1" height="1" fill="#f0963c"/>
<rect x="259.3" y="366.8" width="1" height="1" fill="#3a94cc"/>
<rect x="287.7" y="364.0" width="1" height="1" fill="#3a94cc"/>
<rect x="285.0" y="392.0" width="1" height="1" fill="#3a94cc"/>
<rect x="285.5" y="365.3" width="1" height="1" fill="#3a94cc"/>
<rect x="257.7" y="395.9" width="1" height="1" fill="#3a94cc"/>
<rect x="283.1" y="364.1" width="1" height="1" fill="#3a94cc"/>
<rect x="259.4" y="385.1" width="1" height="1" fill="#68c068"/>
<rect x="280.2" y="370.6" width="1" height="1" fill="#3a94cc"/>
<rect x="273.2" y="369.9" width="1" height="1" fill="#40b0b0"/>
<rect x="280.9" y="384.3" width="1" height="1" fill="#40b0b0"/>
<rect x="258.2" y="393.5" width="1" height="1" fill="#3a94cc"/>
<rect x="277.3" y="379.7" width="1" height="1" fill="#d0c840"/>
<rect x="283.2" y="381.2" width="1" height="1" fill="#3a94cc"/>
<rect x="263.7" y="362.7" width="1" height="1" fill="#3a94cc"/>
<rect x="274.7" y="393.0" width="1" height="1" fill="#3a94cc"/>
<rect x="274.3" y="382.9" width="1" height="1" fill="#d0c840"/>
<rect x="276.9" y="378.6" width="1" height="1" fill="#f0963c"/>
<rect x="287.7" y="380.5" width="1" height="1" fill="#3a94cc"/>
<rect x="284.2" y="386.3" width="1" height="1" fill="#3a94cc"/>
<rect x="267.3" y="374.9" width="1" height="1" fill="#f0963c"/>
<rect x="273.7" y="372.8" width="1" height="1" fill="#40b0b0"/>
<rect x="269.4" y="387.0" width="1" height="1" fill="#68c068"/>
<rect x="289.3" y="368.1" width="1" height="1" fill="#3a94cc"/>
<rect x="269.5" y="393.2" width="1" height="1" fill="#68c068"/>
<rect x="284.9" y="373.7" width="1" height="1" fill="#3a94cc"/>
<rect x="271.0" y="374.8" width="1" height="1" fill="#68c068"/>
<rect x="272.7" y="388.0" width="1" height="1" fill="#3a94cc"/>
<rect x="283.6" y="368.7" width="1" height="1" fill="#40b0b0"/>
<rect x="269.3" y="362.7" width="1" height="1" fill="#3a94cc"/>
<rect x="262.4" y="379.2" width="1" height="1" fill="#f0963c"/>
<rect x="260.7" y="385.4" width="1" height="1" fill="#d0c840"/>
<rect x="280.7" y="374.0" width="1" height="1" fill="#3a94cc"/>
<rect x="256.9" y="391.8" width="1" height="1" fill="#3a94cc"/>
<rect x="266.6" y="371.7" width="1" height="1" fill="#e85a3c"/>
<rect x="281.1" y="367.6" width="1" height="1" fill="#3a94cc"/>
<rect x="275.7" y="364.3" width="1" height="1" fill="#40b0b0"/>
<rect x="266.2" y="377.3" width="1" height="1" fill="#e85a3c"/>
<rect x="277.3" y="365.2" width="1" height="1" fill="#3a94cc"/>
<rect x="291.0" y="388.7" width="1" height="1" fill="#3a94cc"/>
<rect x="262.5" y="370.9" width="1" height="1" fill="#e85a3c"/>
<rect x="257.4" y="381.8" width="1" height="1" fill="#68c068"/>
<rect x="262.3" y="394.7" width="1" height="1" fill="#3a94cc"/>
<rect x="284.4" y="372.5" width="1" height="1" fill="#3a94cc"/>
<rect x="261.1" y="375.8" width="1" height="1" fill="#f0963c"/>
<rect x="285.0" y="366.0" width="1" height="1" fill="#3a94cc"/>
<rect x="284.7" y="374.3" width="1" height="1" fill="#40b0b0"/>
<rect x="257.5" y="366.0" width="1" height="1" fill="#68c068"/>
<rect x="283.5" y="369.5" width="1" height="1" fill="#40b0b0"/>
<rect x="266.1" y="369.9" width="1" height="1" fill="#68c068"/>
<rect x="261.6" y="387.9" width="1" height="1" fill="#d0c840"/>
<rect x="257.4" y="378.8" width="1" height="1" fill="#d0c840"/>
<rect x="281.9" y="386.4" width="1" height="1" fill="#3a94cc"/>
<rect x="263.1" y="364.0" width="1" height="1" fill="#68c068"/>
<rect x="256.3" y="391.8" width="1" height="1" fill="#40b0b0"/>
<rect x="288.3" y="375.1" width="1" height="1" fill="#3a94cc"/>
<rect x="289.3" y="385.2" width="1" height="1" fill="#3a94cc"/>
<rect x="274.6" y="389.4" width="1" height="1" fill="#40b0b0"/>
<rect x="275.7" y="377.0" width="1" height="1" fill="#68c068"/>
<rect x="268.1" y="376.3" width="1" height="1" fill="#f0963c"/>
<rect x="282.9" y="393.5" width="1" height="1" fill="#3a94cc"/>
<rect x="272.4" y="392.1" width="1" height="1" fill="#3a94cc"/>
<rect x="282.8" y="389.8" width="1" height="1" fill="#3a94cc"/>
<rect x="269.9" y="368.4" width="1" height="1" fill="#40b0b0"/>
<rect x="279.5" y="374.6" width="1" height="1" fill="#68c068"/>
<rect x="260.1" y="382.5" width="1" height="1" fill="#e85a3c"/>
<rect x="279.9" y="388.9" width="1" height="1" fill="#3a94cc"/>
<rect x="276.5" y="388.9" width="1" height="1" fill="#3a94cc"/>
<rect x="276.9" y="383.4" width="1" height="1" fill="#3a94cc"/>
<rect x="262.8" y="365.7" width="1" height="1" fill="#68c068"/>
<rect x="280.0" y="371.4" width="1" height="1" fill="#68c068"/>
<rect x="273.5" y="389.4" width="1" height="1" fill="#68c068"/>
<rect x="259.2" y="389.6" width="1" height="1" fill="#d0c840"/>
<rect x="256.5" y="384.4" width="1" height="1" fill="#68c068"/>
<rect x="271.1" y="385.9" width="1" height="1" fill="#68c068"/>
<rect x="287.2" y="365.2" width="1" height="1" fill="#3a94cc"/>
<rect x="260.2" y="393.7" width="1" height="1" fill="#3a94cc"/>
<rect x="289.8" y="374.5" width="1" height="1" fill="#3a94cc"/>
<rect x="263.9" y="377.2" width="1" height="1" fill="#e85a3c"/>
<rect x="281.5" y="395.3" width="1" height="1" fill="#3a94cc"/>
<rect x="271.4" y="385.5" width="1" height="1" fill="#d0c840"/>
<rect x="256.0" y="377.2" width="1" height="1" fill="#68c068"/>
<rect x="285.1" y="366.5" width="1" height="1" fill="#3a94cc"/>
<rect x="266.8" y="380.9" width="1" height="1" fill="#f0963c"/>
<rect x="260.0" y="386.2" width="1" height="1" fill="#68c068"/>
<rect x="270.6" y="365.7" width="1" height="1" fill="#d0c840"/>
<rect x="292.0" y="364.2" width="1" height="1" fill="#3a94cc"/>
<rect x="262.5" y="365.1" width="1" height="1" fill="#f0963c"/>
<rect x="284.0" y="366.4" width="1" height="1" fill="#3a94cc"/>
<rect x="275.4" y="375.0" width="1" height="1" fill="#40b0b0"/>
<rect x="277.7" y="371.5" width="1" height="1" fill="#68c068"/>
<rect x="271.7" y="380.9" width="1" height="1" fill="#f0963c"/>
<rect x="259.2" y="377.2" width="1" height="1" fill="#d0c840"/>
<rect x="291.5" y="376.5" width="1" height="1" fill="#3a94cc"/>
<rect x="285.2" y="388.3" width="1" height="1" fill="#3a94cc"/>
<rect x="269.7" y="387.4" width="1" height="1" fill="#40b0b0"/>
<rect x="256.6" y="369.2" width="1" height="1" fill="#40b0b0"/>
<rect x="262.3" y="374.8" width="1" height="1" fill="#f0963c"/>
<rect x="287.5" y="365.7" width="1" height="1" fill="#3a94cc"/>
<rect x="290.2" y="395.7" width="1" height="1" fill="#3a94cc"/>
<rect x="289.9" y="378.2" width="1" height="1" fill="#3a94cc"/>
<rect x="286.8" y="363.7" width="1" height="1" fill="#3a94cc"/>
<rect x="284.0" y="367.7" width="1" height="1" fill="#40b0b0"/>
<rect x="259.0" y="380.8" width="1" height="1" fill="#e85a3c"/>
<rect x="262.4" y="382.4" width="1" height="1" fill="#e85a3c"/>
<rect x="290.9" y="371.4" width="1" height="1" fill="#3a94cc"/>
<rect x="280.2" y="377.9" width="1" height="1" fill="#d0c840"/>
<rect x="271.1" y="378.9" width="1" height="1" fill="#d0c840"/>
<rect x="266.1" y="368.6" width="1" height="1" fill="#d0c840"/>
<rect x="288.4" y="375.2" width="1" height="1" fill="#3a94cc"/>
<rect x="288.3" y="393.9" width="1" height="1" fill="#3a94cc"/>
<rect x="281.6" y="378.2" width="1" height="1" fill="#40b0b0"/>
<rect x="267.2" y="391.5" width="1" height="1" fill="#3a94cc"/>
<rect x="257.5" y="384.8" width="1" height="1" fill="#d0c840"/>
<rect x="275.5" y="396.9" width="1" height="1" fill="#3a94cc"/>
<rect x="291.8" y="375.0" width="1" height="1" fill="#3a94cc"/>
<rect x="274.9" y="382.2" width="1" height="1" fill="#d0c840"/>
<rect x="263.1" y="390.1" width="1" height="1" fill="#d0c840"/>
<rect x="289.2" y="384.3" width="1" height="1" fill="#3a94cc"/>
<rect x="281.0" y="381.7" width="1" height="1" fill="#3a94cc"/>
<rect x="258.2" y="368.8" width="1" height="1" fill="#40b0b0"/>
<rect x="291.3" y="375.8" width="1" height="1" fill="#3a94cc"/>
<rect x="258.2" y="383.7" width="1" height="1" fill="#68c068"/>
<rect x="264.2" y="370.1" width="1" height="1" fill="#e85a3c"/>
<rect x="256.5" y="387.5" width="1" height="1" fill="#d0c840"/>
<rect x="277.0" y="379.5" width="1" height="1" fill="#68c068"/>
<rect x="268.7" y="380.8" width="1" height="1" fill="#f0963c"/>
<rect x="268.1" y="397.3" width="1" height="1" fill="#3a94cc"/>
<rect x="285.2" y="390.3" width="1" height="1" fill="#3a94cc"/>
<rect x="273.7" y="380.0" width="1" height="1" fill="#d0c840"/>
<rect x="264.1" y="363.0" width="1" height="1" fill="#40b0b0"/>
<rect x="273.7" y="378.4" width="1" height="1" fill="#40b0b0"/>
<rect x="270.6" y="379.9" width="1" height="1" fill="#f0963c"/>
<rect x="259.8" y="388.9" width="1" height="1" fill="#68c068"/>
<rect x="287.6" y="364.0" width="1" height="1" fill="#3a94cc"/>
<rect x="262.9" y="379.2" width="1" height="1" fill="#f0963c"/>
<rect x="265.6" y="390.2" width="1" height="1" fill="#40b0b0"/>
<rect x="268.1" y="395.0" width="1" height="1" fill="#3a94cc"/>
<rect x="267.2" y="392.2" width="1" height="1" fill="#40b0b0"/>
<rect x="259.7" y="386.1" width="1" height="1" fill="#3a94cc"/>
<rect x="285.0" y="364.3" width="1" height="1" fill="#3a94cc"/>
<rect x="273.4" y="370.1" width="1" height="1" fill="#68c068"/>
<rect x="282.5" y="382.6" width="1" height="1" fill="#3a94cc"/>
<rect x="260.7" y="372.5" width="1" height="1" fill="#68c068"/>
<rect x="283.1" y="379.0" width="1" height="1" fill="#3a94cc"/>
<rect x="290.6" y="396.7" width="1" height="1" fill="#3a94cc"/>
<rect x="262.9" y="384.5" width="1" height="1" fill="#68c068"/>
<rect x="277.4" y="380.6" width="1" height="1" fill="#68c068"/>
<rect x="267.3" y="385.9" width="1" height="1" fill="#f0963c"/>
<rect x="290.2" y="364.2" width="1" height="1" fill="#3a94cc"/>
<rect x="282.9" y="377.6" width="1" height="1" fill="#3a94cc"/>
<rect x="286.2" y="385.9" width="1" height="1" fill="#3a94cc"/>
<rect x="277.4" y="396.6" width="1" height="1" fill="#3a94cc"/>
<rect x="284.9" y="374.3" width="1" height="1" fill="#3a94cc"/>
<rect x="258.3" y="394.8" width="1" height="1" fill="#3a94cc"/>
<rect x="289.6" y="385.7" width="1" height="1" fill="#3a94cc"/>
<rect x="282.9" y="383.4" width="1" height="1" fill="#3a94cc"/>
<rect x="264.0" y="365.3" width="1" height="1" fill="#68c068"/>
<rect x="260.5" y="382.1" width="1" height="1" fill="#e85a3c"/>
<rect x="265.5" y="371.7" width="1" height="1" fill="#d0c840"/>
<rect x="282.9" y="391.1" width="1" height="1" fill="#3a94cc"/>
<rect x="271.7" y="378.3" width="1" height="1" fill="#f0963c"/>
<rect x="284.0" y="393.5" width="1" height="1" fill="#3a94cc"/>
<rect x="266.7" y="387.4" width="1" height="1" fill="#68c068"/>
<rect x="280.7" y="389.7" width="1" height="1" fill="#3a94cc"/>
<rect x="267.9" y="397.3" width="1" height="1" fill="#3a94cc"/>
<rect x="283.4" y="392.0" width="1" height="1" fill="#3a94cc"/>
<rect x="261.0" y="394.4" width="1" height="1" fill="#40b0b0"/>
<rect x="269.6" y="381.0" width="1" height="1" fill="#d0c840"/>
<rect x="275.0" y="372.8" width="1" height="1" fill="#40b0b0"/>
<rect x="281.8" y="386.8" width="1" height="1" fill="#3a94cc"/>
<rect x="270.3" y="392.5" width="1" height="1" fill="#3a94cc"/>
<rect x="256.7" y="381.9" width="1" height="1" fill="#d0c840"/>
<rect x="274.8" y="370.5" width="1" height="1" fill="#68c068"/>
<rect x="257.3" y="396.2" width="1" height="1" fill="#3a94cc"/>
<rect x="287.9" y="364.9" width="1" height="1" fill="#3a94cc"/>
<rect x="275.4" y="391.9" width="1" height="1" fill="#40b0b0"/>
<rect x="279.1" y="395.4" width="1" height="1" fill="#3a94cc"/>
<rect x="260.2" y="391.3" width="1" height="1" fill="#d0c840"/>
<rect x="267.5" y="394.7" width="1" height="1" fill="#3a94cc"/>
<rect x="283.2" y="376.2" width="1" height="1" fill="#d0c840"/>
<rect x="274.9" y="389.9" width="1" height="1" fill="#3a94cc"/>
<rect x="276.5" y="387.6" width="1" height="1" fill="#3a94cc"/>
<rect x="268.3" y="383.7" width="1" height="1" fill="#d0c840"/>
<rect x="280.5" y="394.1" width="1" height="1" fill="#3a94cc"/>
<rect x="269.3" y="380.9" width="1" height="1" fill="#e85a3c"/>
<rect x="265.7" y="372.5" width="1" height="1" fill="#f0963c"/>
<rect x="270.1" y="385.3" width="1" height="1" fill="#40b0b0"/>
<rect x="274.1" y="388.1" width="1" height="1" fill="#3a94cc"/>
<rect x="270.8" y="363.5" width="1" height="1" fill="#68c068"/>
<rect x="259.3" y="396.8" width="1" height="1" fill="#3a94cc"/>
<rect x="277.1" y="378.6" width="1" height="1" fill="#40b0b0"/>
<rect x="268.1" y="385.2" width="1" height="1" fill="#d0c840"/>
<rect x="262.3" y="379.5" width="1" height="1" fill="#e85a3c"/>
<rect x="280.8" y="380.6" width="1" height="1" fill="#3a94cc"/>
<rect x="283.0" y="384.3" width="1" height="1" fill="#3a94cc"/>
<rect x="273.4" y="389.1" width="1" height="1" fill="#3a94cc"/>
<rect x="289.7" y="374.8" width="1" height="1" fill="#3a94cc"/>
<rect x="279.4" y="362.7" width="1" height="1" fill="#3a94cc"/>
<rect x="285.7" y="378.1" width="1" height="1" fill="#40b0b0"/>
<rect x="269.4" y="370.6" width="1" height="1" fill="#d0c840"/>
<rect x="280.9" y="384.4" width="1" height="1" fill="#3a94cc"/>
<rect x="289.5" y="372.4" width="1" height="1" fill="#3a94cc"/>
<rect x="266.6" y="382.7" width="1" height="1" fill="#e85a3c"/>
<rect x="291.4" y="367.0" width="1" height="1" fill="#3a94cc"/>
<rect x="264.1" y="368.5" width="1" height="1" fill="#f0963c"/>
<rect x="280.3" y="393.5" width="1" height="1" fill="#3a94cc"/>
<rect x="258.6" y="363.4" width="1" height="1" fill="#3a94cc"/>
<rect x="260.8" y="377.6" width="1" height="1" fill="#f0963c"/>
<rect x="269.1" y="388.0" width="1" height="1" fill="#3a94cc"/>
<rect x="271.1" y="385.0" width="1" height="1" fill="#d0c840"/>
<rect x="260.8" y="383.9" width="1" height="1" fill="#40b0b0"/>
<rect x="261.0" y="368.3" width="1" height="1" fill="#f0963c"/>
<rect x="288.5" y="386.9" width="1" height="1" fill="#3a94cc"/>
<rect x="278.3" y="363.3" width="1" height="1" fill="#3a94cc"/>
<rect x="282.5" y="390.3" width="1" height="1" fill="#3a94cc"/>
<rect x="282.4" y="397.4" width="1" height="1" fill="#3a94cc"/>
<rect x="278.3" y="375.3" width="1" height="1" fill="#68c068"/>
<rect x="290.9" y="375.3" width="1" height="1" fill="#3a94cc"/>
<rect x="264.0" y="397.4" width="1" height="1" fill="#3a94cc"/>
<rect x="267.2" y="387.9" width="1" height="1" fill="#40b0b0"/>
<rect x="291.4" y="378.9" width="1" height="1" fill="#3a94cc"/>
<rect x="271.2" y="390.6" width="1" height="1" fill="#68c068"/>
<rect x="291.0" y="388.9" width="1" height="1" fill="#3a94cc"/>
<rect x="289.1" y="395.9" width="1" height="1" fill="#3a94cc"/>
<rect x="275.1" y="376.1" width="1" height="1" fill="#40b0b0"/>
<rect x="268.8" y="362.5" width="1" height="1" fill="#40b0b0"/>
<rect x="291.8" y="373.3" width="1" height="1" fill="#3a94cc"/>
<rect x="269.0" y="389.9" width="1" height="1" fill="#40b0b0"/>
<rect x="280.2" y="386.1" width="1" height="1" fill="#40b0b0"/>
<rect x="285.9" y="389.1" width="1" height="1" fill="#3a94cc"/>
<rect x="273.2" y="382.2" width="1" height="1" fill="#68c068"/>
<rect x="273.1" y="379.5" width="1" height="1" fill="#f0963c"/>
<rect x="282.5" y="388.2" width="1" height="1" fill="#3a94cc"/>
<rect x="269.5" y="386.1" width="1" height="1" fill="#40b0b0"/>
<rect x="269.6" y="394.0" width="1" height="1" fill="#3a94cc"/>
<rect x="269.7" y="374.8" width="1" height="1" fill="#e85a3c"/>
<rect x="271.6" y="383.7" width="1" height="1" fill="#40b0b0"/>
<rect x="289.4" y="364.7" width="1" height="1" fill="#3a94cc"/>
<rect x="288.1" y="382.5" width="1" height="1" fill="#3a94cc"/>
<rect x="281.9" y="388.9" width="1" height="1" fill="#3a94cc"/>
<rect x="271.2" y="366.6" width="1" height="1" fill="#3a94cc"/>
<rect x="282.0" y="370.1" width="1" height="1" fill="#68c068"/>
<rect x="274.0" y="380.5" width="1" height="1" fill="#d0c840"/>
<rect x="272.5" y="396.8" width="1" height="1" fill="#3a94cc"/>
<rect x="278.6" y="396.7" width="1" height="1" fill="#3a94cc"/>
<rect x="283.8" y="375.8" width="1" height="1" fill="#3a94cc"/>
<rect x="277.5" y="382.2" width="1" height="1" fill="#68c068"/>
<rect x="280.4" y="375.4" width="1" height="1" fill="#68c068"/>
<rect x="284.2" y="379.8" width="1" height="1" fill="#68c068"/>
<rect x="266.1" y="362.7" width="1" height="1" fill="#f0963c"/>
<rect x="288.2" y="380.9" width="1" height="1" fill="#3a94cc"/>
<rect x="288.1" y="376.0" width="1" height="1" fill="#3a94cc"/>
<rect x="291.5" y="376.2" width="1" height="1" fill="#3a94cc"/>
<rect x="269.1" y="377.2" width="1" height="1" fill="#e85a3c"/>
<rect x="269.2" y="374.5" width="1" height="1" fill="#e85a3c"/>
<rect x="258.2" y="397.1" width="1" height="1" fill="#3a94cc"/>
<rect x="284.5" y="382.1" width="1" height="1" fill="#3a94cc"/>
<rect x="283.5" y="393.1" width="1" height="1" fill="#3a94cc"/>
<rect x="269.7" y="380.0" width="1" height="1" fill="#f0963c"/>
<rect x="286.7" y="385.0" width="1" height="1" fill="#3a94cc"/>
<rect x="272.1" y="384.9" width="1" height="1" fill="#68c068"/>
<rect x="268.9" y="382.6" width="1" height="1" fill="#d0c840"/>
<rect x="262.6" y="381.5" width="1" height="1" fill="#f0963c"/>
<rect x="282.6" y="375.1" width="1" height="1" fill="#3a94cc"/>
<rect x="282.7" y="388.7" width="1" height="1" fill="#3a94cc"/>
<rect x="286.3" y="381.8" width="1" height="1" fill="#3a94cc"/>
<rect x="276.9" y="386.5" width="1" height="1" fill="#d0c840"/>
<rect x="256.3" y="396.4" width="1" height="1" fill="#3a94cc"/>
<rect x="278.2" y="376.8" width="1" height="1" fill="#3a94cc"/>
<rect x="277.5" y="362.8" width="1" height="1" fill="#40b0b0"/>
<rect x="278.4" y="376.9" width="1" height="1" fill="#d0c840"/>
<rect x="260.7" y="392.1" width="1" height="1" fill="#40b0b0"/>
<rect x="267.2" y="371.3" width="1" height="1" fill="#d0c840"/>
<rect x="265.6" y="381.0" width="1" height="1" fill="#f0963c"/>
<rect x="289.8" y="368.5" width="1" height="1" fill="#3a94cc"/>
<rect x="279.0" y="374.9" width="1" height="1" fill="#3a94cc"/>
<rect x="280.1" y="367.8" width="1" height="1" fill="#3a94cc"/>
<rect x="282.1" y="367.2" width="1" height="1" fill="#3a94cc"/>
<rect x="257.7" y="385.9" width="1" height="1" fill="#3a94cc"/>
<rect x="280.9" y="368.1" width="1" height="1" fill="#3a94cc"/>
<rect x="270.7" y="364.4" width="1" height="1" fill="#3a94cc"/>
<rect x="287.6" y="394.3" width="1" height="1" fill="#3a94cc"/>
<rect x="283.1" y="384.8" width="1" height="1" fill="#40b0b0"/>
<rect x="279.6" y="379.9" width="1" height="1" fill="#68c068"/>
<rect x="270.3" y="391.8" width="1" height="1" fill="#40b0b0"/>
<rect x="280.5" y="396.2" width="1" height="1" fill="#3a94cc"/>
<rect x="268.4" y="377.7" width="1" height="1" fill="#e85a3c"/>
<rect x="268.8" y="390.1" width="1" height="1" fill="#40b0b0"/>
<rect x="262.8" y="379.2" width="1" height="1" fill="#e85a3c"/>
<rect x="283.8" y="366.5" width="1" height="1" fill="#3a94cc"/>
<rect x="273.5" y="369.1" width="1" height="1" fill="#d0c840"/>
<rect x="264.0" y="370.6" width="1" height="1" fill="#e85a3c"/>
<rect x="266.9" y="374.0" width="1" height="1" fill="#d0c840"/>
<rect x="284.5" y="376.3" width="1" height="1" fill="#40b0b0"/>
<rect x="272.5" y="369.5" width="1" height="1" fill="#e85a3c"/>
<rect x="259.3" y="376.3" width="1" height="1" fill="#d0c840"/>
<rect x="263.0" y="392.1" width="1" height="1" fill="#40b0b0"/>
<rect x="257.9" y="386.7" width="1" height="1" fill="#40b0b0"/>
<rect x="274.5" y="390.5" width="1" height="1" fill="#40b0b0"/>
<rect x="265.5" y="371.3" width="1" height="1" fill="#e85a3c"/>
<rect x="277.5" y="364.2" width="1" height="1" fill="#3a94cc"/>
<rect x="273.8" y="375.1" width="1" height="1" fill="#d0c840"/>
<rect x="258.8" y="381.9" width="1" height="1" fill="#d0c840"/>
<rect x="259.6" y="386.5" width="1" height="1" fill="#d0c840"/>
<rect x="272.9" y="390.2" width="1" height="1" fill="#d0c840"/>
<rect x="287.4" y="373.7" width="1" height="1" fill="#3a94cc"/>
<rect x="275.3" y="383.0" width="1" height="1" fill="#f0963c"/>
<rect x="281.4" y="391.1" width="1" height="1" fill="#3a94cc"/>
<rect x="265.1" y="380.2" width="1" height="1" fill="#e85a3c"/>
<rect x="256.6" y="390.9" width="1" height="1" fill="#40b0b0"/>
<rect x="272.1" y="368.1" width="1" height="1" fill="#40b0b0"/>
<rect x="282.7" y="388.4" width="1" height="1" fill="#3a94cc"/>
<rect x="278.4" y="394.5" width="1" height="1" fill="#3a94cc"/>
<rect x="261.9" y="384.8" width="1" height="1" fill="#d0c840"/>
<rect x="263.9" y="363.5" width="1" height="1" fill="#40b0b0"/>
<rect x="275.4" y="378.4" width="1" height="1" fill="#68c068"/>
<rect x="272.7" y="362.9" width="1" height="1" fill="#40b0b0"/>
<rect x="259.3" y="364.5" width="1" height="1" fill="#40b0b0"/>
<rect x="261.4" y="376.5" width="1" height="1" fill="#f0963c"/>
<rect x="261.9" y="388.2" width="1" height="1" fill="#40b0b0"/>
<rect x="287.5" y="373.8" width="1" height="1" fill="#3a94cc"/>
<rect x="259.0" y="385.2" width="1" height="1" fill="#40b0b0"/>
<rect x="283.2" y="379.4" width="1" height="1" fill="#3a94cc"/>
<rect x="281.9" y="394.2" width="1" height="1" fill="#3a94cc"/>
<rect x="288.3" y="392.2" width="1" height="1" fill="#3a94cc"/>
<rect x="286.6" y="375.8" width="1" height="1" fill="#3a94cc"/>
<rect x="265.2" y="363.6" width="1" height="1" fill="#40b0b0"/>
<rect x="289.5" y="373.3" width="1" height="1" fill="#3a94cc"/>
<rect x="268.7" y="396.6" width="1" height="1" fill="#3a94cc"/>
<rect x="259.8" y="375.3" width="1" height="1" fill="#e85a3c"/>
<rect x="266.5" y="395.7" width="1" height="1" fill="#68c068"/>
<rect x="265.7" y="364.2" width="1" height="1" fill="#3a94cc"/>
<rect x="288.4" y="365.1" width="1" height="1" fill="#3a94cc"/>
<rect x="266.2" y="391.7" width="1" height="1" fill="#68c068"/>
<rect x="271.4" y="396.9" width="1" height="1" fill="#40b0b0"/>
<rect x="289.5" y="375.7" width="1" height="1" fill="#3a94cc"/>
<rect x="280.9" y="388.0" width="1" height="1" fill="#3a94cc"/>
<rect x="280.8" y="389.2" width="1" height="1" fill="#3a94cc"/>
<rect x="263.0" y="365.8" width="1" height="1" fill="#40b0b0"/>
<rect x="259.8" y="392.2" width="1" height="1" fill="#3a94cc"/>
<rect x="271.0" y="397.3" width="1" height="1" fill="#3a94cc"/>
<rect x="262.6" y="377.4" width="1" height="1" fill="#e85a3c"/>
<rect x="277.9" y="392.6" width="1" height="1" fill="#3a94cc"/>
<rect x="256.8" y="385.8" width="1" height="1" fill="#68c068"/>
<rect x="280.7" y="385.2" width="1" height="1" fill="#3a94cc"/>
<rect x="278.5" y="391.3" width="1" height="1" fill="#40b0b0"/>
<rect x="260.5" y="395.6" width="1" height="1" fill="#3a94cc"/>
<rect x="262.1" y="384.9" width="1" height="1" fill="#d0c840"/>
<rect x="267.0" y="395.3" width="1" height="1" fill="#3a94cc"/>
<rect x="274.1" y="395.4" width="1" height="1" fill="#3a94cc"/>
<rect x="266.9" y="393.7" width="1" height="1" fill="#3a94cc"/>
<rect x="290.1" y="393.4" width="1" height="1" fill="#3a94cc"/>
<rect x="283.0" y="381.6" width="1" height="1" fill="#3a94cc"/>
<rect x="279.4" y="366.6" width="1" height="1" fill="#3a94cc"/>
<rect x="279.2" y="374.6" width="1" height="1" fill="#d0c840"/>
<rect x="286.3" y="388.7" width="1" height="1" fill="#3a94cc"/>
<rect x="272.1" y="381.3" width="1" height="1" fill="#40b0b0"/>
<rect x="277.9" y="365.3" width="1" height="1" fill="#3a94cc"/>
<rect x="288.5" y="364.1" width="1" height="1" fill="#3a94cc"/>
<rect x="263.1" y="388.9" width="1" height="1" fill="#40b0b0"/>
<rect x="280.7" y="368.3" width="1" height="1" fill="#3a94cc"/>
<rect x="279.6" y="396.9" width="1" height="1" fill="#3a94cc"/>
<rect x="284.8" y="379.1" width="1" height="1" fill="#3a94cc"/>
<rect x="281.1" y="365.4" width="1" height="1" fill="#68c068"/>
<rect x="269.4" y="387.1" width="1" height="1" fill="#68c068"/>
<rect x="272.4" y="367.4" width="1" height="1" fill="#40b0b0"/>
<rect x="273.1" y="366.0" width="1" height="1" fill="#40b0b0"/>
<rect x="289.7" y="366.3" width="1" height="1" fill="#3a94cc"/>
</g>
<path d="M172.3 359.5 Q172.5 356.5 176 356.3 L188.5 355.4 Q197 356.5 203 358.3 Q207.5 360 208 364 L207.6 369 Q207.2 372.5 204 373 L200 373.7 Q193 377 188.5 381.3 L181.5 389 Q179.5 391.5 177.5 389.5 Q175 386 174.5 383 Q171.5 375 171.5 366 Z" fill="none" stroke="#000" stroke-width="1.4" stroke-linejoin="round"/>
<path d="M208.3 361.5 Q211 358.6 214 358.6 Q218 358.8 220 361 Q222.5 365 222.7 372 L222.6 380 Q222 384.8 218.3 384.8 Q214.5 385 212.5 382.5 Q210.5 379 210 375 Q209 369 208.3 365 Z" fill="none" stroke="#000" stroke-width="1.4"/>
<path d="M256.5 367.5 Q257 364 260 363.8 L273 363 Q282 364.5 289 367.5 Q292 370 291.5 375 Q291 378.7 288 378.8 L281 379.8 Q273 384 268.5 389.6 L265.5 395.5 Q264 397.5 262 396 Q258.5 393 257.5 388 Q256 380 256.3 372 Z" fill="none" stroke="#000" stroke-width="1.4" stroke-linejoin="round"/>
<path d="M292.3 367.5 Q293.5 364.5 297 364.6 Q301 364.6 303.5 367 Q306 370 306.4 376 L306.6 386 Q306 391 301.5 391 Q297.5 391 296 387.5 Q294 383 293.5 378 Z" fill="none" stroke="#000" stroke-width="1.4"/>
<text x="169.20" y="397.70" font-size="7.6" text-anchor="start" stroke="#1a1a1a" stroke-width="0.06">Liver</text>
<text x="206.30" y="393.80" font-size="7.6" text-anchor="start" stroke="#1a1a1a" stroke-width="0.06">Spleen</text>
<text x="253.80" y="404.60" font-size="7.6" text-anchor="start" stroke="#1a1a1a" stroke-width="0.06">Liver</text>
<text x="289.00" y="399.40" font-size="7.6" text-anchor="start" stroke="#1a1a1a" stroke-width="0.06">Spleen</text>
<text x="344.50" y="326.50" font-size="10.5" text-anchor="start" font-weight="bold" fill="#000" stroke="#000" stroke-width="0.3">H</text>
<line x1="383.50" y1="340.20" x2="383.50" y2="420.70" stroke="#1a1a1a" stroke-width="1.3"/>
<line x1="383.20" y1="420.20" x2="458.70" y2="420.20" stroke="#1a1a1a" stroke-width="1.2"/>
<line x1="380.50" y1="420.20" x2="383.80" y2="420.20" stroke="#1a1a1a" stroke-width="1"/>
<text x="377.80" y="423.20" font-size="8.4" text-anchor="end" stroke="#1a1a1a" stroke-width="0.06">0</text>
<line x1="380.50" y1="405.10" x2="383.80" y2="405.10" stroke="#1a1a1a" stroke-width="1"/>
<text x="377.80" y="408.10" font-size="8.4" text-anchor="end" stroke="#1a1a1a" stroke-width="0.06">2</text>
<line x1="380.50" y1="390.00" x2="383.80" y2="390.00" stroke="#1a1a1a" stroke-width="1"/>
<text x="377.80" y="393.00" font-size="8.4" text-anchor="end" stroke="#1a1a1a" stroke-width="0.06">4</text>
<line x1="380.50" y1="374.90" x2="383.80" y2="374.90" stroke="#1a1a1a" stroke-width="1"/>
<text x="377.80" y="377.90" font-size="8.4" text-anchor="end" stroke="#1a1a1a" stroke-width="0.06">6</text>
<line x1="380.50" y1="359.80" x2="383.80" y2="359.80" stroke="#1a1a1a" stroke-width="1"/>
<text x="377.80" y="362.80" font-size="8.4" text-anchor="end" stroke="#1a1a1a" stroke-width="0.06">8</text>
<line x1="380.50" y1="344.70" x2="383.80" y2="344.70" stroke="#1a1a1a" stroke-width="1"/>
<text x="377.80" y="347.70" font-size="8.4" text-anchor="end" stroke="#1a1a1a" stroke-width="0.06">10</text>
<line x1="401.10" y1="420.20" x2="401.10" y2="422.60" stroke="#1a1a1a" stroke-width="1"/>
<line x1="441.40" y1="420.20" x2="441.40" y2="422.60" stroke="#1a1a1a" stroke-width="1"/>
<line x1="393.50" y1="413.20" x2="393.50" y2="412.20" stroke="#222" stroke-width="1.1"/>
<line x1="391.00" y1="412.20" x2="396.00" y2="412.20" stroke="#222" stroke-width="1.1"/>
<rect x="388.30" y="413.20" width="9.90" height="7.00" fill="#3db54a"/>
<line x1="408.50" y1="371.80" x2="408.50" y2="357.00" stroke="#222" stroke-width="1.1"/>
<line x1="406.00" y1="357.00" x2="411.00" y2="357.00" stroke="#222" stroke-width="1.1"/>
<rect x="403.70" y="371.80" width="10.00" height="48.40" fill="#c8102e"/>
<line x1="433.50" y1="413.20" x2="433.50" y2="410.20" stroke="#222" stroke-width="1.1"/>
<line x1="431.00" y1="410.20" x2="436.00" y2="410.20" stroke="#222" stroke-width="1.1"/>
<rect x="429.00" y="413.20" width="9.80" height="7.00" fill="#3db54a"/>
<line x1="449.50" y1="376.20" x2="449.50" y2="375.40" stroke="#222" stroke-width="1.1"/>
<line x1="447.00" y1="375.40" x2="452.00" y2="375.40" stroke="#222" stroke-width="1.1"/>
<rect x="444.40" y="376.20" width="10.00" height="44.00" fill="#c8102e"/>
<text x="401.00" y="431.60" font-size="8.1" text-anchor="middle" stroke="#1a1a1a" stroke-width="0.06">HepG2</text>
<text x="441.80" y="431.60" font-size="8.1" text-anchor="middle" stroke="#1a1a1a" stroke-width="0.06">THP-1 M&#966;</text>
<text x="351.20" y="380.00" font-size="7.6" text-anchor="middle" textLength="58" lengthAdjust="spacingAndGlyphs" stroke="#1a1a1a" stroke-width="0.26" transform="rotate(-90 351.20 380.00)">Platelet positive cells</text>
<text x="362.60" y="380.00" font-size="7.6" text-anchor="middle" textLength="38.4" lengthAdjust="spacingAndGlyphs" stroke="#1a1a1a" stroke-width="0.26" transform="rotate(-90 362.60 380.00)">(fold change)</text>
<rect x="462.40" y="344.60" width="4.80" height="4.80" fill="#3db54a"/>
<rect x="462.40" y="354.30" width="4.80" height="4.80" fill="#c8102e"/>
<text x="471.00" y="349.90" font-size="7.6" text-anchor="start" textLength="42.4" lengthAdjust="spacingAndGlyphs">Healthy donor</text>
<text x="471.00" y="359.80" font-size="7.6" text-anchor="start" stroke="#1a1a1a" stroke-width="0.06">P1</text>
<text x="7.00" y="491.50" font-size="10.5" text-anchor="start" font-weight="bold" fill="#000" stroke="#000" stroke-width="0.3">I</text>
<line x1="50.10" y1="498.30" x2="50.10" y2="578.50" stroke="#1a1a1a" stroke-width="1.2"/>
<line x1="49.50" y1="578.00" x2="100.60" y2="578.00" stroke="#1a1a1a" stroke-width="1.2"/>
<line x1="46.80" y1="578.00" x2="50.10" y2="578.00" stroke="#1a1a1a" stroke-width="1"/>
<text x="44.60" y="581.00" font-size="8.4" text-anchor="end" stroke="#1a1a1a" stroke-width="0.06">0</text>
<line x1="46.80" y1="559.00" x2="50.10" y2="559.00" stroke="#1a1a1a" stroke-width="1"/>
<text x="44.60" y="562.00" font-size="8.4" text-anchor="end" stroke="#1a1a1a" stroke-width="0.06">5</text>
<line x1="46.80" y1="540.00" x2="50.10" y2="540.00" stroke="#1a1a1a" stroke-width="1"/>
<text x="44.60" y="543.00" font-size="8.4" text-anchor="end" stroke="#1a1a1a" stroke-width="0.06">10</text>
<line x1="46.80" y1="521.00" x2="50.10" y2="521.00" stroke="#1a1a1a" stroke-width="1"/>
<text x="44.60" y="524.00" font-size="8.4" text-anchor="end" stroke="#1a1a1a" stroke-width="0.06">15</text>
<line x1="46.80" y1="502.00" x2="50.10" y2="502.00" stroke="#1a1a1a" stroke-width="1"/>
<text x="44.60" y="505.00" font-size="8.4" text-anchor="end" stroke="#1a1a1a" stroke-width="0.06">20</text>
<line x1="64.50" y1="578.00" x2="64.50" y2="564.50" stroke="#222" stroke-width="1"/>
<line x1="62.90" y1="564.50" x2="66.60" y2="564.50" stroke="#222" stroke-width="1"/>
<rect x="59.50" y="576.60" width="10.10" height="1.40" fill="#15558b"/>
<line x1="86.00" y1="533.00" x2="86.00" y2="518.80" stroke="#222" stroke-width="1"/>
<line x1="84.00" y1="518.80" x2="88.00" y2="518.80" stroke="#222" stroke-width="1"/>
<rect x="81.00" y="533.00" width="10.10" height="45.00" fill="#c8102e"/>
<line x1="64.50" y1="578.00" x2="64.50" y2="580.70" stroke="#1a1a1a" stroke-width="1"/>
<line x1="86.00" y1="578.00" x2="86.00" y2="580.70" stroke="#1a1a1a" stroke-width="1"/>
<text x="66.40" y="587.60" font-size="7.6" text-anchor="end" stroke="#1a1a1a" stroke-width="0.06" transform="rotate(-45 66.40 587.60)">Control</text>
<text x="88.20" y="587.20" font-size="7.6" text-anchor="end" stroke="#1a1a1a" stroke-width="0.06" transform="rotate(-45 88.20 587.20)">P1</text>
<text x="30.00" y="538.00" font-size="7.6" text-anchor="middle" textLength="55" lengthAdjust="spacingAndGlyphs" stroke="#1a1a1a" stroke-width="0.26" transform="rotate(-90 30.00 538.00)">FRET efficiency (%)</text>
<text x="154.50" y="491.50" font-size="10.5" text-anchor="start" font-weight="bold" fill="#000" stroke="#000" stroke-width="0.3">J</text>
<line x1="183.20" y1="498.80" x2="183.20" y2="578.50" stroke="#1a1a1a" stroke-width="1.2"/>
<line x1="182.60" y1="578.00" x2="301.20" y2="578.00" stroke="#1a1a1a" stroke-width="1.2"/>
<line x1="179.90" y1="578.00" x2="183.20" y2="578.00" stroke="#1a1a1a" stroke-width="1"/>
<text x="177.70" y="581.00" font-size="8.4" text-anchor="end" stroke="#1a1a1a" stroke-width="0.06">0</text>
<line x1="179.90" y1="559.00" x2="183.20" y2="559.00" stroke="#1a1a1a" stroke-width="1"/>
<text x="177.70" y="562.00" font-size="8.4" text-anchor="end" stroke="#1a1a1a" stroke-width="0.06">20</text>
<line x1="179.90" y1="540.00" x2="183.20" y2="540.00" stroke="#1a1a1a" stroke-width="1"/>
<text x="177.70" y="543.00" font-size="8.4" text-anchor="end" stroke="#1a1a1a" stroke-width="0.06">40</text>
<line x1="179.90" y1="521.00" x2="183.20" y2="521.00" stroke="#1a1a1a" stroke-width="1"/>
<text x="177.70" y="524.00" font-size="8.4" text-anchor="end" stroke="#1a1a1a" stroke-width="0.06">60</text>
<line x1="179.90" y1="502.00" x2="183.20" y2="502.00" stroke="#1a1a1a" stroke-width="1"/>
<text x="177.70" y="505.00" font-size="8.4" text-anchor="end" stroke="#1a1a1a" stroke-width="0.06">80</text>
<line x1="196.90" y1="578.00" x2="196.90" y2="580.20" stroke="#1a1a1a" stroke-width="1"/>
<text x="196.90" y="590.40" font-size="8.4" text-anchor="middle" stroke="#1a1a1a" stroke-width="0.06">0</text>
<line x1="213.65" y1="578.00" x2="213.65" y2="580.20" stroke="#1a1a1a" stroke-width="1"/>
<text x="213.65" y="590.40" font-size="8.4" text-anchor="middle" stroke="#1a1a1a" stroke-width="0.06">5</text>
<line x1="230.40" y1="578.00" x2="230.40" y2="580.20" stroke="#1a1a1a" stroke-width="1"/>
<text x="230.40" y="590.40" font-size="8.4" text-anchor="middle" stroke="#1a1a1a" stroke-width="0.06">10</text>
<line x1="247.15" y1="578.00" x2="247.15" y2="580.20" stroke="#1a1a1a" stroke-width="1"/>
<text x="247.15" y="590.40" font-size="8.4" text-anchor="middle" stroke="#1a1a1a" stroke-width="0.06">15</text>
<line x1="263.90" y1="578.00" x2="263.90" y2="580.20" stroke="#1a1a1a" stroke-width="1"/>
<text x="263.90" y="590.40" font-size="8.4" text-anchor="middle" stroke="#1a1a1a" stroke-width="0.06">20</text>
<line x1="280.65" y1="578.00" x2="280.65" y2="580.20" stroke="#1a1a1a" stroke-width="1"/>
<text x="280.65" y="590.40" font-size="8.4" text-anchor="middle" stroke="#1a1a1a" stroke-width="0.06">25</text>
<line x1="297.40" y1="578.00" x2="297.40" y2="580.20" stroke="#1a1a1a" stroke-width="1"/>
<text x="297.40" y="590.40" font-size="8.4" text-anchor="middle" stroke="#1a1a1a" stroke-width="0.06">30</text>
<text x="242.30" y="601.50" font-size="8.2" text-anchor="middle" textLength="20" lengthAdjust="spacingAndGlyphs" stroke="#1a1a1a" stroke-width="0.26">Weeks</text>
<text x="163.2" y="538.3" font-size="8" text-anchor="middle" transform="rotate(-90 163.2 538.3)" textLength="52" lengthAdjust="spacingAndGlyphs" stroke="#1a1a1a" stroke-width="0.2">PLT count (10<tspan font-size="5.5" dy="-2.8">9</tspan><tspan dy="2.8">/L)</tspan></text>
<line x1="189.70" y1="561.00" x2="189.70" y2="570.50" stroke="#e07080" stroke-width="1"/>
<line x1="187.70" y1="561.00" x2="191.70" y2="561.00" stroke="#e07080" stroke-width="1"/>
<line x1="187.70" y1="570.50" x2="191.70" y2="570.50" stroke="#e07080" stroke-width="1"/>
<polyline points="189.7,575.3 203.1,576.2 217.8,568 226,562.8 240,510.9 251.8,536" fill="none" stroke="#15558b" stroke-width="1.4"/>
<polyline points="189.7,565.8 214.5,570 217.5,562.5 226.6,563.8 230.2,554.3 237.1,549.4 246.9,541.6 267.5,538 287.8,530.5" fill="none" stroke="#c8102e" stroke-width="1.4"/>
<rect x="187.75" y="573.35" width="3.90" height="3.90" fill="#15558b"/>
<rect x="201.15" y="574.25" width="3.90" height="3.90" fill="#15558b"/>
<rect x="215.85" y="566.05" width="3.90" height="3.90" fill="#15558b"/>
<rect x="224.05" y="560.85" width="3.90" height="3.90" fill="#15558b"/>
<rect x="238.05" y="508.95" width="3.90" height="3.90" fill="#15558b"/>
<rect x="249.85" y="534.05" width="3.90" height="3.90" fill="#15558b"/>
<rect x="187.75" y="563.85" width="3.90" height="3.90" fill="#c8102e"/>
<rect x="212.55" y="568.05" width="3.90" height="3.90" fill="#c8102e"/>
<rect x="215.55" y="560.55" width="3.90" height="3.90" fill="#c8102e"/>
<rect x="224.65" y="561.85" width="3.90" height="3.90" fill="#c8102e"/>
<rect x="228.25" y="552.35" width="3.90" height="3.90" fill="#c8102e"/>
<rect x="235.15" y="547.45" width="3.90" height="3.90" fill="#c8102e"/>
<rect x="244.95" y="539.65" width="3.90" height="3.90" fill="#c8102e"/>
<rect x="265.55" y="536.05" width="3.90" height="3.90" fill="#c8102e"/>
<rect x="285.85" y="528.55" width="3.90" height="3.90" fill="#c8102e"/>
<line x1="196.95" y1="546.90" x2="196.95" y2="553.00" stroke="#000" stroke-width="1.3"/>
<path d="M193.9 552.4 L196.95 558.2 L200 552.4 Z" fill="#000"/>
<rect x="189.50" y="502.30" width="5.00" height="5.00" fill="#c8102e"/>
<rect x="189.50" y="512.30" width="5.00" height="5.00" fill="#15558b"/>
<text x="197.90" y="507.20" font-size="7.4" text-anchor="start" stroke="#1a1a1a" stroke-width="0.06">P1</text>
<text x="197.90" y="517.20" font-size="7.4" text-anchor="start" stroke="#1a1a1a" stroke-width="0.06">P2</text>
<rect x="0.5" y="0.5" width="519" height="610" fill="none" stroke="#000" stroke-width="1.2"/>
</svg></body></html>
